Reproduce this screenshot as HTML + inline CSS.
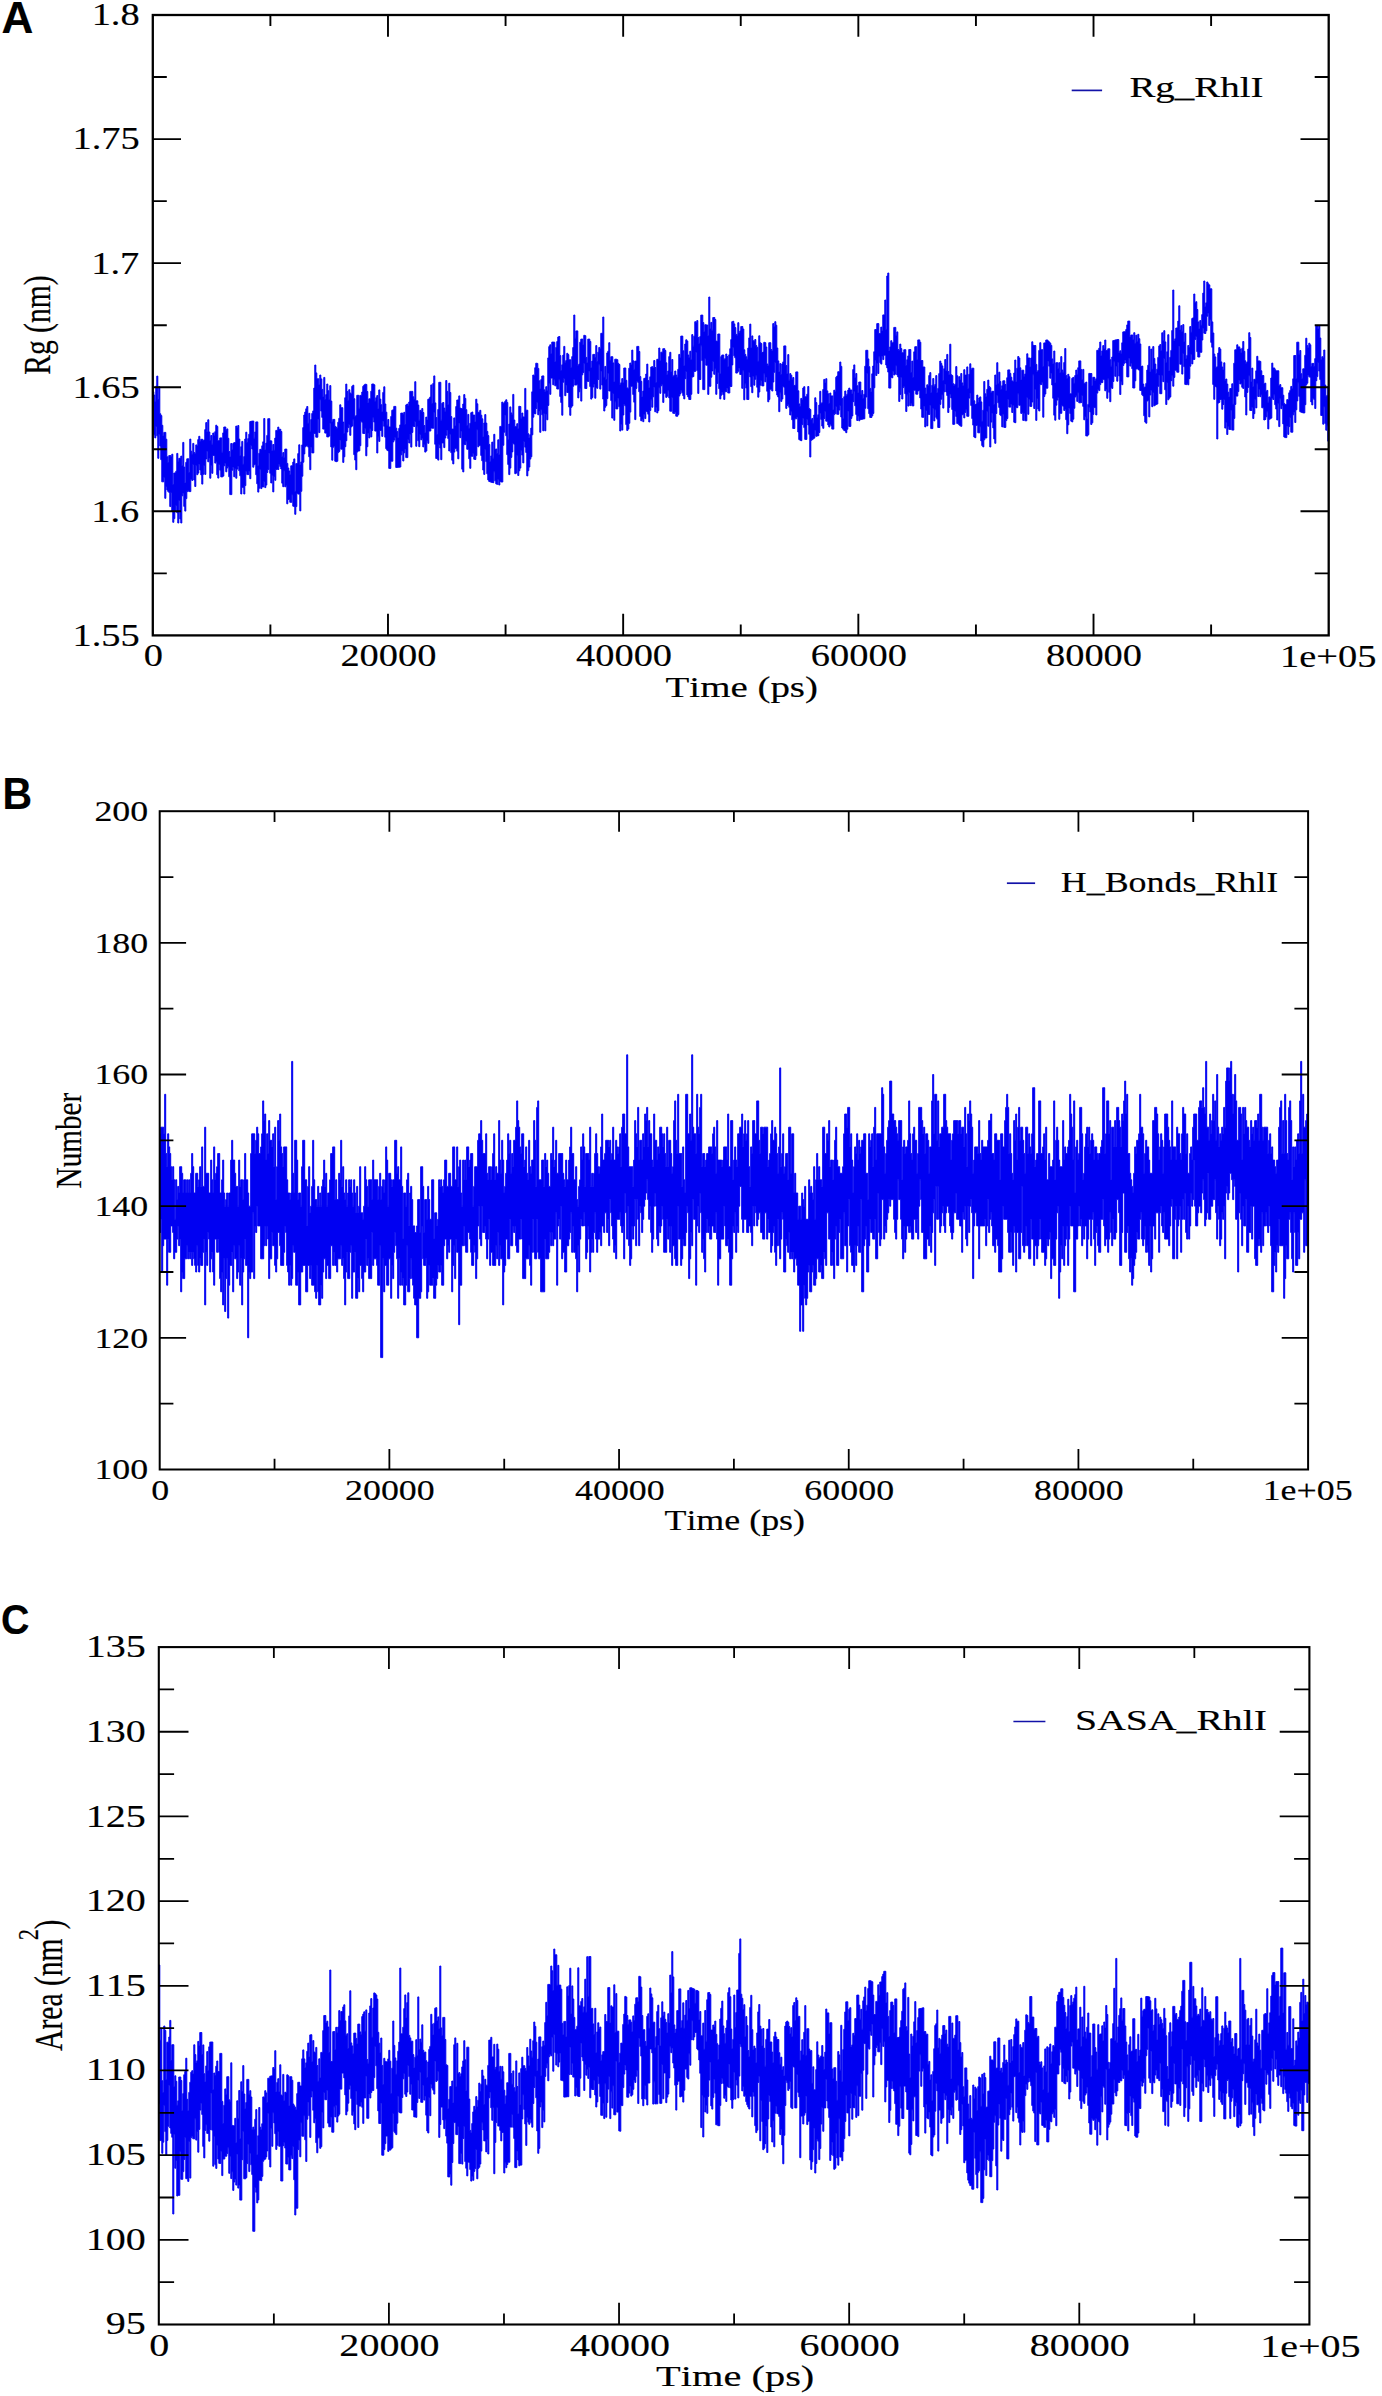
<!DOCTYPE html><html><head><meta charset="utf-8"><title>RhlI MD analysis</title><style>html,body{margin:0;padding:0;background:#fff;}svg{display:block;}</style></head><body><svg width="1382" height="2396" viewBox="0 0 1382 2396"><rect width="1382" height="2396" fill="#fff"/><polygon fill="#0000f2" stroke="#0000f2" stroke-width="1.0" stroke-linejoin="miter" points="152.8,391.8 153.8,391.8 153.8,395.1 154.8,395.1 154.8,401.2 155.8,401.2 155.8,386.2 156.8,386.2 156.8,376.1 157.8,376.1 157.8,399.5 158.8,399.5 158.8,386.6 159.8,386.6 159.8,413.8 160.8,413.8 160.8,415.6 161.8,415.6 161.8,425.3 162.8,425.3 162.8,435.9 163.8,435.9 163.8,432.4 164.8,432.4 164.8,432.4 165.8,432.4 165.8,439.2 166.8,439.2 166.8,456.8 167.8,456.8 167.8,462.6 168.8,462.6 168.8,455.6 169.8,455.6 169.8,455.6 170.8,455.6 170.8,457.0 171.8,457.0 171.8,454.2 172.8,454.2 172.8,484.6 173.8,484.6 173.8,473.0 174.8,473.0 174.8,473.0 175.8,473.0 175.8,471.2 176.8,471.2 176.8,453.4 177.8,453.4 177.8,461.2 178.8,461.2 178.8,458.3 179.8,458.3 179.8,458.3 180.8,458.3 180.8,456.1 181.8,456.1 181.8,465.7 182.8,465.7 182.8,442.4 183.8,442.4 183.8,467.1 184.8,467.1 184.8,482.9 185.8,482.9 185.8,462.3 186.8,462.3 186.8,458.8 187.8,458.8 187.8,458.8 188.8,458.8 188.8,472.5 189.8,472.5 189.8,439.1 190.8,439.1 190.8,451.2 191.8,451.2 191.8,454.3 192.8,454.3 192.8,443.4 193.8,443.4 193.8,452.6 194.8,452.6 194.8,453.4 195.8,453.4 195.8,444.9 196.8,444.9 196.8,446.1 197.8,446.1 197.8,439.6 198.8,439.6 198.8,436.3 199.8,436.3 199.8,441.6 200.8,441.6 200.8,439.3 201.8,439.3 201.8,439.3 202.8,439.3 202.8,440.8 203.8,440.8 203.8,439.9 204.8,439.9 204.8,429.6 205.8,429.6 205.8,422.6 206.8,422.6 206.8,431.9 207.8,431.9 207.8,419.8 208.8,419.8 208.8,432.0 209.8,432.0 209.8,440.6 210.8,440.6 210.8,435.5 211.8,435.5 211.8,444.2 212.8,444.2 212.8,433.0 213.8,433.0 213.8,435.2 214.8,435.2 214.8,431.7 215.8,431.7 215.8,425.2 216.8,425.2 216.8,426.5 217.8,426.5 217.8,440.7 218.8,440.7 218.8,440.6 219.8,440.6 219.8,437.9 220.8,437.9 220.8,437.9 221.8,437.9 221.8,452.2 222.8,452.2 222.8,432.9 223.8,432.9 223.8,427.0 224.8,427.0 224.8,427.0 225.8,427.0 225.8,430.3 226.8,430.3 226.8,428.9 227.8,428.9 227.8,438.3 228.8,438.3 228.8,451.5 229.8,451.5 229.8,457.1 230.8,457.1 230.8,443.5 231.8,443.5 231.8,450.0 232.8,450.0 232.8,443.5 233.8,443.5 233.8,442.6 234.8,442.6 234.8,442.6 235.8,442.6 235.8,426.1 236.8,426.1 236.8,428.0 237.8,428.0 237.8,425.5 238.8,425.5 238.8,439.1 239.8,439.1 239.8,455.8 240.8,455.8 240.8,446.7 241.8,446.7 241.8,441.4 242.8,441.4 242.8,464.3 243.8,464.3 243.8,456.6 244.8,456.6 244.8,439.0 245.8,439.0 245.8,432.2 246.8,432.2 246.8,442.5 247.8,442.5 247.8,438.6 248.8,438.6 248.8,434.2 249.8,434.2 249.8,421.6 250.8,421.6 250.8,421.3 251.8,421.3 251.8,421.1 252.8,421.1 252.8,421.1 253.8,421.1 253.8,438.2 254.8,438.2 254.8,431.9 255.8,431.9 255.8,421.9 256.8,421.9 256.8,421.9 257.8,421.9 257.8,465.7 258.8,465.7 258.8,453.3 259.8,453.3 259.8,449.3 260.8,449.3 260.8,449.8 261.8,449.8 261.8,445.8 262.8,445.8 262.8,441.8 263.8,441.8 263.8,418.5 264.8,418.5 264.8,449.9 265.8,449.9 265.8,443.1 266.8,443.1 266.8,435.4 267.8,435.4 267.8,418.7 268.8,418.7 268.8,418.7 269.8,418.7 269.8,440.7 270.8,440.7 270.8,440.9 271.8,440.9 271.8,451.0 272.8,451.0 272.8,444.5 273.8,444.5 273.8,450.3 274.8,450.3 274.8,438.1 275.8,438.1 275.8,430.4 276.8,430.4 276.8,430.4 277.8,430.4 277.8,427.1 278.8,427.1 278.8,429.3 279.8,429.3 279.8,429.3 280.8,429.3 280.8,431.5 281.8,431.5 281.8,456.4 282.8,456.4 282.8,452.6 283.8,452.6 283.8,457.8 284.8,457.8 284.8,449.1 285.8,449.1 285.8,449.1 286.8,449.1 286.8,463.4 287.8,463.4 287.8,468.0 288.8,468.0 288.8,471.0 289.8,471.0 289.8,474.8 290.8,474.8 290.8,465.8 291.8,465.8 291.8,465.8 292.8,465.8 292.8,462.1 293.8,462.1 293.8,458.9 294.8,458.9 294.8,491.6 295.8,491.6 295.8,463.6 296.8,463.6 296.8,463.6 297.8,463.6 297.8,453.6 298.8,453.6 298.8,444.8 299.8,444.8 299.8,465.1 300.8,465.1 300.8,461.9 301.8,461.9 301.8,444.9 302.8,444.9 302.8,427.6 303.8,427.6 303.8,415.0 304.8,415.0 304.8,412.0 305.8,412.0 305.8,408.8 306.8,408.8 306.8,406.5 307.8,406.5 307.8,423.3 308.8,423.3 308.8,413.3 309.8,413.3 309.8,431.2 310.8,431.2 310.8,419.5 311.8,419.5 311.8,413.4 312.8,413.4 312.8,410.9 313.8,410.9 313.8,388.1 314.8,388.1 314.8,365.0 315.8,365.0 315.8,372.9 316.8,372.9 316.8,378.8 317.8,378.8 317.8,378.8 318.8,378.8 318.8,385.0 319.8,385.0 319.8,375.0 320.8,375.0 320.8,378.9 321.8,378.9 321.8,389.4 322.8,389.4 322.8,397.1 323.8,397.1 323.8,377.4 324.8,377.4 324.8,399.5 325.8,399.5 325.8,394.6 326.8,394.6 326.8,384.0 327.8,384.0 327.8,390.7 328.8,390.7 328.8,399.8 329.8,399.8 329.8,385.6 330.8,385.6 330.8,401.1 331.8,401.1 331.8,421.7 332.8,421.7 332.8,419.4 333.8,419.4 333.8,419.4 334.8,419.4 334.8,426.4 335.8,426.4 335.8,427.3 336.8,427.3 336.8,428.5 337.8,428.5 337.8,422.2 338.8,422.2 338.8,418.3 339.8,418.3 339.8,404.8 340.8,404.8 340.8,407.7 341.8,407.7 341.8,407.7 342.8,407.7 342.8,422.1 343.8,422.1 343.8,433.6 344.8,433.6 344.8,397.7 345.8,397.7 345.8,384.1 346.8,384.1 346.8,391.5 347.8,391.5 347.8,400.4 348.8,400.4 348.8,389.7 349.8,389.7 349.8,393.0 350.8,393.0 350.8,393.9 351.8,393.9 351.8,386.3 352.8,386.3 352.8,385.2 353.8,385.2 353.8,398.7 354.8,398.7 354.8,416.5 355.8,416.5 355.8,415.5 356.8,415.5 356.8,395.3 357.8,395.3 357.8,395.3 358.8,395.3 358.8,408.2 359.8,408.2 359.8,395.4 360.8,395.4 360.8,395.4 361.8,395.4 361.8,392.0 362.8,392.0 362.8,386.3 363.8,386.3 363.8,385.1 364.8,385.1 364.8,384.2 365.8,384.2 365.8,384.4 366.8,384.4 366.8,391.5 367.8,391.5 367.8,402.9 368.8,402.9 368.8,398.8 369.8,398.8 369.8,398.8 370.8,398.8 370.8,391.2 371.8,391.2 371.8,384.0 372.8,384.0 372.8,384.0 373.8,384.0 373.8,384.8 374.8,384.8 374.8,401.3 375.8,401.3 375.8,397.7 376.8,397.7 376.8,395.6 377.8,395.6 377.8,409.1 378.8,409.1 378.8,389.9 379.8,389.9 379.8,399.1 380.8,399.1 380.8,404.7 381.8,404.7 381.8,412.0 382.8,412.0 382.8,392.4 383.8,392.4 383.8,386.8 384.8,386.8 384.8,404.0 385.8,404.0 385.8,412.2 386.8,412.2 386.8,425.2 387.8,425.2 387.8,419.5 388.8,419.5 388.8,427.0 389.8,427.0 389.8,427.0 390.8,427.0 390.8,416.4 391.8,416.4 391.8,410.3 392.8,410.3 392.8,409.8 393.8,409.8 393.8,406.4 394.8,406.4 394.8,406.4 395.8,406.4 395.8,428.2 396.8,428.2 396.8,431.6 397.8,431.6 397.8,438.1 398.8,438.1 398.8,428.3 399.8,428.3 399.8,424.9 400.8,424.9 400.8,413.1 401.8,413.1 401.8,413.1 402.8,413.1 402.8,414.3 403.8,414.3 403.8,412.3 404.8,412.3 404.8,424.5 405.8,424.5 405.8,404.9 406.8,404.9 406.8,404.1 407.8,404.1 407.8,406.0 408.8,406.0 408.8,402.0 409.8,402.0 409.8,391.4 410.8,391.4 410.8,391.4 411.8,391.4 411.8,391.4 412.8,391.4 412.8,396.8 413.8,396.8 413.8,399.3 414.8,399.3 414.8,381.7 415.8,381.7 415.8,400.8 416.8,400.8 416.8,400.8 417.8,400.8 417.8,405.1 418.8,405.1 418.8,420.2 419.8,420.2 419.8,410.3 420.8,410.3 420.8,411.3 421.8,411.3 421.8,408.5 422.8,408.5 422.8,412.5 423.8,412.5 423.8,425.5 424.8,425.5 424.8,433.0 425.8,433.0 425.8,417.1 426.8,417.1 426.8,419.9 427.8,419.9 427.8,399.3 428.8,399.3 428.8,398.8 429.8,398.8 429.8,397.1 430.8,397.1 430.8,384.9 431.8,384.9 431.8,403.5 432.8,403.5 432.8,383.5 433.8,383.5 433.8,375.9 434.8,375.9 434.8,402.9 435.8,402.9 435.8,417.6 436.8,417.6 436.8,434.5 437.8,434.5 437.8,409.5 438.8,409.5 438.8,382.3 439.8,382.3 439.8,382.3 440.8,382.3 440.8,420.2 441.8,420.2 441.8,403.2 442.8,403.2 442.8,402.5 443.8,402.5 443.8,408.1 444.8,408.1 444.8,411.2 445.8,411.2 445.8,380.5 446.8,380.5 446.8,391.4 447.8,391.4 447.8,404.7 448.8,404.7 448.8,383.2 449.8,383.2 449.8,392.5 450.8,392.5 450.8,416.6 451.8,416.6 451.8,429.1 452.8,429.1 452.8,429.1 453.8,429.1 453.8,417.9 454.8,417.9 454.8,426.1 455.8,426.1 455.8,406.5 456.8,406.5 456.8,400.0 457.8,400.0 457.8,400.0 458.8,400.0 458.8,395.9 459.8,395.9 459.8,408.1 460.8,408.1 460.8,408.6 461.8,408.6 461.8,408.8 462.8,408.8 462.8,404.0 463.8,404.0 463.8,394.6 464.8,394.6 464.8,398.4 465.8,398.4 465.8,409.7 466.8,409.7 466.8,425.6 467.8,425.6 467.8,414.4 468.8,414.4 468.8,428.3 469.8,428.3 469.8,423.3 470.8,423.3 470.8,412.7 471.8,412.7 471.8,412.0 472.8,412.0 472.8,415.1 473.8,415.1 473.8,415.1 474.8,415.1 474.8,422.1 475.8,422.1 475.8,399.2 476.8,399.2 476.8,403.8 477.8,403.8 477.8,412.3 478.8,412.3 478.8,412.3 479.8,412.3 479.8,410.3 480.8,410.3 480.8,415.2 481.8,415.2 481.8,418.8 482.8,418.8 482.8,437.1 483.8,437.1 483.8,423.0 484.8,423.0 484.8,414.6 485.8,414.6 485.8,423.1 486.8,423.1 486.8,431.4 487.8,431.4 487.8,435.6 488.8,435.6 488.8,444.4 489.8,444.4 489.8,461.4 490.8,461.4 490.8,455.9 491.8,455.9 491.8,442.1 492.8,442.1 492.8,458.2 493.8,458.2 493.8,434.3 494.8,434.3 494.8,449.3 495.8,449.3 495.8,449.0 496.8,449.0 496.8,453.5 497.8,453.5 497.8,439.8 498.8,439.8 498.8,454.8 499.8,454.8 499.8,426.4 500.8,426.4 500.8,426.4 501.8,426.4 501.8,402.1 502.8,402.1 502.8,403.8 503.8,403.8 503.8,402.7 504.8,402.7 504.8,401.3 505.8,401.3 505.8,399.8 506.8,399.8 506.8,402.4 507.8,402.4 507.8,439.7 508.8,439.7 508.8,424.1 509.8,424.1 509.8,406.9 510.8,406.9 510.8,412.9 511.8,412.9 511.8,414.4 512.8,414.4 512.8,394.4 513.8,394.4 513.8,420.0 514.8,420.0 514.8,426.4 515.8,426.4 515.8,426.4 516.8,426.4 516.8,423.7 517.8,423.7 517.8,428.8 518.8,428.8 518.8,406.3 519.8,406.3 519.8,406.5 520.8,406.5 520.8,418.2 521.8,418.2 521.8,413.0 522.8,413.0 522.8,416.9 523.8,416.9 523.8,416.9 524.8,416.9 524.8,388.4 525.8,388.4 525.8,410.2 526.8,410.2 526.8,410.2 527.8,410.2 527.8,433.7 528.8,433.7 528.8,437.9 529.8,437.9 529.8,434.7 530.8,434.7 530.8,428.1 531.8,428.1 531.8,391.8 532.8,391.8 532.8,375.0 533.8,375.0 533.8,375.7 534.8,375.7 534.8,367.7 535.8,367.7 535.8,363.2 536.8,363.2 536.8,363.4 537.8,363.4 537.8,368.4 538.8,368.4 538.8,380.8 539.8,380.8 539.8,389.1 540.8,389.1 540.8,379.6 541.8,379.6 541.8,376.0 542.8,376.0 542.8,375.9 543.8,375.9 543.8,389.8 544.8,389.8 544.8,391.8 545.8,391.8 545.8,386.7 546.8,386.7 546.8,390.7 547.8,390.7 547.8,357.9 548.8,357.9 548.8,346.6 549.8,346.6 549.8,344.8 550.8,344.8 550.8,353.8 551.8,353.8 551.8,342.1 552.8,342.1 552.8,342.1 553.8,342.1 553.8,342.2 554.8,342.2 554.8,361.7 555.8,361.7 555.8,347.4 556.8,347.4 556.8,341.5 557.8,341.5 557.8,337.0 558.8,337.0 558.8,336.5 559.8,336.5 559.8,355.6 560.8,355.6 560.8,370.6 561.8,370.6 561.8,364.8 562.8,364.8 562.8,355.1 563.8,355.1 563.8,346.4 564.8,346.4 564.8,362.2 565.8,362.2 565.8,360.5 566.8,360.5 566.8,353.3 567.8,353.3 567.8,354.6 568.8,354.6 568.8,359.8 569.8,359.8 569.8,359.8 570.8,359.8 570.8,367.4 571.8,367.4 571.8,356.6 572.8,356.6 572.8,347.5 573.8,347.5 573.8,315.0 574.8,315.0 574.8,338.2 575.8,338.2 575.8,330.9 576.8,330.9 576.8,330.9 577.8,330.9 577.8,365.5 578.8,365.5 578.8,364.1 579.8,364.1 579.8,342.2 580.8,342.2 580.8,339.1 581.8,339.1 581.8,339.1 582.8,339.1 582.8,345.1 583.8,345.1 583.8,335.3 584.8,335.3 584.8,335.7 585.8,335.7 585.8,357.4 586.8,357.4 586.8,363.0 587.8,363.0 587.8,339.1 588.8,339.1 588.8,339.1 589.8,339.1 589.8,341.4 590.8,341.4 590.8,368.0 591.8,368.0 591.8,361.1 592.8,361.1 592.8,354.4 593.8,354.4 593.8,354.4 594.8,354.4 594.8,357.6 595.8,357.6 595.8,345.6 596.8,345.6 596.8,361.5 597.8,361.5 597.8,352.2 598.8,352.2 598.8,347.4 599.8,347.4 599.8,349.0 600.8,349.0 600.8,333.3 601.8,333.3 601.8,333.3 602.8,333.3 602.8,317.0 603.8,317.0 603.8,377.3 604.8,377.3 604.8,366.4 605.8,366.4 605.8,379.5 606.8,379.5 606.8,352.9 607.8,352.9 607.8,351.2 608.8,351.2 608.8,342.7 609.8,342.7 609.8,360.3 610.8,360.3 610.8,356.7 611.8,356.7 611.8,356.7 612.8,356.7 612.8,362.9 613.8,362.9 613.8,382.1 614.8,382.1 614.8,359.2 615.8,359.2 615.8,359.2 616.8,359.2 616.8,359.7 617.8,359.7 617.8,363.3 618.8,363.3 618.8,364.5 619.8,364.5 619.8,384.4 620.8,384.4 620.8,382.8 621.8,382.8 621.8,378.6 622.8,378.6 622.8,383.0 623.8,383.0 623.8,368.0 624.8,368.0 624.8,368.0 625.8,368.0 625.8,380.3 626.8,380.3 626.8,387.9 627.8,387.9 627.8,388.4 628.8,388.4 628.8,368.2 629.8,368.2 629.8,363.0 630.8,363.0 630.8,365.0 631.8,365.0 631.8,350.1 632.8,350.1 632.8,360.8 633.8,360.8 633.8,369.4 634.8,369.4 634.8,361.1 635.8,361.1 635.8,361.1 636.8,361.1 636.8,346.4 637.8,346.4 637.8,346.4 638.8,346.4 638.8,351.5 639.8,351.5 639.8,376.6 640.8,376.6 640.8,381.3 641.8,381.3 641.8,396.9 642.8,396.9 642.8,391.1 643.8,391.1 643.8,378.4 644.8,378.4 644.8,378.0 645.8,378.0 645.8,374.0 646.8,374.0 646.8,364.1 647.8,364.1 647.8,380.6 648.8,380.6 648.8,388.0 649.8,388.0 649.8,376.8 650.8,376.8 650.8,367.1 651.8,367.1 651.8,366.7 652.8,366.7 652.8,367.9 653.8,367.9 653.8,360.5 654.8,360.5 654.8,367.5 655.8,367.5 655.8,382.6 656.8,382.6 656.8,359.3 657.8,359.3 657.8,359.3 658.8,359.3 658.8,348.0 659.8,348.0 659.8,361.0 660.8,361.0 660.8,352.2 661.8,352.2 661.8,352.2 662.8,352.2 662.8,348.7 663.8,348.7 663.8,348.7 664.8,348.7 664.8,350.5 665.8,350.5 665.8,362.8 666.8,362.8 666.8,374.7 667.8,374.7 667.8,371.0 668.8,371.0 668.8,356.6 669.8,356.6 669.8,352.3 670.8,352.3 670.8,372.1 671.8,372.1 671.8,359.5 672.8,359.5 672.8,376.5 673.8,376.5 673.8,375.3 674.8,375.3 674.8,371.0 675.8,371.0 675.8,375.1 676.8,375.1 676.8,377.3 677.8,377.3 677.8,369.3 678.8,369.3 678.8,354.4 679.8,354.4 679.8,358.1 680.8,358.1 680.8,336.1 681.8,336.1 681.8,336.1 682.8,336.1 682.8,350.8 683.8,350.8 683.8,366.0 684.8,366.0 684.8,344.0 685.8,344.0 685.8,339.8 686.8,339.8 686.8,341.0 687.8,341.0 687.8,355.0 688.8,355.0 688.8,357.4 689.8,357.4 689.8,351.2 690.8,351.2 690.8,359.8 691.8,359.8 691.8,334.6 692.8,334.6 692.8,346.2 693.8,346.2 693.8,336.2 694.8,336.2 694.8,321.7 695.8,321.7 695.8,322.7 696.8,322.7 696.8,320.6 697.8,320.6 697.8,337.5 698.8,337.5 698.8,343.4 699.8,343.4 699.8,336.6 700.8,336.6 700.8,315.1 701.8,315.1 701.8,315.1 702.8,315.1 702.8,322.6 703.8,322.6 703.8,331.7 704.8,331.7 704.8,324.7 705.8,324.7 705.8,324.9 706.8,324.9 706.8,325.1 707.8,325.1 707.8,335.7 708.8,335.7 708.8,297.0 709.8,297.0 709.8,329.0 710.8,329.0 710.8,322.4 711.8,322.4 711.8,330.2 712.8,330.2 712.8,317.5 713.8,317.5 713.8,317.5 714.8,317.5 714.8,319.5 715.8,319.5 715.8,341.1 716.8,341.1 716.8,341.5 717.8,341.5 717.8,334.0 718.8,334.0 718.8,334.0 719.8,334.0 719.8,374.0 720.8,374.0 720.8,356.6 721.8,356.6 721.8,355.0 722.8,355.0 722.8,355.0 723.8,355.0 723.8,359.2 724.8,359.2 724.8,358.7 725.8,358.7 725.8,354.0 726.8,354.0 726.8,356.5 727.8,356.5 727.8,366.8 728.8,366.8 728.8,354.8 729.8,354.8 729.8,348.7 730.8,348.7 730.8,339.6 731.8,339.6 731.8,321.7 732.8,321.7 732.8,321.3 733.8,321.3 733.8,323.9 734.8,323.9 734.8,327.6 735.8,327.6 735.8,334.4 736.8,334.4 736.8,335.2 737.8,335.2 737.8,322.7 738.8,322.7 738.8,332.9 739.8,332.9 739.8,331.0 740.8,331.0 740.8,326.5 741.8,326.5 741.8,326.5 742.8,326.5 742.8,329.0 743.8,329.0 743.8,349.8 744.8,349.8 744.8,354.4 745.8,354.4 745.8,356.8 746.8,356.8 746.8,359.3 747.8,359.3 747.8,348.1 748.8,348.1 748.8,337.9 749.8,337.9 749.8,324.1 750.8,324.1 750.8,348.1 751.8,348.1 751.8,335.9 752.8,335.9 752.8,340.7 753.8,340.7 753.8,341.3 754.8,341.3 754.8,339.5 755.8,339.5 755.8,345.6 756.8,345.6 756.8,347.4 757.8,347.4 757.8,361.3 758.8,361.3 758.8,335.8 759.8,335.8 759.8,342.7 760.8,342.7 760.8,343.5 761.8,343.5 761.8,352.5 762.8,352.5 762.8,352.1 763.8,352.1 763.8,342.3 764.8,342.3 764.8,342.7 765.8,342.7 765.8,347.0 766.8,347.0 766.8,364.0 767.8,364.0 767.8,365.7 768.8,365.7 768.8,342.7 769.8,342.7 769.8,342.7 770.8,342.7 770.8,349.5 771.8,349.5 771.8,350.9 772.8,350.9 772.8,323.6 773.8,323.6 773.8,326.8 774.8,326.8 774.8,321.7 775.8,321.7 775.8,325.2 776.8,325.2 776.8,348.0 777.8,348.0 777.8,360.9 778.8,360.9 778.8,371.9 779.8,371.9 779.8,363.6 780.8,363.6 780.8,374.5 781.8,374.5 781.8,363.9 782.8,363.9 782.8,361.9 783.8,361.9 783.8,345.9 784.8,345.9 784.8,345.9 785.8,345.9 785.8,365.5 786.8,365.5 786.8,374.0 787.8,374.0 787.8,354.6 788.8,354.6 788.8,380.2 789.8,380.2 789.8,373.6 790.8,373.6 790.8,375.2 791.8,375.2 791.8,379.2 792.8,379.2 792.8,377.5 793.8,377.5 793.8,385.6 794.8,385.6 794.8,385.2 795.8,385.2 795.8,371.9 796.8,371.9 796.8,371.9 797.8,371.9 797.8,390.8 798.8,390.8 798.8,403.9 799.8,403.9 799.8,406.6 800.8,406.6 800.8,398.4 801.8,398.4 801.8,400.1 802.8,400.1 802.8,388.0 803.8,388.0 803.8,386.7 804.8,386.7 804.8,396.8 805.8,396.8 805.8,396.7 806.8,396.7 806.8,394.2 807.8,394.2 807.8,386.5 808.8,386.5 808.8,408.6 809.8,408.6 809.8,409.5 810.8,409.5 810.8,419.7 811.8,419.7 811.8,418.4 812.8,418.4 812.8,423.3 813.8,423.3 813.8,415.0 814.8,415.0 814.8,397.8 815.8,397.8 815.8,402.6 816.8,402.6 816.8,417.2 817.8,417.2 817.8,414.7 818.8,414.7 818.8,405.1 819.8,405.1 819.8,391.3 820.8,391.3 820.8,403.2 821.8,403.2 821.8,402.8 822.8,402.8 822.8,389.5 823.8,389.5 823.8,379.4 824.8,379.4 824.8,382.9 825.8,382.9 825.8,378.7 826.8,378.7 826.8,390.9 827.8,390.9 827.8,393.8 828.8,393.8 828.8,403.5 829.8,403.5 829.8,393.0 830.8,393.0 830.8,395.9 831.8,395.9 831.8,395.9 832.8,395.9 832.8,410.1 833.8,410.1 833.8,390.2 834.8,390.2 834.8,391.8 835.8,391.8 835.8,377.2 836.8,377.2 836.8,376.0 837.8,376.0 837.8,371.7 838.8,371.7 838.8,371.7 839.8,371.7 839.8,362.0 840.8,362.0 840.8,366.4 841.8,366.4 841.8,398.6 842.8,398.6 842.8,418.8 843.8,418.8 843.8,396.7 844.8,396.7 844.8,391.0 845.8,391.0 845.8,395.9 846.8,395.9 846.8,394.2 847.8,394.2 847.8,390.1 848.8,390.1 848.8,388.1 849.8,388.1 849.8,390.0 850.8,390.0 850.8,390.0 851.8,390.0 851.8,394.1 852.8,394.1 852.8,369.5 853.8,369.5 853.8,364.9 854.8,364.9 854.8,377.8 855.8,377.8 855.8,373.5 856.8,373.5 856.8,385.7 857.8,385.7 857.8,393.1 858.8,393.1 858.8,382.0 859.8,382.0 859.8,382.0 860.8,382.0 860.8,394.2 861.8,394.2 861.8,390.5 862.8,390.5 862.8,398.6 863.8,398.6 863.8,394.3 864.8,394.3 864.8,366.2 865.8,366.2 865.8,350.3 866.8,350.3 866.8,350.3 867.8,350.3 867.8,358.9 868.8,358.9 868.8,366.7 869.8,366.7 869.8,388.4 870.8,388.4 870.8,391.9 871.8,391.9 871.8,373.8 872.8,373.8 872.8,366.0 873.8,366.0 873.8,351.7 874.8,351.7 874.8,329.5 875.8,329.5 875.8,329.5 876.8,329.5 876.8,323.6 877.8,323.6 877.8,323.6 878.8,323.6 878.8,333.6 879.8,333.6 879.8,333.6 880.8,333.6 880.8,327.1 881.8,327.1 881.8,330.9 882.8,330.9 882.8,314.9 883.8,314.9 883.8,314.9 884.8,314.9 884.8,300.0 885.8,300.0 885.8,329.4 886.8,329.4 886.8,276.0 887.8,276.0 887.8,273.0 888.8,273.0 888.8,350.9 889.8,350.9 889.8,346.9 890.8,346.9 890.8,340.7 891.8,340.7 891.8,343.1 892.8,343.1 892.8,342.5 893.8,342.5 893.8,327.4 894.8,327.4 894.8,327.4 895.8,327.4 895.8,335.2 896.8,335.2 896.8,331.9 897.8,331.9 897.8,349.5 898.8,349.5 898.8,350.5 899.8,350.5 899.8,344.1 900.8,344.1 900.8,348.6 901.8,348.6 901.8,352.7 902.8,352.7 902.8,352.7 903.8,352.7 903.8,349.7 904.8,349.7 904.8,349.7 905.8,349.7 905.8,365.5 906.8,365.5 906.8,359.7 907.8,359.7 907.8,355.9 908.8,355.9 908.8,349.5 909.8,349.5 909.8,349.5 910.8,349.5 910.8,372.6 911.8,372.6 911.8,361.1 912.8,361.1 912.8,377.5 913.8,377.5 913.8,351.8 914.8,351.8 914.8,346.7 915.8,346.7 915.8,346.7 916.8,346.7 916.8,359.8 917.8,359.8 917.8,339.9 918.8,339.9 918.8,339.9 919.8,339.9 919.8,342.2 920.8,342.2 920.8,360.5 921.8,360.5 921.8,360.5 922.8,360.5 922.8,367.0 923.8,367.0 923.8,367.0 924.8,367.0 924.8,388.1 925.8,388.1 925.8,394.1 926.8,394.1 926.8,384.8 927.8,384.8 927.8,385.9 928.8,385.9 928.8,375.5 929.8,375.5 929.8,372.6 930.8,372.6 930.8,392.7 931.8,392.7 931.8,385.3 932.8,385.3 932.8,378.5 933.8,378.5 933.8,386.5 934.8,386.5 934.8,384.5 935.8,384.5 935.8,375.6 936.8,375.6 936.8,392.7 937.8,392.7 937.8,388.4 938.8,388.4 938.8,373.6 939.8,373.6 939.8,361.1 940.8,361.1 940.8,363.4 941.8,363.4 941.8,365.9 942.8,365.9 942.8,380.6 943.8,380.6 943.8,368.7 944.8,368.7 944.8,359.5 945.8,359.5 945.8,371.1 946.8,371.1 946.8,354.4 947.8,354.4 947.8,371.5 948.8,371.5 948.8,375.0 949.8,375.0 949.8,344.2 950.8,344.2 950.8,374.7 951.8,374.7 951.8,375.6 952.8,375.6 952.8,383.7 953.8,383.7 953.8,385.4 954.8,385.4 954.8,384.2 955.8,384.2 955.8,366.6 956.8,366.6 956.8,375.8 957.8,375.8 957.8,387.8 958.8,387.8 958.8,376.7 959.8,376.7 959.8,380.1 960.8,380.1 960.8,373.5 961.8,373.5 961.8,382.9 962.8,382.9 962.8,385.8 963.8,385.8 963.8,369.7 964.8,369.7 964.8,375.1 965.8,375.1 965.8,375.1 966.8,375.1 966.8,366.9 967.8,366.9 967.8,388.4 968.8,388.4 968.8,374.3 969.8,374.3 969.8,363.8 970.8,363.8 970.8,370.0 971.8,370.0 971.8,368.2 972.8,368.2 972.8,368.2 973.8,368.2 973.8,400.8 974.8,400.8 974.8,404.6 975.8,404.6 975.8,404.1 976.8,404.1 976.8,395.1 977.8,395.1 977.8,402.5 978.8,402.5 978.8,398.0 979.8,398.0 979.8,396.9 980.8,396.9 980.8,401.9 981.8,401.9 981.8,421.3 982.8,421.3 982.8,410.2 983.8,410.2 983.8,381.5 984.8,381.5 984.8,393.8 985.8,393.8 985.8,396.7 986.8,396.7 986.8,389.3 987.8,389.3 987.8,380.1 988.8,380.1 988.8,386.5 989.8,386.5 989.8,387.7 990.8,387.7 990.8,392.8 991.8,392.8 991.8,391.3 992.8,391.3 992.8,391.3 993.8,391.3 993.8,404.5 994.8,404.5 994.8,375.0 995.8,375.0 995.8,385.1 996.8,385.1 996.8,362.7 997.8,362.7 997.8,383.7 998.8,383.7 998.8,372.2 999.8,372.2 999.8,381.4 1000.8,381.4 1000.8,389.5 1001.8,389.5 1001.8,385.7 1002.8,385.7 1002.8,380.8 1003.8,380.8 1003.8,380.8 1004.8,380.8 1004.8,384.5 1005.8,384.5 1005.8,391.0 1006.8,391.0 1006.8,377.7 1007.8,377.7 1007.8,369.9 1008.8,369.9 1008.8,369.9 1009.8,369.9 1009.8,373.4 1010.8,373.4 1010.8,377.2 1011.8,377.2 1011.8,380.9 1012.8,380.9 1012.8,381.8 1013.8,381.8 1013.8,373.0 1014.8,373.0 1014.8,360.0 1015.8,360.0 1015.8,382.1 1016.8,382.1 1016.8,368.2 1017.8,368.2 1017.8,356.5 1018.8,356.5 1018.8,358.0 1019.8,358.0 1019.8,367.8 1020.8,367.8 1020.8,379.9 1021.8,379.9 1021.8,370.2 1022.8,370.2 1022.8,370.2 1023.8,370.2 1023.8,376.2 1024.8,376.2 1024.8,373.9 1025.8,373.9 1025.8,365.5 1026.8,365.5 1026.8,353.8 1027.8,353.8 1027.8,358.0 1028.8,358.0 1028.8,358.0 1029.8,358.0 1029.8,367.1 1030.8,367.1 1030.8,358.0 1031.8,358.0 1031.8,341.8 1032.8,341.8 1032.8,345.3 1033.8,345.3 1033.8,345.5 1034.8,345.5 1034.8,345.5 1035.8,345.5 1035.8,364.4 1036.8,364.4 1036.8,371.9 1037.8,371.9 1037.8,370.5 1038.8,370.5 1038.8,350.4 1039.8,350.4 1039.8,342.7 1040.8,342.7 1040.8,349.7 1041.8,349.7 1041.8,349.7 1042.8,349.7 1042.8,366.6 1043.8,366.6 1043.8,342.9 1044.8,342.9 1044.8,342.9 1045.8,342.9 1045.8,340.0 1046.8,340.0 1046.8,340.0 1047.8,340.0 1047.8,341.1 1048.8,341.1 1048.8,342.0 1049.8,342.0 1049.8,343.2 1050.8,343.2 1050.8,345.4 1051.8,345.4 1051.8,358.9 1052.8,358.9 1052.8,363.7 1053.8,363.7 1053.8,351.0 1054.8,351.0 1054.8,382.9 1055.8,382.9 1055.8,362.7 1056.8,362.7 1056.8,362.7 1057.8,362.7 1057.8,368.4 1058.8,368.4 1058.8,362.7 1059.8,362.7 1059.8,372.7 1060.8,372.7 1060.8,356.6 1061.8,356.6 1061.8,370.0 1062.8,370.0 1062.8,372.2 1063.8,372.2 1063.8,362.5 1064.8,362.5 1064.8,348.5 1065.8,348.5 1065.8,375.6 1066.8,375.6 1066.8,378.6 1067.8,378.6 1067.8,374.3 1068.8,374.3 1068.8,376.8 1069.8,376.8 1069.8,393.8 1070.8,393.8 1070.8,393.8 1071.8,393.8 1071.8,378.3 1072.8,378.3 1072.8,377.4 1073.8,377.4 1073.8,383.3 1074.8,383.3 1074.8,375.5 1075.8,375.5 1075.8,370.1 1076.8,370.1 1076.8,374.4 1077.8,374.4 1077.8,367.7 1078.8,367.7 1078.8,360.9 1079.8,360.9 1079.8,360.9 1080.8,360.9 1080.8,369.6 1081.8,369.6 1081.8,379.7 1082.8,379.7 1082.8,369.4 1083.8,369.4 1083.8,383.2 1084.8,383.2 1084.8,383.2 1085.8,383.2 1085.8,382.1 1086.8,382.1 1086.8,418.9 1087.8,418.9 1087.8,404.4 1088.8,404.4 1088.8,373.4 1089.8,373.4 1089.8,373.5 1090.8,373.5 1090.8,373.5 1091.8,373.5 1091.8,386.0 1092.8,386.0 1092.8,377.3 1093.8,377.3 1093.8,377.3 1094.8,377.3 1094.8,380.7 1095.8,380.7 1095.8,378.8 1096.8,378.8 1096.8,350.3 1097.8,350.3 1097.8,350.3 1098.8,350.3 1098.8,348.2 1099.8,348.2 1099.8,342.0 1100.8,342.0 1100.8,356.0 1101.8,356.0 1101.8,350.9 1102.8,350.9 1102.8,345.6 1103.8,345.6 1103.8,349.1 1104.8,349.1 1104.8,340.0 1105.8,340.0 1105.8,350.5 1106.8,350.5 1106.8,350.5 1107.8,350.5 1107.8,348.8 1108.8,348.8 1108.8,348.8 1109.8,348.8 1109.8,359.7 1110.8,359.7 1110.8,366.2 1111.8,366.2 1111.8,357.0 1112.8,357.0 1112.8,340.6 1113.8,340.6 1113.8,340.6 1114.8,340.6 1114.8,339.9 1115.8,339.9 1115.8,339.9 1116.8,339.9 1116.8,339.5 1117.8,339.5 1117.8,339.6 1118.8,339.6 1118.8,352.4 1119.8,352.4 1119.8,350.8 1120.8,350.8 1120.8,353.2 1121.8,353.2 1121.8,342.8 1122.8,342.8 1122.8,331.9 1123.8,331.9 1123.8,331.7 1124.8,331.7 1124.8,331.7 1125.8,331.7 1125.8,329.5 1126.8,329.5 1126.8,324.9 1127.8,324.9 1127.8,321.1 1128.8,321.1 1128.8,321.1 1129.8,321.1 1129.8,337.0 1130.8,337.0 1130.8,335.0 1131.8,335.0 1131.8,335.0 1132.8,335.0 1132.8,339.8 1133.8,339.8 1133.8,332.7 1134.8,332.7 1134.8,343.3 1135.8,343.3 1135.8,335.2 1136.8,335.2 1136.8,341.4 1137.8,341.4 1137.8,334.3 1138.8,334.3 1138.8,338.7 1139.8,338.7 1139.8,344.0 1140.8,344.0 1140.8,366.5 1141.8,366.5 1141.8,366.1 1142.8,366.1 1142.8,384.1 1143.8,384.1 1143.8,387.2 1144.8,387.2 1144.8,387.1 1145.8,387.1 1145.8,383.4 1146.8,383.4 1146.8,370.1 1147.8,370.1 1147.8,365.2 1148.8,365.2 1148.8,346.4 1149.8,346.4 1149.8,372.1 1150.8,372.1 1150.8,349.1 1151.8,349.1 1151.8,369.3 1152.8,369.3 1152.8,346.6 1153.8,346.6 1153.8,358.4 1154.8,358.4 1154.8,364.1 1155.8,364.1 1155.8,373.5 1156.8,373.5 1156.8,369.2 1157.8,369.2 1157.8,357.4 1158.8,357.4 1158.8,345.9 1159.8,345.9 1159.8,344.6 1160.8,344.6 1160.8,350.8 1161.8,350.8 1161.8,332.8 1162.8,332.8 1162.8,341.1 1163.8,341.1 1163.8,330.7 1164.8,330.7 1164.8,341.9 1165.8,341.9 1165.8,362.4 1166.8,362.4 1166.8,351.7 1167.8,351.7 1167.8,334.7 1168.8,334.7 1168.8,370.9 1169.8,370.9 1169.8,357.3 1170.8,357.3 1170.8,350.4 1171.8,350.4 1171.8,330.5 1172.8,330.5 1172.8,290.0 1173.8,290.0 1173.8,341.1 1174.8,341.1 1174.8,338.8 1175.8,338.8 1175.8,328.0 1176.8,328.0 1176.8,328.0 1177.8,328.0 1177.8,321.1 1178.8,321.1 1178.8,305.8 1179.8,305.8 1179.8,329.9 1180.8,329.9 1180.8,325.6 1181.8,325.6 1181.8,331.4 1182.8,331.4 1182.8,324.6 1183.8,324.6 1183.8,342.0 1184.8,342.0 1184.8,333.3 1185.8,333.3 1185.8,359.0 1186.8,359.0 1186.8,355.4 1187.8,355.4 1187.8,345.5 1188.8,345.5 1188.8,347.5 1189.8,347.5 1189.8,326.6 1190.8,326.6 1190.8,332.3 1191.8,332.3 1191.8,318.5 1192.8,318.5 1192.8,317.8 1193.8,317.8 1193.8,294.0 1194.8,294.0 1194.8,303.0 1195.8,303.0 1195.8,301.7 1196.8,301.7 1196.8,309.5 1197.8,309.5 1197.8,321.9 1198.8,321.9 1198.8,329.1 1199.8,329.1 1199.8,320.6 1200.8,320.6 1200.8,325.3 1201.8,325.3 1201.8,314.6 1202.8,314.6 1202.8,293.1 1203.8,293.1 1203.8,281.0 1204.8,281.0 1204.8,307.0 1205.8,307.0 1205.8,302.8 1206.8,302.8 1206.8,282.0 1207.8,282.0 1207.8,283.8 1208.8,283.8 1208.8,284.9 1209.8,284.9 1209.8,288.8 1210.8,288.8 1210.8,288.8 1211.8,288.8 1211.8,321.9 1212.8,321.9 1212.8,333.0 1213.8,333.0 1213.8,354.0 1214.8,354.0 1214.8,356.9 1215.8,356.9 1215.8,367.4 1216.8,367.4 1216.8,366.8 1217.8,366.8 1217.8,353.1 1218.8,353.1 1218.8,347.6 1219.8,347.6 1219.8,349.1 1220.8,349.1 1220.8,361.9 1221.8,361.9 1221.8,367.0 1222.8,367.0 1222.8,370.1 1223.8,370.1 1223.8,362.8 1224.8,362.8 1224.8,380.2 1225.8,380.2 1225.8,379.0 1226.8,379.0 1226.8,384.1 1227.8,384.1 1227.8,392.2 1228.8,392.2 1228.8,396.9 1229.8,396.9 1229.8,388.5 1230.8,388.5 1230.8,388.5 1231.8,388.5 1231.8,383.8 1232.8,383.8 1232.8,404.3 1233.8,404.3 1233.8,363.2 1234.8,363.2 1234.8,349.8 1235.8,349.8 1235.8,349.8 1236.8,349.8 1236.8,344.8 1237.8,344.8 1237.8,346.9 1238.8,346.9 1238.8,346.9 1239.8,346.9 1239.8,349.0 1240.8,349.0 1240.8,353.0 1241.8,353.0 1241.8,348.3 1242.8,348.3 1242.8,341.5 1243.8,341.5 1243.8,351.3 1244.8,351.3 1244.8,360.8 1245.8,360.8 1245.8,363.6 1246.8,363.6 1246.8,362.0 1247.8,362.0 1247.8,349.1 1248.8,349.1 1248.8,332.7 1249.8,332.7 1249.8,337.5 1250.8,337.5 1250.8,382.1 1251.8,382.1 1251.8,368.1 1252.8,368.1 1252.8,386.7 1253.8,386.7 1253.8,379.3 1254.8,379.3 1254.8,379.3 1255.8,379.3 1255.8,370.8 1256.8,370.8 1256.8,356.3 1257.8,356.3 1257.8,360.9 1258.8,360.9 1258.8,360.9 1259.8,360.9 1259.8,361.4 1260.8,361.4 1260.8,370.8 1261.8,370.8 1261.8,375.6 1262.8,375.6 1262.8,375.5 1263.8,375.5 1263.8,384.0 1264.8,384.0 1264.8,383.2 1265.8,383.2 1265.8,391.6 1266.8,391.6 1266.8,390.4 1267.8,390.4 1267.8,402.2 1268.8,402.2 1268.8,396.9 1269.8,396.9 1269.8,397.4 1270.8,397.4 1270.8,378.0 1271.8,378.0 1271.8,363.1 1272.8,363.1 1272.8,368.0 1273.8,368.0 1273.8,368.0 1274.8,368.0 1274.8,369.8 1275.8,369.8 1275.8,370.9 1276.8,370.9 1276.8,370.8 1277.8,370.8 1277.8,370.8 1278.8,370.8 1278.8,385.8 1279.8,385.8 1279.8,384.6 1280.8,384.6 1280.8,387.7 1281.8,387.7 1281.8,387.7 1282.8,387.7 1282.8,395.2 1283.8,395.2 1283.8,403.4 1284.8,403.4 1284.8,404.6 1285.8,404.6 1285.8,404.5 1286.8,404.5 1286.8,399.6 1287.8,399.6 1287.8,399.9 1288.8,399.9 1288.8,392.8 1289.8,392.8 1289.8,390.4 1290.8,390.4 1290.8,386.4 1291.8,386.4 1291.8,388.8 1292.8,388.8 1292.8,378.8 1293.8,378.8 1293.8,355.5 1294.8,355.5 1294.8,355.5 1295.8,355.5 1295.8,378.7 1296.8,378.7 1296.8,342.2 1297.8,342.2 1297.8,342.2 1298.8,342.2 1298.8,354.2 1299.8,354.2 1299.8,350.5 1300.8,350.5 1300.8,373.7 1301.8,373.7 1301.8,378.4 1302.8,378.4 1302.8,368.8 1303.8,368.8 1303.8,368.8 1304.8,368.8 1304.8,355.3 1305.8,355.3 1305.8,338.2 1306.8,338.2 1306.8,345.6 1307.8,345.6 1307.8,348.0 1308.8,348.0 1308.8,343.2 1309.8,343.2 1309.8,344.8 1310.8,344.8 1310.8,366.6 1311.8,366.6 1311.8,363.4 1312.8,363.4 1312.8,363.4 1313.8,363.4 1313.8,366.5 1314.8,366.5 1314.8,358.6 1315.8,358.6 1315.8,326.1 1316.8,326.1 1316.8,326.1 1317.8,326.1 1317.8,329.0 1318.8,329.0 1318.8,325.6 1319.8,325.6 1319.8,338.0 1320.8,338.0 1320.8,359.8 1321.8,359.8 1321.8,356.7 1322.8,356.7 1322.8,358.1 1323.8,358.1 1323.8,350.0 1324.8,350.0 1324.8,385.1 1325.8,385.1 1325.8,396.3 1326.8,396.3 1326.8,395.4 1327.8,395.4 1327.8,386.6 1328.7,386.6 1328.7,441.2 1327.8,441.2 1327.8,425.8 1326.8,425.8 1326.8,430.2 1325.8,430.2 1325.8,423.4 1324.8,423.4 1324.8,406.7 1323.8,406.7 1323.8,424.2 1322.8,424.2 1322.8,415.5 1321.8,415.5 1321.8,415.5 1320.8,415.5 1320.8,379.6 1319.8,379.6 1319.8,371.1 1318.8,371.1 1318.8,362.5 1317.8,362.5 1317.8,376.6 1316.8,376.6 1316.8,380.7 1315.8,380.7 1315.8,408.5 1314.8,408.5 1314.8,399.4 1313.8,399.4 1313.8,398.0 1312.8,398.0 1312.8,404.9 1311.8,404.9 1311.8,401.9 1310.8,401.9 1310.8,377.2 1309.8,377.2 1309.8,376.8 1308.8,376.8 1308.8,374.9 1307.8,374.9 1307.8,383.2 1306.8,383.2 1306.8,384.9 1305.8,384.9 1305.8,404.7 1304.8,404.7 1304.8,412.9 1303.8,412.9 1303.8,412.9 1302.8,412.9 1302.8,412.6 1301.8,412.6 1301.8,412.2 1300.8,412.2 1300.8,411.7 1299.8,411.7 1299.8,396.4 1298.8,396.4 1298.8,382.8 1297.8,382.8 1297.8,400.9 1296.8,400.9 1296.8,409.8 1295.8,409.8 1295.8,422.5 1294.8,422.5 1294.8,412.1 1293.8,412.1 1293.8,414.8 1292.8,414.8 1292.8,432.2 1291.8,432.2 1291.8,432.2 1290.8,432.2 1290.8,417.5 1289.8,417.5 1289.8,426.6 1288.8,426.6 1288.8,434.4 1287.8,434.4 1287.8,426.1 1286.8,426.1 1286.8,437.6 1285.8,437.6 1285.8,437.6 1284.8,437.6 1284.8,436.9 1283.8,436.9 1283.8,423.9 1282.8,423.9 1282.8,405.4 1281.8,405.4 1281.8,408.7 1280.8,408.7 1280.8,398.8 1279.8,398.8 1279.8,426.6 1278.8,426.6 1278.8,403.6 1277.8,403.6 1277.8,420.0 1276.8,420.0 1276.8,409.1 1275.8,409.1 1275.8,404.8 1274.8,404.8 1274.8,394.8 1273.8,394.8 1273.8,399.5 1272.8,399.5 1272.8,397.9 1271.8,397.9 1271.8,418.1 1270.8,418.1 1270.8,418.8 1269.8,418.8 1269.8,419.3 1268.8,419.3 1268.8,428.9 1267.8,428.9 1267.8,411.8 1266.8,411.8 1266.8,416.8 1265.8,416.8 1265.8,419.5 1264.8,419.5 1264.8,420.0 1263.8,420.0 1263.8,407.8 1262.8,407.8 1262.8,407.8 1261.8,407.8 1261.8,394.7 1260.8,394.7 1260.8,396.7 1259.8,396.7 1259.8,389.2 1258.8,389.2 1258.8,396.5 1257.8,396.5 1257.8,383.8 1256.8,383.8 1256.8,407.9 1255.8,407.9 1255.8,399.6 1254.8,399.6 1254.8,413.7 1253.8,413.7 1253.8,418.5 1252.8,418.5 1252.8,407.2 1251.8,407.2 1251.8,410.5 1250.8,410.5 1250.8,410.5 1249.8,410.5 1249.8,375.7 1248.8,375.7 1248.8,387.4 1247.8,387.4 1247.8,392.4 1246.8,392.4 1246.8,415.0 1245.8,415.0 1245.8,397.0 1244.8,397.0 1244.8,379.3 1243.8,379.3 1243.8,388.4 1242.8,388.4 1242.8,387.3 1241.8,387.3 1241.8,383.3 1240.8,383.3 1240.8,384.0 1239.8,384.0 1239.8,380.3 1238.8,380.3 1238.8,391.6 1237.8,391.6 1237.8,396.1 1236.8,396.1 1236.8,396.1 1235.8,396.1 1235.8,404.4 1234.8,404.4 1234.8,418.4 1233.8,418.4 1233.8,430.1 1232.8,430.1 1232.8,430.1 1231.8,430.1 1231.8,410.0 1230.8,410.0 1230.8,429.4 1229.8,429.4 1229.8,429.4 1228.8,429.4 1228.8,426.6 1227.8,426.6 1227.8,434.5 1226.8,434.5 1226.8,422.2 1225.8,422.2 1225.8,428.1 1224.8,428.1 1224.8,399.5 1223.8,399.5 1223.8,404.5 1222.8,404.5 1222.8,409.2 1221.8,409.2 1221.8,399.5 1220.8,399.5 1220.8,399.5 1219.8,399.5 1219.8,402.4 1218.8,402.4 1218.8,403.1 1217.8,403.1 1217.8,439.0 1216.8,439.0 1216.8,387.0 1215.8,387.0 1215.8,385.9 1214.8,385.9 1214.8,399.3 1213.8,399.3 1213.8,384.5 1212.8,384.5 1212.8,347.3 1211.8,347.3 1211.8,342.4 1210.8,342.4 1210.8,319.7 1209.8,319.7 1209.8,325.5 1208.8,325.5 1208.8,312.9 1207.8,312.9 1207.8,316.2 1206.8,316.2 1206.8,330.8 1205.8,330.8 1205.8,333.5 1204.8,333.5 1204.8,333.2 1203.8,333.2 1203.8,328.0 1202.8,328.0 1202.8,340.0 1201.8,340.0 1201.8,352.3 1200.8,352.3 1200.8,352.3 1199.8,352.3 1199.8,357.0 1198.8,357.0 1198.8,357.0 1197.8,357.0 1197.8,351.7 1196.8,351.7 1196.8,336.4 1195.8,336.4 1195.8,339.4 1194.8,339.4 1194.8,359.4 1193.8,359.4 1193.8,359.4 1192.8,359.4 1192.8,363.9 1191.8,363.9 1191.8,354.2 1190.8,354.2 1190.8,366.2 1189.8,366.2 1189.8,378.7 1188.8,378.7 1188.8,384.8 1187.8,384.8 1187.8,383.7 1186.8,383.7 1186.8,384.6 1185.8,384.6 1185.8,384.4 1184.8,384.4 1184.8,366.7 1183.8,366.7 1183.8,353.5 1182.8,353.5 1182.8,374.1 1181.8,374.1 1181.8,364.2 1180.8,364.2 1180.8,364.2 1179.8,364.2 1179.8,345.9 1178.8,345.9 1178.8,372.2 1177.8,372.2 1177.8,372.2 1176.8,372.2 1176.8,370.3 1175.8,370.3 1175.8,370.3 1174.8,370.3 1174.8,377.4 1173.8,377.4 1173.8,386.2 1172.8,386.2 1172.8,375.8 1171.8,375.8 1171.8,380.7 1170.8,380.7 1170.8,396.9 1169.8,396.9 1169.8,398.2 1168.8,398.2 1168.8,399.8 1167.8,399.8 1167.8,382.5 1166.8,382.5 1166.8,404.5 1165.8,404.5 1165.8,389.8 1164.8,389.8 1164.8,358.5 1163.8,358.5 1163.8,381.7 1162.8,381.7 1162.8,375.2 1161.8,375.2 1161.8,393.7 1160.8,393.7 1160.8,393.7 1159.8,393.7 1159.8,375.1 1158.8,375.1 1158.8,386.3 1157.8,386.3 1157.8,404.0 1156.8,404.0 1156.8,404.4 1155.8,404.4 1155.8,405.1 1154.8,405.1 1154.8,405.8 1153.8,405.8 1153.8,392.4 1152.8,392.4 1152.8,406.7 1151.8,406.7 1151.8,390.3 1150.8,390.3 1150.8,395.0 1149.8,395.0 1149.8,416.9 1148.8,416.9 1148.8,400.0 1147.8,400.0 1147.8,401.0 1146.8,401.0 1146.8,423.2 1145.8,423.2 1145.8,422.1 1144.8,422.1 1144.8,415.8 1143.8,415.8 1143.8,395.9 1142.8,395.9 1142.8,394.8 1141.8,394.8 1141.8,390.5 1140.8,390.5 1140.8,390.5 1139.8,390.5 1139.8,370.2 1138.8,370.2 1138.8,369.4 1137.8,369.4 1137.8,368.4 1136.8,368.4 1136.8,369.0 1135.8,369.0 1135.8,380.8 1134.8,380.8 1134.8,388.0 1133.8,388.0 1133.8,388.0 1132.8,388.0 1132.8,368.7 1131.8,368.7 1131.8,363.2 1130.8,363.2 1130.8,366.1 1129.8,366.1 1129.8,358.0 1128.8,358.0 1128.8,376.9 1127.8,376.9 1127.8,376.9 1126.8,376.9 1126.8,363.0 1125.8,363.0 1125.8,359.9 1124.8,359.9 1124.8,363.3 1123.8,363.3 1123.8,365.5 1122.8,365.5 1122.8,384.7 1121.8,384.7 1121.8,381.6 1120.8,381.6 1120.8,394.5 1119.8,394.5 1119.8,376.1 1118.8,376.1 1118.8,362.2 1117.8,362.2 1117.8,381.2 1116.8,381.2 1116.8,365.9 1115.8,365.9 1115.8,376.3 1114.8,376.3 1114.8,361.8 1113.8,361.8 1113.8,381.5 1112.8,381.5 1112.8,388.4 1111.8,388.4 1111.8,387.4 1110.8,387.4 1110.8,401.7 1109.8,401.7 1109.8,392.3 1108.8,392.3 1108.8,378.8 1107.8,378.8 1107.8,398.3 1106.8,398.3 1106.8,389.3 1105.8,389.3 1105.8,390.8 1104.8,390.8 1104.8,379.7 1103.8,379.7 1103.8,379.2 1102.8,379.2 1102.8,382.6 1101.8,382.6 1101.8,382.5 1100.8,382.5 1100.8,384.6 1099.8,384.6 1099.8,390.6 1098.8,390.6 1098.8,389.5 1097.8,389.5 1097.8,393.1 1096.8,393.1 1096.8,415.0 1095.8,415.0 1095.8,407.5 1094.8,407.5 1094.8,407.6 1093.8,407.6 1093.8,414.4 1092.8,414.4 1092.8,422.8 1091.8,422.8 1091.8,424.5 1090.8,424.5 1090.8,411.9 1089.8,411.9 1089.8,407.6 1088.8,407.6 1088.8,434.7 1087.8,434.7 1087.8,436.0 1086.8,436.0 1086.8,435.9 1085.8,435.9 1085.8,416.5 1084.8,416.5 1084.8,419.8 1083.8,419.8 1083.8,406.4 1082.8,406.4 1082.8,395.4 1081.8,395.4 1081.8,402.6 1080.8,402.6 1080.8,402.8 1079.8,402.8 1079.8,402.8 1078.8,402.8 1078.8,392.7 1077.8,392.7 1077.8,401.4 1076.8,401.4 1076.8,395.7 1075.8,395.7 1075.8,397.0 1074.8,397.0 1074.8,408.3 1073.8,408.3 1073.8,419.2 1072.8,419.2 1072.8,421.9 1071.8,421.9 1071.8,421.2 1070.8,421.2 1070.8,413.5 1069.8,413.5 1069.8,408.3 1068.8,408.3 1068.8,424.8 1067.8,424.8 1067.8,433.7 1066.8,433.7 1066.8,419.7 1065.8,419.7 1065.8,409.0 1064.8,409.0 1064.8,410.5 1063.8,410.5 1063.8,406.2 1062.8,406.2 1062.8,405.6 1061.8,405.6 1061.8,413.3 1060.8,413.3 1060.8,413.3 1059.8,413.3 1059.8,419.3 1058.8,419.3 1058.8,397.4 1057.8,397.4 1057.8,400.1 1056.8,400.1 1056.8,405.2 1055.8,405.2 1055.8,420.2 1054.8,420.2 1054.8,415.2 1053.8,415.2 1053.8,398.3 1052.8,398.3 1052.8,385.0 1051.8,385.0 1051.8,373.1 1050.8,373.1 1050.8,378.2 1049.8,378.2 1049.8,366.2 1048.8,366.2 1048.8,360.9 1047.8,360.9 1047.8,388.2 1046.8,388.2 1046.8,388.2 1045.8,388.2 1045.8,394.0 1044.8,394.0 1044.8,396.5 1043.8,396.5 1043.8,417.2 1042.8,417.2 1042.8,382.3 1041.8,382.3 1041.8,384.6 1040.8,384.6 1040.8,384.6 1039.8,384.6 1039.8,411.0 1038.8,411.0 1038.8,409.1 1037.8,409.1 1037.8,398.4 1036.8,398.4 1036.8,420.4 1035.8,420.4 1035.8,389.3 1034.8,389.3 1034.8,408.5 1033.8,408.5 1033.8,374.8 1032.8,374.8 1032.8,402.0 1031.8,402.0 1031.8,406.4 1030.8,406.4 1030.8,406.4 1029.8,406.4 1029.8,399.2 1028.8,399.2 1028.8,414.3 1027.8,414.3 1027.8,397.4 1026.8,397.4 1026.8,420.8 1025.8,420.8 1025.8,420.8 1024.8,420.8 1024.8,413.3 1023.8,413.3 1023.8,420.4 1022.8,420.4 1022.8,412.4 1021.8,412.4 1021.8,413.4 1020.8,413.4 1020.8,405.3 1019.8,405.3 1019.8,405.3 1018.8,405.3 1018.8,393.8 1017.8,393.8 1017.8,407.7 1016.8,407.7 1016.8,407.6 1015.8,407.6 1015.8,422.7 1014.8,422.7 1014.8,422.2 1013.8,422.2 1013.8,405.3 1012.8,405.3 1012.8,412.5 1011.8,412.5 1011.8,404.3 1010.8,404.3 1010.8,407.1 1009.8,407.1 1009.8,407.1 1008.8,407.1 1008.8,399.3 1007.8,399.3 1007.8,418.5 1006.8,418.5 1006.8,420.6 1005.8,420.6 1005.8,427.4 1004.8,427.4 1004.8,427.4 1003.8,427.4 1003.8,414.0 1002.8,414.0 1002.8,426.9 1001.8,426.9 1001.8,415.8 1000.8,415.8 1000.8,414.9 999.8,414.9 999.8,407.5 998.8,407.5 998.8,402.8 997.8,402.8 997.8,395.6 996.8,395.6 996.8,413.5 995.8,413.5 995.8,443.3 994.8,443.3 994.8,438.9 993.8,438.9 993.8,427.9 992.8,427.9 992.8,413.0 991.8,413.0 991.8,422.1 990.8,422.1 990.8,447.0 989.8,447.0 989.8,406.0 988.8,406.0 988.8,426.2 987.8,426.2 987.8,411.6 986.8,411.6 986.8,438.0 985.8,438.0 985.8,438.0 984.8,438.0 984.8,439.8 983.8,439.8 983.8,446.9 982.8,446.9 982.8,445.6 981.8,445.6 981.8,440.9 980.8,440.9 980.8,426.7 979.8,426.7 979.8,432.8 978.8,432.8 978.8,432.8 977.8,432.8 977.8,425.2 976.8,425.2 976.8,425.4 975.8,425.4 975.8,437.7 974.8,437.7 974.8,436.9 973.8,436.9 973.8,425.1 972.8,425.1 972.8,418.6 971.8,418.6 971.8,405.5 970.8,405.5 970.8,392.9 969.8,392.9 969.8,398.1 968.8,398.1 968.8,416.3 967.8,416.3 967.8,416.3 966.8,416.3 966.8,409.8 965.8,409.8 965.8,412.4 964.8,412.4 964.8,417.9 963.8,417.9 963.8,414.0 962.8,414.0 962.8,414.8 961.8,414.8 961.8,426.3 960.8,426.3 960.8,425.8 959.8,425.8 959.8,424.9 958.8,424.9 958.8,423.7 957.8,423.7 957.8,423.6 956.8,423.6 956.8,416.5 955.8,416.5 955.8,411.3 954.8,411.3 954.8,424.2 953.8,424.2 953.8,424.4 952.8,424.4 952.8,409.5 951.8,409.5 951.8,397.9 950.8,397.9 950.8,394.0 949.8,394.0 949.8,407.4 948.8,407.4 948.8,412.5 947.8,412.5 947.8,395.5 946.8,395.5 946.8,391.9 945.8,391.9 945.8,384.1 944.8,384.1 944.8,391.8 943.8,391.8 943.8,408.1 942.8,408.1 942.8,394.7 941.8,394.7 941.8,399.2 940.8,399.2 940.8,404.4 939.8,404.4 939.8,427.5 938.8,427.5 938.8,427.5 937.8,427.5 937.8,419.2 936.8,419.2 936.8,417.4 935.8,417.4 935.8,409.7 934.8,409.7 934.8,420.9 933.8,420.9 933.8,408.6 932.8,408.6 932.8,428.6 931.8,428.6 931.8,428.6 930.8,428.6 930.8,405.0 929.8,405.0 929.8,414.4 928.8,414.4 928.8,414.4 927.8,414.4 927.8,425.9 926.8,425.9 926.8,410.5 925.8,410.5 925.8,426.9 924.8,426.9 924.8,405.9 923.8,405.9 923.8,417.3 922.8,417.3 922.8,417.3 921.8,417.3 921.8,409.1 920.8,409.1 920.8,397.9 919.8,397.9 919.8,390.3 918.8,390.3 918.8,390.9 917.8,390.9 917.8,394.2 916.8,394.2 916.8,394.2 915.8,394.2 915.8,390.3 914.8,390.3 914.8,390.3 913.8,390.3 913.8,405.9 912.8,405.9 912.8,405.8 911.8,405.8 911.8,403.2 910.8,403.2 910.8,405.6 909.8,405.6 909.8,392.5 908.8,392.5 908.8,406.1 907.8,406.1 907.8,394.8 906.8,394.8 906.8,411.5 905.8,411.5 905.8,393.7 904.8,393.7 904.8,386.6 903.8,386.6 903.8,387.6 902.8,387.6 902.8,399.0 901.8,399.0 901.8,377.2 900.8,377.2 900.8,394.4 899.8,394.4 899.8,401.5 898.8,401.5 898.8,377.0 897.8,377.0 897.8,375.0 896.8,375.0 896.8,365.7 895.8,365.7 895.8,374.1 894.8,374.1 894.8,375.0 893.8,375.0 893.8,371.2 892.8,371.2 892.8,377.8 891.8,377.8 891.8,377.2 890.8,377.2 890.8,388.1 889.8,388.1 889.8,388.1 888.8,388.1 888.8,372.1 887.8,372.1 887.8,367.9 886.8,367.9 886.8,365.0 885.8,365.0 885.8,355.2 884.8,355.2 884.8,355.2 883.8,355.2 883.8,359.6 882.8,359.6 882.8,356.1 881.8,356.1 881.8,364.1 880.8,364.1 880.8,362.7 879.8,362.7 879.8,356.8 878.8,356.8 878.8,373.5 877.8,373.5 877.8,363.0 876.8,363.0 876.8,375.5 875.8,375.5 875.8,359.9 874.8,359.9 874.8,387.8 873.8,387.8 873.8,413.4 872.8,413.4 872.8,415.8 871.8,415.8 871.8,417.5 870.8,417.5 870.8,417.5 869.8,417.5 869.8,413.7 868.8,413.7 868.8,408.8 867.8,408.8 867.8,373.3 866.8,373.3 866.8,397.0 865.8,397.0 865.8,408.3 864.8,408.3 864.8,418.8 863.8,418.8 863.8,418.9 862.8,418.9 862.8,419.2 861.8,419.2 861.8,419.4 860.8,419.4 860.8,419.4 859.8,419.4 859.8,420.8 858.8,420.8 858.8,416.0 857.8,416.0 857.8,420.5 856.8,420.5 856.8,414.5 855.8,414.5 855.8,405.8 854.8,405.8 854.8,391.3 853.8,391.3 853.8,401.7 852.8,401.7 852.8,415.9 851.8,415.9 851.8,418.4 850.8,418.4 850.8,426.4 849.8,426.4 849.8,426.4 848.8,426.4 848.8,410.9 847.8,410.9 847.8,429.2 846.8,429.2 846.8,432.7 845.8,432.7 845.8,430.9 844.8,430.9 844.8,430.6 843.8,430.6 843.8,429.3 842.8,429.3 842.8,428.0 841.8,428.0 841.8,417.0 840.8,417.0 840.8,405.5 839.8,405.5 839.8,410.1 838.8,410.1 838.8,414.3 837.8,414.3 837.8,414.3 836.8,414.3 836.8,406.4 835.8,406.4 835.8,413.6 834.8,413.6 834.8,414.6 833.8,414.6 833.8,429.1 832.8,429.1 832.8,429.1 831.8,429.1 831.8,425.5 830.8,425.5 830.8,423.9 829.8,423.9 829.8,427.0 828.8,427.0 828.8,425.0 827.8,425.0 827.8,421.2 826.8,421.2 826.8,421.2 825.8,421.2 825.8,411.6 824.8,411.6 824.8,418.5 823.8,418.5 823.8,428.3 822.8,428.3 822.8,426.1 821.8,426.1 821.8,419.4 820.8,419.4 820.8,413.1 819.8,413.1 819.8,432.5 818.8,432.5 818.8,435.7 817.8,435.7 817.8,435.9 816.8,435.9 816.8,436.3 815.8,436.3 815.8,430.0 814.8,430.0 814.8,438.1 813.8,438.1 813.8,438.8 812.8,438.8 812.8,439.6 811.8,439.6 811.8,440.3 810.8,440.3 810.8,457.0 809.8,457.0 809.8,434.3 808.8,434.3 808.8,425.0 807.8,425.0 807.8,419.6 806.8,419.6 806.8,439.4 805.8,439.4 805.8,439.4 804.8,439.4 804.8,427.6 803.8,427.6 803.8,418.2 802.8,418.2 802.8,424.6 801.8,424.6 801.8,440.7 800.8,440.7 800.8,440.2 799.8,440.2 799.8,439.6 798.8,439.6 798.8,432.0 797.8,432.0 797.8,416.9 796.8,416.9 796.8,418.8 795.8,418.8 795.8,418.8 794.8,418.8 794.8,428.5 793.8,428.5 793.8,428.5 792.8,428.5 792.8,419.8 791.8,419.8 791.8,411.6 790.8,411.6 790.8,415.0 789.8,415.0 789.8,407.3 788.8,407.3 788.8,404.6 787.8,404.6 787.8,405.5 786.8,405.5 786.8,408.4 785.8,408.4 785.8,394.8 784.8,394.8 784.8,387.2 783.8,387.2 783.8,386.2 782.8,386.2 782.8,399.0 781.8,399.0 781.8,401.4 780.8,401.4 780.8,392.8 779.8,392.8 779.8,411.7 778.8,411.7 778.8,397.0 777.8,397.0 777.8,395.1 776.8,395.1 776.8,391.0 775.8,391.0 775.8,362.5 774.8,362.5 774.8,372.3 773.8,372.3 773.8,382.0 772.8,382.0 772.8,391.0 771.8,391.0 771.8,389.3 770.8,389.3 770.8,389.3 769.8,389.3 769.8,399.4 768.8,399.4 768.8,401.8 767.8,401.8 767.8,391.3 766.8,391.3 766.8,376.9 765.8,376.9 765.8,381.8 764.8,381.8 764.8,373.8 763.8,373.8 763.8,385.9 762.8,385.9 762.8,385.9 761.8,385.9 761.8,380.5 760.8,380.5 760.8,385.2 759.8,385.2 759.8,392.0 758.8,392.0 758.8,397.2 757.8,397.2 757.8,387.3 756.8,387.3 756.8,375.8 755.8,375.8 755.8,379.3 754.8,379.3 754.8,385.2 753.8,385.2 753.8,376.2 752.8,376.2 752.8,392.7 751.8,392.7 751.8,386.7 750.8,386.7 750.8,376.9 749.8,376.9 749.8,372.4 748.8,372.4 748.8,399.5 747.8,399.5 747.8,399.5 746.8,399.5 746.8,388.1 745.8,388.1 745.8,383.8 744.8,383.8 744.8,399.8 743.8,399.8 743.8,370.8 742.8,370.8 742.8,388.3 741.8,388.3 741.8,374.5 740.8,374.5 740.8,374.5 739.8,374.5 739.8,368.1 738.8,368.1 738.8,371.3 737.8,371.3 737.8,372.8 736.8,372.8 736.8,373.1 735.8,373.1 735.8,357.8 734.8,357.8 734.8,355.8 733.8,355.8 733.8,347.6 732.8,347.6 732.8,364.9 731.8,364.9 731.8,386.5 730.8,386.5 730.8,386.5 729.8,386.5 729.8,393.0 728.8,393.0 728.8,393.0 727.8,393.0 727.8,388.1 726.8,388.1 726.8,391.7 725.8,391.7 725.8,391.7 724.8,391.7 724.8,399.4 723.8,399.4 723.8,394.5 722.8,394.5 722.8,392.1 721.8,392.1 721.8,395.2 720.8,395.2 720.8,398.9 719.8,398.9 719.8,388.7 718.8,388.7 718.8,372.4 717.8,372.4 717.8,383.4 716.8,383.4 716.8,394.3 715.8,394.3 715.8,368.7 714.8,368.7 714.8,374.3 713.8,374.3 713.8,361.5 712.8,361.5 712.8,370.9 711.8,370.9 711.8,377.2 710.8,377.2 710.8,386.3 709.8,386.3 709.8,386.3 708.8,386.3 708.8,394.4 707.8,394.4 707.8,365.2 706.8,365.2 706.8,365.2 705.8,365.2 705.8,358.4 704.8,358.4 704.8,389.6 703.8,389.6 703.8,389.6 702.8,389.6 702.8,360.6 701.8,360.6 701.8,345.8 700.8,345.8 700.8,379.5 699.8,379.5 699.8,379.5 698.8,379.5 698.8,393.4 697.8,393.4 697.8,370.6 696.8,370.6 696.8,352.3 695.8,352.3 695.8,371.3 694.8,371.3 694.8,371.5 693.8,371.5 693.8,376.6 692.8,376.6 692.8,377.1 691.8,377.1 691.8,394.3 690.8,394.3 690.8,399.5 689.8,399.5 689.8,399.5 688.8,399.5 688.8,397.0 687.8,397.0 687.8,394.9 686.8,394.9 686.8,371.5 685.8,371.5 685.8,378.7 684.8,378.7 684.8,398.9 683.8,398.9 683.8,395.7 682.8,395.7 682.8,392.7 681.8,392.7 681.8,390.2 680.8,390.2 680.8,393.9 679.8,393.9 679.8,396.0 678.8,396.0 678.8,414.6 677.8,414.6 677.8,416.2 676.8,416.2 676.8,416.2 675.8,416.2 675.8,412.1 674.8,412.1 674.8,413.4 673.8,413.4 673.8,413.3 672.8,413.3 672.8,397.5 671.8,397.5 671.8,411.2 670.8,411.2 670.8,411.2 669.8,411.2 669.8,397.9 668.8,397.9 668.8,390.8 667.8,390.8 667.8,396.2 666.8,396.2 666.8,397.4 665.8,397.4 665.8,393.2 664.8,393.2 664.8,393.2 663.8,393.2 663.8,402.4 662.8,402.4 662.8,384.6 661.8,384.6 661.8,385.8 660.8,385.8 660.8,393.3 659.8,393.3 659.8,387.7 658.8,387.7 658.8,410.7 657.8,410.7 657.8,412.9 656.8,412.9 656.8,407.2 655.8,407.2 655.8,411.8 654.8,411.8 654.8,387.1 653.8,387.1 653.8,396.8 652.8,396.8 652.8,407.2 651.8,407.2 651.8,399.8 650.8,399.8 650.8,410.5 649.8,410.5 649.8,422.0 648.8,422.0 648.8,414.2 647.8,414.2 647.8,411.9 646.8,411.9 646.8,411.0 645.8,411.0 645.8,418.6 644.8,418.6 644.8,414.0 643.8,414.0 643.8,421.7 642.8,421.7 642.8,419.0 641.8,419.0 641.8,420.8 640.8,420.8 640.8,416.5 639.8,416.5 639.8,391.8 638.8,391.8 638.8,382.4 637.8,382.4 637.8,381.3 636.8,381.3 636.8,388.4 635.8,388.4 635.8,419.6 634.8,419.6 634.8,402.2 633.8,402.2 633.8,394.5 632.8,394.5 632.8,386.3 631.8,386.3 631.8,386.3 630.8,386.3 630.8,412.1 629.8,412.1 629.8,423.3 628.8,423.3 628.8,429.1 627.8,429.1 627.8,430.5 626.8,430.5 626.8,424.6 625.8,424.6 625.8,405.8 624.8,405.8 624.8,404.0 623.8,404.0 623.8,415.0 622.8,415.0 622.8,430.1 621.8,430.1 621.8,424.2 620.8,424.2 620.8,431.0 619.8,431.0 619.8,406.7 618.8,406.7 618.8,398.0 617.8,398.0 617.8,408.9 616.8,408.9 616.8,408.9 615.8,408.9 615.8,401.8 614.8,401.8 614.8,420.3 613.8,420.3 613.8,393.5 612.8,393.5 612.8,418.1 611.8,418.1 611.8,400.6 610.8,400.6 610.8,391.0 609.8,391.0 609.8,391.0 608.8,391.0 608.8,373.3 607.8,373.3 607.8,398.6 606.8,398.6 606.8,405.5 605.8,405.5 605.8,407.2 604.8,407.2 604.8,411.0 603.8,411.0 603.8,399.1 602.8,399.1 602.8,385.1 601.8,385.1 601.8,370.9 600.8,370.9 600.8,389.1 599.8,389.1 599.8,364.8 598.8,364.8 598.8,379.5 597.8,379.5 597.8,388.3 596.8,388.3 596.8,387.4 595.8,387.4 595.8,398.2 594.8,398.2 594.8,383.9 593.8,383.9 593.8,387.0 592.8,387.0 592.8,397.5 591.8,397.5 591.8,399.1 590.8,399.1 590.8,386.6 589.8,386.6 589.8,370.9 588.8,370.9 588.8,381.4 587.8,381.4 587.8,381.3 586.8,381.3 586.8,388.5 585.8,388.5 585.8,388.5 584.8,388.5 584.8,363.6 583.8,363.6 583.8,372.4 582.8,372.4 582.8,374.8 581.8,374.8 581.8,401.1 580.8,401.1 580.8,388.3 579.8,388.3 579.8,391.8 578.8,391.8 578.8,397.9 577.8,397.9 577.8,384.3 576.8,384.3 576.8,385.0 575.8,385.0 575.8,385.0 574.8,385.0 574.8,379.3 573.8,379.3 573.8,386.2 572.8,386.2 572.8,405.9 571.8,405.9 571.8,407.3 570.8,407.3 570.8,415.3 569.8,415.3 569.8,407.1 568.8,407.1 568.8,392.5 567.8,392.5 567.8,392.5 566.8,392.5 566.8,385.1 565.8,385.1 565.8,395.7 564.8,395.7 564.8,378.5 563.8,378.5 563.8,382.2 562.8,382.2 562.8,415.2 561.8,415.2 561.8,402.5 560.8,402.5 560.8,396.5 559.8,396.5 559.8,379.8 558.8,379.8 558.8,389.0 557.8,389.0 557.8,389.0 556.8,389.0 556.8,385.8 555.8,385.8 555.8,385.8 554.8,385.8 554.8,379.8 553.8,379.8 553.8,384.8 552.8,384.8 552.8,378.1 551.8,378.1 551.8,378.1 550.8,378.1 550.8,394.3 549.8,394.3 549.8,383.2 548.8,383.2 548.8,405.4 547.8,405.4 547.8,419.8 546.8,419.8 546.8,414.1 545.8,414.1 545.8,430.8 544.8,430.8 544.8,413.4 543.8,413.4 543.8,430.8 542.8,430.8 542.8,414.8 541.8,414.8 541.8,409.7 540.8,409.7 540.8,432.3 539.8,432.3 539.8,411.1 538.8,411.1 538.8,414.8 537.8,414.8 537.8,402.6 536.8,402.6 536.8,408.5 535.8,408.5 535.8,413.8 534.8,413.8 534.8,413.5 533.8,413.5 533.8,417.2 532.8,417.2 532.8,434.8 531.8,434.8 531.8,456.8 530.8,456.8 530.8,459.1 529.8,459.1 529.8,467.0 528.8,467.0 528.8,470.7 527.8,470.7 527.8,475.9 526.8,475.9 526.8,452.5 525.8,452.5 525.8,447.2 524.8,447.2 524.8,441.5 523.8,441.5 523.8,462.9 522.8,462.9 522.8,455.1 521.8,455.1 521.8,450.6 520.8,450.6 520.8,468.1 519.8,468.1 519.8,470.8 518.8,470.8 518.8,475.5 517.8,475.5 517.8,455.6 516.8,455.6 516.8,473.1 515.8,473.1 515.8,473.7 514.8,473.7 514.8,444.2 513.8,444.2 513.8,443.3 512.8,443.3 512.8,451.9 511.8,451.9 511.8,457.4 510.8,457.4 510.8,468.1 509.8,468.1 509.8,474.6 508.8,474.6 508.8,464.5 507.8,464.5 507.8,454.7 506.8,454.7 506.8,435.8 505.8,435.8 505.8,415.1 504.8,415.1 504.8,432.2 503.8,432.2 503.8,445.3 502.8,445.3 502.8,482.0 501.8,482.0 501.8,482.0 500.8,482.0 500.8,481.3 499.8,481.3 499.8,485.0 498.8,485.0 498.8,479.6 497.8,479.6 497.8,484.3 496.8,484.3 496.8,483.9 495.8,483.9 495.8,480.8 494.8,480.8 494.8,471.8 493.8,471.8 493.8,482.7 492.8,482.7 492.8,482.5 491.8,482.5 491.8,482.2 490.8,482.2 490.8,481.8 489.8,481.8 489.8,481.5 488.8,481.5 488.8,479.9 487.8,479.9 487.8,473.8 486.8,473.8 486.8,461.6 485.8,461.6 485.8,449.6 484.8,449.6 484.8,474.4 483.8,474.4 483.8,470.1 482.8,470.1 482.8,460.8 481.8,460.8 481.8,455.5 480.8,455.5 480.8,445.4 479.8,445.4 479.8,445.4 478.8,445.4 478.8,446.8 477.8,446.8 477.8,429.7 476.8,429.7 476.8,455.6 475.8,455.6 475.8,459.5 474.8,459.5 474.8,459.3 473.8,459.3 473.8,453.6 472.8,453.6 472.8,456.3 471.8,456.3 471.8,456.3 470.8,456.3 470.8,468.3 469.8,468.3 469.8,458.8 468.8,458.8 468.8,449.0 467.8,449.0 467.8,449.3 466.8,449.3 466.8,441.3 465.8,441.3 465.8,444.6 464.8,444.6 464.8,444.6 463.8,444.6 463.8,471.9 462.8,471.9 462.8,469.2 461.8,469.2 461.8,430.9 460.8,430.9 460.8,437.7 459.8,437.7 459.8,422.9 458.8,422.9 458.8,458.8 457.8,458.8 457.8,451.2 456.8,451.2 456.8,448.6 455.8,448.6 455.8,448.6 454.8,448.6 454.8,452.1 453.8,452.1 453.8,463.9 452.8,463.9 452.8,460.3 451.8,460.3 451.8,452.6 450.8,452.6 450.8,434.3 449.8,434.3 449.8,451.0 448.8,451.0 448.8,438.6 447.8,438.6 447.8,430.1 446.8,430.1 446.8,435.2 445.8,435.2 445.8,438.0 444.8,438.0 444.8,447.6 443.8,447.6 443.8,442.9 442.8,442.9 442.8,442.9 441.8,442.9 441.8,459.7 440.8,459.7 440.8,448.0 439.8,448.0 439.8,444.5 438.8,444.5 438.8,460.1 437.8,460.1 437.8,458.5 436.8,458.5 436.8,458.5 435.8,458.5 435.8,444.3 434.8,444.3 434.8,412.2 433.8,412.2 433.8,428.2 432.8,428.2 432.8,428.2 431.8,428.2 431.8,427.9 430.8,427.9 430.8,431.0 429.8,431.0 429.8,431.0 428.8,431.0 428.8,443.3 427.8,443.3 427.8,440.7 426.8,440.7 426.8,451.0 425.8,451.0 425.8,452.1 424.8,452.1 424.8,444.6 423.8,444.6 423.8,446.9 422.8,446.9 422.8,438.3 421.8,438.3 421.8,439.8 420.8,439.8 420.8,434.5 419.8,434.5 419.8,446.7 418.8,446.7 418.8,440.8 417.8,440.8 417.8,426.8 416.8,426.8 416.8,446.3 415.8,446.3 415.8,421.5 414.8,421.5 414.8,426.5 413.8,426.5 413.8,426.3 412.8,426.3 412.8,432.4 411.8,432.4 411.8,447.1 410.8,447.1 410.8,434.3 409.8,434.3 409.8,443.0 408.8,443.0 408.8,439.4 407.8,439.4 407.8,457.6 406.8,457.6 406.8,457.6 405.8,457.6 405.8,448.9 404.8,448.9 404.8,452.8 403.8,452.8 403.8,461.0 402.8,461.0 402.8,450.9 401.8,450.9 401.8,454.8 400.8,454.8 400.8,467.0 399.8,467.0 399.8,467.2 398.8,467.2 398.8,467.3 397.8,467.3 397.8,467.4 396.8,467.4 396.8,467.5 395.8,467.5 395.8,437.6 394.8,437.6 394.8,440.1 393.8,440.1 393.8,441.9 392.8,441.9 392.8,461.2 391.8,461.2 391.8,461.2 390.8,461.2 390.8,468.4 389.8,468.4 389.8,468.4 388.8,468.4 388.8,450.9 387.8,450.9 387.8,450.2 386.8,450.2 386.8,448.7 385.8,448.7 385.8,437.2 384.8,437.2 384.8,426.3 383.8,426.3 383.8,420.9 382.8,420.9 382.8,436.4 381.8,436.4 381.8,430.5 380.8,430.5 380.8,430.5 379.8,430.5 379.8,441.4 378.8,441.4 378.8,436.8 377.8,436.8 377.8,453.0 376.8,453.0 376.8,431.1 375.8,431.1 375.8,431.1 374.8,431.1 374.8,422.1 373.8,422.1 373.8,417.8 372.8,417.8 372.8,430.4 371.8,430.4 371.8,436.9 370.8,436.9 370.8,428.7 369.8,428.7 369.8,437.9 368.8,437.9 368.8,433.1 367.8,433.1 367.8,446.7 366.8,446.7 366.8,455.8 365.8,455.8 365.8,428.6 364.8,428.6 364.8,433.5 363.8,433.5 363.8,433.5 362.8,433.5 362.8,422.3 361.8,422.3 361.8,421.0 360.8,421.0 360.8,445.7 359.8,445.7 359.8,450.9 358.8,450.9 358.8,450.9 357.8,450.9 357.8,452.0 356.8,452.0 356.8,469.7 355.8,469.7 355.8,460.1 354.8,460.1 354.8,454.7 353.8,454.7 353.8,419.8 352.8,419.8 352.8,425.9 351.8,425.9 351.8,426.9 350.8,426.9 350.8,435.3 349.8,435.3 349.8,424.5 348.8,424.5 348.8,427.6 347.8,427.6 347.8,432.0 346.8,432.0 346.8,440.7 345.8,440.7 345.8,446.7 344.8,446.7 344.8,456.8 343.8,456.8 343.8,462.4 342.8,462.4 342.8,449.2 341.8,449.2 341.8,449.2 340.8,449.2 340.8,440.1 339.8,440.1 339.8,451.4 338.8,451.4 338.8,452.6 337.8,452.6 337.8,461.2 336.8,461.2 336.8,461.7 335.8,461.7 335.8,461.2 334.8,461.2 334.8,446.1 333.8,446.1 333.8,447.2 332.8,447.2 332.8,460.2 331.8,460.2 331.8,446.9 330.8,446.9 330.8,423.0 329.8,423.0 329.8,436.0 328.8,436.0 328.8,436.9 327.8,436.9 327.8,436.9 326.8,436.9 326.8,433.1 325.8,433.1 325.8,433.1 324.8,433.1 324.8,429.1 323.8,429.1 323.8,429.1 322.8,429.1 322.8,417.4 321.8,417.4 321.8,411.1 320.8,411.1 320.8,399.7 319.8,399.7 319.8,432.6 318.8,432.6 318.8,418.9 317.8,418.9 317.8,437.2 316.8,437.2 316.8,437.2 315.8,437.2 315.8,433.4 314.8,433.4 314.8,433.4 313.8,433.4 313.8,452.9 312.8,452.9 312.8,452.9 311.8,452.9 311.8,447.1 310.8,447.1 310.8,469.7 309.8,469.7 309.8,456.8 308.8,456.8 308.8,447.1 307.8,447.1 307.8,445.4 306.8,445.4 306.8,446.0 305.8,446.0 305.8,446.8 304.8,446.8 304.8,453.9 303.8,453.9 303.8,462.2 302.8,462.2 302.8,476.2 301.8,476.2 301.8,491.3 300.8,491.3 300.8,510.9 299.8,510.9 299.8,494.1 298.8,494.1 298.8,494.1 297.8,494.1 297.8,493.0 296.8,493.0 296.8,506.6 295.8,506.6 295.8,514.3 294.8,514.3 294.8,506.5 293.8,506.5 293.8,506.2 292.8,506.2 292.8,494.7 291.8,494.7 291.8,502.3 290.8,502.3 290.8,502.3 289.8,502.3 289.8,499.3 288.8,499.3 288.8,499.5 287.8,499.5 287.8,503.8 286.8,503.8 286.8,485.8 285.8,485.8 285.8,486.8 284.8,486.8 284.8,470.7 283.8,470.7 283.8,486.7 282.8,486.7 282.8,483.2 281.8,483.2 281.8,469.0 280.8,469.0 280.8,466.5 279.8,466.5 279.8,464.3 278.8,464.3 278.8,469.5 277.8,469.5 277.8,469.2 276.8,469.2 276.8,469.5 275.8,469.5 275.8,480.3 274.8,480.3 274.8,476.5 273.8,476.5 273.8,491.9 272.8,491.9 272.8,475.6 271.8,475.6 271.8,483.0 270.8,483.0 270.8,473.3 269.8,473.3 269.8,453.1 268.8,453.1 268.8,469.4 267.8,469.4 267.8,472.5 266.8,472.5 266.8,485.1 265.8,485.1 265.8,487.6 264.8,487.6 264.8,481.5 263.8,481.5 263.8,486.9 262.8,486.9 262.8,486.9 261.8,486.9 261.8,488.6 260.8,488.6 260.8,469.6 259.8,469.6 259.8,488.2 258.8,488.2 258.8,492.1 257.8,492.1 257.8,483.8 256.8,483.8 256.8,474.8 255.8,474.8 255.8,464.3 254.8,464.3 254.8,464.8 253.8,464.8 253.8,467.2 252.8,467.2 252.8,449.0 251.8,449.0 251.8,445.5 250.8,445.5 250.8,478.7 249.8,478.7 249.8,471.1 248.8,471.1 248.8,474.6 247.8,474.6 247.8,474.6 246.8,474.6 246.8,471.2 245.8,471.2 245.8,485.6 244.8,485.6 244.8,494.0 243.8,494.0 243.8,487.6 242.8,487.6 242.8,487.2 241.8,487.2 241.8,494.0 240.8,494.0 240.8,475.8 239.8,475.8 239.8,470.8 238.8,470.8 238.8,466.1 237.8,466.1 237.8,469.1 236.8,469.1 236.8,478.2 235.8,478.2 235.8,468.5 234.8,468.5 234.8,476.8 233.8,476.8 233.8,467.1 232.8,467.1 232.8,470.2 231.8,470.2 231.8,494.6 230.8,494.6 230.8,494.6 229.8,494.6 229.8,476.8 228.8,476.8 228.8,466.5 227.8,466.5 227.8,468.0 226.8,468.0 226.8,471.8 225.8,471.8 225.8,463.3 224.8,463.3 224.8,465.8 223.8,465.8 223.8,476.1 222.8,476.1 222.8,476.9 221.8,476.9 221.8,476.9 220.8,476.9 220.8,470.2 219.8,470.2 219.8,464.4 218.8,464.4 218.8,478.1 217.8,478.1 217.8,474.8 216.8,474.8 216.8,461.4 215.8,461.4 215.8,463.1 214.8,463.1 214.8,455.5 213.8,455.5 213.8,455.4 212.8,455.4 212.8,473.3 211.8,473.3 211.8,465.2 210.8,465.2 210.8,478.2 209.8,478.2 209.8,457.9 208.8,457.9 208.8,461.8 207.8,461.8 207.8,451.0 206.8,451.0 206.8,458.9 205.8,458.9 205.8,474.4 204.8,474.4 204.8,465.4 203.8,465.4 203.8,474.3 202.8,474.3 202.8,484.1 201.8,484.1 201.8,474.9 200.8,474.9 200.8,470.0 199.8,470.0 199.8,464.1 198.8,464.1 198.8,473.1 197.8,473.1 197.8,474.7 196.8,474.7 196.8,465.6 195.8,465.6 195.8,486.5 194.8,486.5 194.8,480.0 193.8,480.0 193.8,464.5 192.8,464.5 192.8,480.4 191.8,480.4 191.8,479.0 190.8,479.0 190.8,491.6 189.8,491.6 189.8,491.6 188.8,491.6 188.8,490.7 187.8,490.7 187.8,491.6 186.8,491.6 186.8,498.6 185.8,498.6 185.8,511.1 184.8,511.1 184.8,506.4 183.8,506.4 183.8,493.1 182.8,493.1 182.8,495.8 181.8,495.8 181.8,523.0 180.8,523.0 180.8,518.9 179.8,518.9 179.8,500.4 178.8,500.4 178.8,523.0 177.8,523.0 177.8,512.8 176.8,512.8 176.8,505.5 175.8,505.5 175.8,510.5 174.8,510.5 174.8,518.6 173.8,518.6 173.8,522.3 172.8,522.3 172.8,511.5 171.8,511.5 171.8,492.5 170.8,492.5 170.8,506.6 169.8,506.6 169.8,492.4 168.8,492.4 168.8,491.6 167.8,491.6 167.8,489.9 166.8,489.9 166.8,486.5 165.8,486.5 165.8,498.3 164.8,498.3 164.8,477.6 163.8,477.6 163.8,481.8 162.8,481.8 162.8,481.8 161.8,481.8 161.8,459.7 160.8,459.7 160.8,446.0 159.8,446.0 159.8,434.3 158.8,434.3 158.8,458.3 157.8,458.3 157.8,435.8 156.8,435.8 156.8,426.4 155.8,426.4 155.8,437.9 154.8,437.9 154.8,434.8 153.8,434.8 153.8,429.6 152.8,429.6"/><polygon fill="#0000f2" stroke="#0000f2" stroke-width="1.0" stroke-linejoin="miter" points="159.7,1133.8 160.7,1133.8 160.7,1127.2 161.7,1127.2 161.7,1127.2 162.7,1127.2 162.7,1127.2 163.7,1127.2 163.7,1133.8 164.7,1133.8 164.7,1094.3 165.7,1094.3 165.7,1153.5 166.7,1153.5 166.7,1166.7 167.7,1166.7 167.7,1133.8 168.7,1133.8 168.7,1146.9 169.7,1146.9 169.7,1153.5 170.7,1153.5 170.7,1166.7 171.7,1166.7 171.7,1179.8 172.7,1179.8 172.7,1166.7 173.7,1166.7 173.7,1179.8 174.7,1179.8 174.7,1219.3 175.7,1219.3 175.7,1179.8 176.7,1179.8 176.7,1199.6 177.7,1199.6 177.7,1186.4 178.7,1186.4 178.7,1193.0 179.7,1193.0 179.7,1166.7 180.7,1166.7 180.7,1166.7 181.7,1166.7 181.7,1173.3 182.7,1173.3 182.7,1193.0 183.7,1193.0 183.7,1179.8 184.7,1179.8 184.7,1179.8 185.7,1179.8 185.7,1193.0 186.7,1193.0 186.7,1179.8 187.7,1179.8 187.7,1193.0 188.7,1193.0 188.7,1179.8 189.7,1179.8 189.7,1193.0 190.7,1193.0 190.7,1173.3 191.7,1173.3 191.7,1153.5 192.7,1153.5 192.7,1166.7 193.7,1166.7 193.7,1193.0 194.7,1193.0 194.7,1193.0 195.7,1193.0 195.7,1173.3 196.7,1173.3 196.7,1173.3 197.7,1173.3 197.7,1186.4 198.7,1186.4 198.7,1179.8 199.7,1179.8 199.7,1166.7 200.7,1166.7 200.7,1186.4 201.7,1186.4 201.7,1146.9 202.7,1146.9 202.7,1186.4 203.7,1186.4 203.7,1186.4 204.7,1186.4 204.7,1127.2 205.7,1127.2 205.7,1173.3 206.7,1173.3 206.7,1173.3 207.7,1173.3 207.7,1173.3 208.7,1173.3 208.7,1193.0 209.7,1193.0 209.7,1193.0 210.7,1193.0 210.7,1160.1 211.7,1160.1 211.7,1179.8 212.7,1179.8 212.7,1193.0 213.7,1193.0 213.7,1146.9 214.7,1146.9 214.7,1179.8 215.7,1179.8 215.7,1173.3 216.7,1173.3 216.7,1166.7 217.7,1166.7 217.7,1153.5 218.7,1153.5 218.7,1153.5 219.7,1153.5 219.7,1193.0 220.7,1193.0 220.7,1193.0 221.7,1193.0 221.7,1179.8 222.7,1179.8 222.7,1160.1 223.7,1160.1 223.7,1193.0 224.7,1193.0 224.7,1206.2 225.7,1206.2 225.7,1199.6 226.7,1199.6 226.7,1193.0 227.7,1193.0 227.7,1206.2 228.7,1206.2 228.7,1193.0 229.7,1193.0 229.7,1193.0 230.7,1193.0 230.7,1160.1 231.7,1160.1 231.7,1140.3 232.7,1140.3 232.7,1160.1 233.7,1160.1 233.7,1160.1 234.7,1160.1 234.7,1173.3 235.7,1173.3 235.7,1186.4 236.7,1186.4 236.7,1186.4 237.7,1186.4 237.7,1206.2 238.7,1206.2 238.7,1160.1 239.7,1160.1 239.7,1186.4 240.7,1186.4 240.7,1179.8 241.7,1179.8 241.7,1179.8 242.7,1179.8 242.7,1199.6 243.7,1199.6 243.7,1179.8 244.7,1179.8 244.7,1153.5 245.7,1153.5 245.7,1179.8 246.7,1179.8 246.7,1179.8 247.7,1179.8 247.7,1193.0 248.7,1193.0 248.7,1206.2 249.7,1206.2 249.7,1206.2 250.7,1206.2 250.7,1153.5 251.7,1153.5 251.7,1133.8 252.7,1133.8 252.7,1133.8 253.7,1133.8 253.7,1133.8 254.7,1133.8 254.7,1153.5 255.7,1153.5 255.7,1140.3 256.7,1140.3 256.7,1127.2 257.7,1127.2 257.7,1133.8 258.7,1133.8 258.7,1153.5 259.7,1153.5 259.7,1153.5 260.7,1153.5 260.7,1146.9 261.7,1146.9 261.7,1133.8 262.7,1133.8 262.7,1100.9 263.7,1100.9 263.7,1120.6 264.7,1120.6 264.7,1114.0 265.7,1114.0 265.7,1160.1 266.7,1160.1 266.7,1133.8 267.7,1133.8 267.7,1153.5 268.7,1153.5 268.7,1120.6 269.7,1120.6 269.7,1140.3 270.7,1140.3 270.7,1140.3 271.7,1140.3 271.7,1146.9 272.7,1146.9 272.7,1133.8 273.7,1133.8 273.7,1166.7 274.7,1166.7 274.7,1127.2 275.7,1127.2 275.7,1199.6 276.7,1199.6 276.7,1166.7 277.7,1166.7 277.7,1120.6 278.7,1120.6 278.7,1140.3 279.7,1140.3 279.7,1114.0 280.7,1114.0 280.7,1146.9 281.7,1146.9 281.7,1153.5 282.7,1153.5 282.7,1166.7 283.7,1166.7 283.7,1146.9 284.7,1146.9 284.7,1146.9 285.7,1146.9 285.7,1146.9 286.7,1146.9 286.7,1179.8 287.7,1179.8 287.7,1193.0 288.7,1193.0 288.7,1193.0 289.7,1193.0 289.7,1199.6 290.7,1199.6 290.7,1193.0 291.7,1193.0 291.7,1061.4 292.7,1061.4 292.7,1173.3 293.7,1173.3 293.7,1193.0 294.7,1193.0 294.7,1140.3 295.7,1140.3 295.7,1140.3 296.7,1140.3 296.7,1160.1 297.7,1160.1 297.7,1199.6 298.7,1199.6 298.7,1193.0 299.7,1193.0 299.7,1193.0 300.7,1193.0 300.7,1206.2 301.7,1206.2 301.7,1166.7 302.7,1166.7 302.7,1140.3 303.7,1140.3 303.7,1140.3 304.7,1140.3 304.7,1179.8 305.7,1179.8 305.7,1179.8 306.7,1179.8 306.7,1225.9 307.7,1225.9 307.7,1186.4 308.7,1186.4 308.7,1166.7 309.7,1166.7 309.7,1212.8 310.7,1212.8 310.7,1206.2 311.7,1206.2 311.7,1186.4 312.7,1186.4 312.7,1140.3 313.7,1140.3 313.7,1179.8 314.7,1179.8 314.7,1199.6 315.7,1199.6 315.7,1199.6 316.7,1199.6 316.7,1206.2 317.7,1206.2 317.7,1186.4 318.7,1186.4 318.7,1206.2 319.7,1206.2 319.7,1193.0 320.7,1193.0 320.7,1206.2 321.7,1206.2 321.7,1186.4 322.7,1186.4 322.7,1179.8 323.7,1179.8 323.7,1160.1 324.7,1160.1 324.7,1186.4 325.7,1186.4 325.7,1173.3 326.7,1173.3 326.7,1206.2 327.7,1206.2 327.7,1193.0 328.7,1193.0 328.7,1193.0 329.7,1193.0 329.7,1179.8 330.7,1179.8 330.7,1153.5 331.7,1153.5 331.7,1153.5 332.7,1153.5 332.7,1146.9 333.7,1146.9 333.7,1146.9 334.7,1146.9 334.7,1199.6 335.7,1199.6 335.7,1179.8 336.7,1179.8 336.7,1199.6 337.7,1199.6 337.7,1199.6 338.7,1199.6 338.7,1173.3 339.7,1173.3 339.7,1179.8 340.7,1179.8 340.7,1140.3 341.7,1140.3 341.7,1186.4 342.7,1186.4 342.7,1166.7 343.7,1166.7 343.7,1193.0 344.7,1193.0 344.7,1199.6 345.7,1199.6 345.7,1179.8 346.7,1179.8 346.7,1206.2 347.7,1206.2 347.7,1193.0 348.7,1193.0 348.7,1179.8 349.7,1179.8 349.7,1186.4 350.7,1186.4 350.7,1179.8 351.7,1179.8 351.7,1193.0 352.7,1193.0 352.7,1206.2 353.7,1206.2 353.7,1179.8 354.7,1179.8 354.7,1193.0 355.7,1193.0 355.7,1212.8 356.7,1212.8 356.7,1186.4 357.7,1186.4 357.7,1212.8 358.7,1212.8 358.7,1206.2 359.7,1206.2 359.7,1166.7 360.7,1166.7 360.7,1212.8 361.7,1212.8 361.7,1212.8 362.7,1212.8 362.7,1219.3 363.7,1219.3 363.7,1206.2 364.7,1206.2 364.7,1166.7 365.7,1166.7 365.7,1179.8 366.7,1179.8 366.7,1186.4 367.7,1186.4 367.7,1206.2 368.7,1206.2 368.7,1179.8 369.7,1179.8 369.7,1179.8 370.7,1179.8 370.7,1179.8 371.7,1179.8 371.7,1199.6 372.7,1199.6 372.7,1160.1 373.7,1160.1 373.7,1179.8 374.7,1179.8 374.7,1179.8 375.7,1179.8 375.7,1179.8 376.7,1179.8 376.7,1179.8 377.7,1179.8 377.7,1199.6 378.7,1199.6 378.7,1186.4 379.7,1186.4 379.7,1173.3 380.7,1173.3 380.7,1199.6 381.7,1199.6 381.7,1186.4 382.7,1186.4 382.7,1179.8 383.7,1179.8 383.7,1193.0 384.7,1193.0 384.7,1179.8 385.7,1179.8 385.7,1146.9 386.7,1146.9 386.7,1160.1 387.7,1160.1 387.7,1206.2 388.7,1206.2 388.7,1173.3 389.7,1173.3 389.7,1173.3 390.7,1173.3 390.7,1179.8 391.7,1179.8 391.7,1186.4 392.7,1186.4 392.7,1179.8 393.7,1179.8 393.7,1179.8 394.7,1179.8 394.7,1140.3 395.7,1140.3 395.7,1140.3 396.7,1140.3 396.7,1173.3 397.7,1173.3 397.7,1166.7 398.7,1166.7 398.7,1179.8 399.7,1179.8 399.7,1179.8 400.7,1179.8 400.7,1146.9 401.7,1146.9 401.7,1186.4 402.7,1186.4 402.7,1239.1 403.7,1239.1 403.7,1193.0 404.7,1193.0 404.7,1193.0 405.7,1193.0 405.7,1206.2 406.7,1206.2 406.7,1179.8 407.7,1179.8 407.7,1173.3 408.7,1173.3 408.7,1225.9 409.7,1225.9 409.7,1193.0 410.7,1193.0 410.7,1186.4 411.7,1186.4 411.7,1199.6 412.7,1199.6 412.7,1225.9 413.7,1225.9 413.7,1225.9 414.7,1225.9 414.7,1232.5 415.7,1232.5 415.7,1232.5 416.7,1232.5 416.7,1225.9 417.7,1225.9 417.7,1199.6 418.7,1199.6 418.7,1199.6 419.7,1199.6 419.7,1232.5 420.7,1232.5 420.7,1166.7 421.7,1166.7 421.7,1166.7 422.7,1166.7 422.7,1186.4 423.7,1186.4 423.7,1232.5 424.7,1232.5 424.7,1199.6 425.7,1199.6 425.7,1199.6 426.7,1199.6 426.7,1219.3 427.7,1219.3 427.7,1186.4 428.7,1186.4 428.7,1199.6 429.7,1199.6 429.7,1219.3 430.7,1219.3 430.7,1219.3 431.7,1219.3 431.7,1179.8 432.7,1179.8 432.7,1179.8 433.7,1179.8 433.7,1239.1 434.7,1239.1 434.7,1212.8 435.7,1212.8 435.7,1212.8 436.7,1212.8 436.7,1225.9 437.7,1225.9 437.7,1219.3 438.7,1219.3 438.7,1179.8 439.7,1179.8 439.7,1186.4 440.7,1186.4 440.7,1179.8 441.7,1179.8 441.7,1186.4 442.7,1186.4 442.7,1193.0 443.7,1193.0 443.7,1179.8 444.7,1179.8 444.7,1160.1 445.7,1160.1 445.7,1160.1 446.7,1160.1 446.7,1186.4 447.7,1186.4 447.7,1186.4 448.7,1186.4 448.7,1173.3 449.7,1173.3 449.7,1173.3 450.7,1173.3 450.7,1186.4 451.7,1186.4 451.7,1186.4 452.7,1186.4 452.7,1146.9 453.7,1146.9 453.7,1146.9 454.7,1146.9 454.7,1179.8 455.7,1179.8 455.7,1179.8 456.7,1179.8 456.7,1146.9 457.7,1146.9 457.7,1186.4 458.7,1186.4 458.7,1166.7 459.7,1166.7 459.7,1160.1 460.7,1160.1 460.7,1193.0 461.7,1193.0 461.7,1206.2 462.7,1206.2 462.7,1160.1 463.7,1160.1 463.7,1179.8 464.7,1179.8 464.7,1160.1 465.7,1160.1 465.7,1179.8 466.7,1179.8 466.7,1146.9 467.7,1146.9 467.7,1146.9 468.7,1146.9 468.7,1166.7 469.7,1166.7 469.7,1160.1 470.7,1160.1 470.7,1153.5 471.7,1153.5 471.7,1153.5 472.7,1153.5 472.7,1206.2 473.7,1206.2 473.7,1186.4 474.7,1186.4 474.7,1166.7 475.7,1166.7 475.7,1166.7 476.7,1166.7 476.7,1166.7 477.7,1166.7 477.7,1140.3 478.7,1140.3 478.7,1133.8 479.7,1133.8 479.7,1133.8 480.7,1133.8 480.7,1120.6 481.7,1120.6 481.7,1140.3 482.7,1140.3 482.7,1153.5 483.7,1153.5 483.7,1153.5 484.7,1153.5 484.7,1153.5 485.7,1153.5 485.7,1133.8 486.7,1133.8 486.7,1173.3 487.7,1173.3 487.7,1179.8 488.7,1179.8 488.7,1166.7 489.7,1166.7 489.7,1166.7 490.7,1166.7 490.7,1179.8 491.7,1179.8 491.7,1166.7 492.7,1166.7 492.7,1153.5 493.7,1153.5 493.7,1133.8 494.7,1133.8 494.7,1179.8 495.7,1179.8 495.7,1166.7 496.7,1166.7 496.7,1173.3 497.7,1173.3 497.7,1173.3 498.7,1173.3 498.7,1120.6 499.7,1120.6 499.7,1160.1 500.7,1160.1 500.7,1173.3 501.7,1173.3 501.7,1140.3 502.7,1140.3 502.7,1160.1 503.7,1160.1 503.7,1193.0 504.7,1193.0 504.7,1186.4 505.7,1186.4 505.7,1173.3 506.7,1173.3 506.7,1160.1 507.7,1160.1 507.7,1133.8 508.7,1133.8 508.7,1153.5 509.7,1153.5 509.7,1140.3 510.7,1140.3 510.7,1173.3 511.7,1173.3 511.7,1153.5 512.7,1153.5 512.7,1166.7 513.7,1166.7 513.7,1140.3 514.7,1140.3 514.7,1140.3 515.7,1140.3 515.7,1127.2 516.7,1127.2 516.7,1100.9 517.7,1100.9 517.7,1120.6 518.7,1120.6 518.7,1127.2 519.7,1127.2 519.7,1146.9 520.7,1146.9 520.7,1153.5 521.7,1153.5 521.7,1133.8 522.7,1133.8 522.7,1133.8 523.7,1133.8 523.7,1166.7 524.7,1166.7 524.7,1160.1 525.7,1160.1 525.7,1146.9 526.7,1146.9 526.7,1173.3 527.7,1173.3 527.7,1179.8 528.7,1179.8 528.7,1140.3 529.7,1140.3 529.7,1166.7 530.7,1166.7 530.7,1173.3 531.7,1173.3 531.7,1160.1 532.7,1160.1 532.7,1160.1 533.7,1160.1 533.7,1120.6 534.7,1120.6 534.7,1140.3 535.7,1140.3 535.7,1186.4 536.7,1186.4 536.7,1107.4 537.7,1107.4 537.7,1100.9 538.7,1100.9 538.7,1179.8 539.7,1179.8 539.7,1179.8 540.7,1179.8 540.7,1179.8 541.7,1179.8 541.7,1160.1 542.7,1160.1 542.7,1160.1 543.7,1160.1 543.7,1186.4 544.7,1186.4 544.7,1153.5 545.7,1153.5 545.7,1166.7 546.7,1166.7 546.7,1160.1 547.7,1160.1 547.7,1173.3 548.7,1173.3 548.7,1186.4 549.7,1186.4 549.7,1186.4 550.7,1186.4 550.7,1153.5 551.7,1153.5 551.7,1160.1 552.7,1160.1 552.7,1127.2 553.7,1127.2 553.7,1166.7 554.7,1166.7 554.7,1160.1 555.7,1160.1 555.7,1140.3 556.7,1140.3 556.7,1173.3 557.7,1173.3 557.7,1173.3 558.7,1173.3 558.7,1153.5 559.7,1153.5 559.7,1153.5 560.7,1153.5 560.7,1153.5 561.7,1153.5 561.7,1153.5 562.7,1153.5 562.7,1173.3 563.7,1173.3 563.7,1179.8 564.7,1179.8 564.7,1186.4 565.7,1186.4 565.7,1160.1 566.7,1160.1 566.7,1179.8 567.7,1179.8 567.7,1179.8 568.7,1179.8 568.7,1160.1 569.7,1160.1 569.7,1146.9 570.7,1146.9 570.7,1127.2 571.7,1127.2 571.7,1153.5 572.7,1153.5 572.7,1153.5 573.7,1153.5 573.7,1179.8 574.7,1179.8 574.7,1179.8 575.7,1179.8 575.7,1166.7 576.7,1166.7 576.7,1199.6 577.7,1199.6 577.7,1206.2 578.7,1206.2 578.7,1186.4 579.7,1186.4 579.7,1179.8 580.7,1179.8 580.7,1146.9 581.7,1146.9 581.7,1160.1 582.7,1160.1 582.7,1133.8 583.7,1133.8 583.7,1146.9 584.7,1146.9 584.7,1186.4 585.7,1186.4 585.7,1153.5 586.7,1153.5 586.7,1153.5 587.7,1153.5 587.7,1153.5 588.7,1153.5 588.7,1160.1 589.7,1160.1 589.7,1127.2 590.7,1127.2 590.7,1186.4 591.7,1186.4 591.7,1173.3 592.7,1173.3 592.7,1186.4 593.7,1186.4 593.7,1173.3 594.7,1173.3 594.7,1153.5 595.7,1153.5 595.7,1133.8 596.7,1133.8 596.7,1153.5 597.7,1153.5 597.7,1166.7 598.7,1166.7 598.7,1173.3 599.7,1173.3 599.7,1166.7 600.7,1166.7 600.7,1146.9 601.7,1146.9 601.7,1114.0 602.7,1114.0 602.7,1160.1 603.7,1160.1 603.7,1160.1 604.7,1160.1 604.7,1153.5 605.7,1153.5 605.7,1140.3 606.7,1140.3 606.7,1140.3 607.7,1140.3 607.7,1140.3 608.7,1140.3 608.7,1146.9 609.7,1146.9 609.7,1140.3 610.7,1140.3 610.7,1160.1 611.7,1160.1 611.7,1153.5 612.7,1153.5 612.7,1127.2 613.7,1127.2 613.7,1160.1 614.7,1160.1 614.7,1160.1 615.7,1160.1 615.7,1140.3 616.7,1140.3 616.7,1146.9 617.7,1146.9 617.7,1153.5 618.7,1153.5 618.7,1146.9 619.7,1146.9 619.7,1133.8 620.7,1133.8 620.7,1166.7 621.7,1166.7 621.7,1127.2 622.7,1127.2 622.7,1114.0 623.7,1114.0 623.7,1114.0 624.7,1114.0 624.7,1133.8 625.7,1133.8 625.7,1133.8 626.7,1133.8 626.7,1054.8 627.7,1054.8 627.7,1146.9 628.7,1146.9 628.7,1166.7 629.7,1166.7 629.7,1166.7 630.7,1166.7 630.7,1166.7 631.7,1166.7 631.7,1166.7 632.7,1166.7 632.7,1186.4 633.7,1186.4 633.7,1160.1 634.7,1160.1 634.7,1120.6 635.7,1120.6 635.7,1133.8 636.7,1133.8 636.7,1146.9 637.7,1146.9 637.7,1107.4 638.7,1107.4 638.7,1160.1 639.7,1160.1 639.7,1140.3 640.7,1140.3 640.7,1140.3 641.7,1140.3 641.7,1160.1 642.7,1160.1 642.7,1133.8 643.7,1133.8 643.7,1146.9 644.7,1146.9 644.7,1114.0 645.7,1114.0 645.7,1120.6 646.7,1120.6 646.7,1107.4 647.7,1107.4 647.7,1146.9 648.7,1146.9 648.7,1120.6 649.7,1120.6 649.7,1133.8 650.7,1133.8 650.7,1133.8 651.7,1133.8 651.7,1160.1 652.7,1160.1 652.7,1166.7 653.7,1166.7 653.7,1114.0 654.7,1114.0 654.7,1140.3 655.7,1140.3 655.7,1140.3 656.7,1140.3 656.7,1160.1 657.7,1160.1 657.7,1146.9 658.7,1146.9 658.7,1153.5 659.7,1153.5 659.7,1127.2 660.7,1127.2 660.7,1127.2 661.7,1127.2 661.7,1133.8 662.7,1133.8 662.7,1146.9 663.7,1146.9 663.7,1133.8 664.7,1133.8 664.7,1153.5 665.7,1153.5 665.7,1166.7 666.7,1166.7 666.7,1127.2 667.7,1127.2 667.7,1166.7 668.7,1166.7 668.7,1140.3 669.7,1140.3 669.7,1140.3 670.7,1140.3 670.7,1153.5 671.7,1153.5 671.7,1173.3 672.7,1173.3 672.7,1166.7 673.7,1166.7 673.7,1120.6 674.7,1120.6 674.7,1100.9 675.7,1100.9 675.7,1140.3 676.7,1140.3 676.7,1153.5 677.7,1153.5 677.7,1094.3 678.7,1094.3 678.7,1153.5 679.7,1153.5 679.7,1153.5 680.7,1153.5 680.7,1153.5 681.7,1153.5 681.7,1186.4 682.7,1186.4 682.7,1146.9 683.7,1146.9 683.7,1179.8 684.7,1179.8 684.7,1193.0 685.7,1193.0 685.7,1094.3 686.7,1094.3 686.7,1094.3 687.7,1094.3 687.7,1133.8 688.7,1133.8 688.7,1133.8 689.7,1133.8 689.7,1114.0 690.7,1114.0 690.7,1140.3 691.7,1140.3 691.7,1054.8 692.7,1054.8 692.7,1127.2 693.7,1127.2 693.7,1133.8 694.7,1133.8 694.7,1133.8 695.7,1133.8 695.7,1153.5 696.7,1153.5 696.7,1094.3 697.7,1094.3 697.7,1127.2 698.7,1127.2 698.7,1133.8 699.7,1133.8 699.7,1107.4 700.7,1107.4 700.7,1094.3 701.7,1094.3 701.7,1166.7 702.7,1166.7 702.7,1153.5 703.7,1153.5 703.7,1153.5 704.7,1153.5 704.7,1166.7 705.7,1166.7 705.7,1160.1 706.7,1160.1 706.7,1153.5 707.7,1153.5 707.7,1153.5 708.7,1153.5 708.7,1146.9 709.7,1146.9 709.7,1146.9 710.7,1146.9 710.7,1146.9 711.7,1146.9 711.7,1153.5 712.7,1153.5 712.7,1133.8 713.7,1133.8 713.7,1127.2 714.7,1127.2 714.7,1146.9 715.7,1146.9 715.7,1173.3 716.7,1173.3 716.7,1120.6 717.7,1120.6 717.7,1160.1 718.7,1160.1 718.7,1160.1 719.7,1160.1 719.7,1160.1 720.7,1160.1 720.7,1160.1 721.7,1160.1 721.7,1166.7 722.7,1166.7 722.7,1160.1 723.7,1160.1 723.7,1146.9 724.7,1146.9 724.7,1146.9 725.7,1146.9 725.7,1146.9 726.7,1146.9 726.7,1160.1 727.7,1160.1 727.7,1114.0 728.7,1114.0 728.7,1166.7 729.7,1166.7 729.7,1166.7 730.7,1166.7 730.7,1120.6 731.7,1120.6 731.7,1120.6 732.7,1120.6 732.7,1179.8 733.7,1179.8 733.7,1160.1 734.7,1160.1 734.7,1146.9 735.7,1146.9 735.7,1160.1 736.7,1160.1 736.7,1166.7 737.7,1166.7 737.7,1133.8 738.7,1133.8 738.7,1133.8 739.7,1133.8 739.7,1127.2 740.7,1127.2 740.7,1127.2 741.7,1127.2 741.7,1114.0 742.7,1114.0 742.7,1146.9 743.7,1146.9 743.7,1133.8 744.7,1133.8 744.7,1120.6 745.7,1120.6 745.7,1140.3 746.7,1140.3 746.7,1133.8 747.7,1133.8 747.7,1120.6 748.7,1120.6 748.7,1166.7 749.7,1166.7 749.7,1186.4 750.7,1186.4 750.7,1146.9 751.7,1146.9 751.7,1153.5 752.7,1153.5 752.7,1120.6 753.7,1120.6 753.7,1120.6 754.7,1120.6 754.7,1133.8 755.7,1133.8 755.7,1133.8 756.7,1133.8 756.7,1100.9 757.7,1100.9 757.7,1100.9 758.7,1100.9 758.7,1140.3 759.7,1140.3 759.7,1153.5 760.7,1153.5 760.7,1127.2 761.7,1127.2 761.7,1127.2 762.7,1127.2 762.7,1133.8 763.7,1133.8 763.7,1127.2 764.7,1127.2 764.7,1127.2 765.7,1127.2 765.7,1127.2 766.7,1127.2 766.7,1127.2 767.7,1127.2 767.7,1166.7 768.7,1166.7 768.7,1160.1 769.7,1160.1 769.7,1153.5 770.7,1153.5 770.7,1133.8 771.7,1133.8 771.7,1120.6 772.7,1120.6 772.7,1140.3 773.7,1140.3 773.7,1140.3 774.7,1140.3 774.7,1127.2 775.7,1127.2 775.7,1133.8 776.7,1133.8 776.7,1153.5 777.7,1153.5 777.7,1173.3 778.7,1173.3 778.7,1146.9 779.7,1146.9 779.7,1067.9 780.7,1067.9 780.7,1166.7 781.7,1166.7 781.7,1153.5 782.7,1153.5 782.7,1133.8 783.7,1133.8 783.7,1173.3 784.7,1173.3 784.7,1166.7 785.7,1166.7 785.7,1153.5 786.7,1153.5 786.7,1153.5 787.7,1153.5 787.7,1179.8 788.7,1179.8 788.7,1127.2 789.7,1127.2 789.7,1127.2 790.7,1127.2 790.7,1173.3 791.7,1173.3 791.7,1133.8 792.7,1133.8 792.7,1133.8 793.7,1133.8 793.7,1193.0 794.7,1193.0 794.7,1173.3 795.7,1173.3 795.7,1193.0 796.7,1193.0 796.7,1193.0 797.7,1193.0 797.7,1219.3 798.7,1219.3 798.7,1206.2 799.7,1206.2 799.7,1206.2 800.7,1206.2 800.7,1219.3 801.7,1219.3 801.7,1193.0 802.7,1193.0 802.7,1199.6 803.7,1199.6 803.7,1206.2 804.7,1206.2 804.7,1186.4 805.7,1186.4 805.7,1219.3 806.7,1219.3 806.7,1219.3 807.7,1219.3 807.7,1219.3 808.7,1219.3 808.7,1179.8 809.7,1179.8 809.7,1193.0 810.7,1193.0 810.7,1186.4 811.7,1186.4 811.7,1193.0 812.7,1193.0 812.7,1199.6 813.7,1199.6 813.7,1166.7 814.7,1166.7 814.7,1219.3 815.7,1219.3 815.7,1179.8 816.7,1179.8 816.7,1153.5 817.7,1153.5 817.7,1179.8 818.7,1179.8 818.7,1166.7 819.7,1166.7 819.7,1179.8 820.7,1179.8 820.7,1179.8 821.7,1179.8 821.7,1186.4 822.7,1186.4 822.7,1127.2 823.7,1127.2 823.7,1127.2 824.7,1127.2 824.7,1153.5 825.7,1153.5 825.7,1153.5 826.7,1153.5 826.7,1133.8 827.7,1133.8 827.7,1140.3 828.7,1140.3 828.7,1120.6 829.7,1120.6 829.7,1166.7 830.7,1166.7 830.7,1160.1 831.7,1160.1 831.7,1160.1 832.7,1160.1 832.7,1179.8 833.7,1179.8 833.7,1160.1 834.7,1160.1 834.7,1140.3 835.7,1140.3 835.7,1127.2 836.7,1127.2 836.7,1160.1 837.7,1160.1 837.7,1166.7 838.7,1166.7 838.7,1166.7 839.7,1166.7 839.7,1173.3 840.7,1173.3 840.7,1173.3 841.7,1173.3 841.7,1173.3 842.7,1173.3 842.7,1166.7 843.7,1166.7 843.7,1133.8 844.7,1133.8 844.7,1114.0 845.7,1114.0 845.7,1114.0 846.7,1114.0 846.7,1127.2 847.7,1127.2 847.7,1107.4 848.7,1107.4 848.7,1107.4 849.7,1107.4 849.7,1146.9 850.7,1146.9 850.7,1133.8 851.7,1133.8 851.7,1160.1 852.7,1160.1 852.7,1193.0 853.7,1193.0 853.7,1166.7 854.7,1166.7 854.7,1146.9 855.7,1146.9 855.7,1153.5 856.7,1153.5 856.7,1133.8 857.7,1133.8 857.7,1160.1 858.7,1160.1 858.7,1140.3 859.7,1140.3 859.7,1153.5 860.7,1153.5 860.7,1146.9 861.7,1146.9 861.7,1140.3 862.7,1140.3 862.7,1140.3 863.7,1140.3 863.7,1133.8 864.7,1133.8 864.7,1133.8 865.7,1133.8 865.7,1173.3 866.7,1173.3 866.7,1173.3 867.7,1173.3 867.7,1199.6 868.7,1199.6 868.7,1133.8 869.7,1133.8 869.7,1146.9 870.7,1146.9 870.7,1140.3 871.7,1140.3 871.7,1133.8 872.7,1133.8 872.7,1166.7 873.7,1166.7 873.7,1127.2 874.7,1127.2 874.7,1107.4 875.7,1107.4 875.7,1160.1 876.7,1160.1 876.7,1133.8 877.7,1133.8 877.7,1133.8 878.7,1133.8 878.7,1133.8 879.7,1133.8 879.7,1133.8 880.7,1133.8 880.7,1133.8 881.7,1133.8 881.7,1087.7 882.7,1087.7 882.7,1094.3 883.7,1094.3 883.7,1146.9 884.7,1146.9 884.7,1173.3 885.7,1173.3 885.7,1153.5 886.7,1153.5 886.7,1140.3 887.7,1140.3 887.7,1127.2 888.7,1127.2 888.7,1120.6 889.7,1120.6 889.7,1081.1 890.7,1081.1 890.7,1081.1 891.7,1081.1 891.7,1114.0 892.7,1114.0 892.7,1114.0 893.7,1114.0 893.7,1120.6 894.7,1120.6 894.7,1120.6 895.7,1120.6 895.7,1127.2 896.7,1127.2 896.7,1133.8 897.7,1133.8 897.7,1140.3 898.7,1140.3 898.7,1120.6 899.7,1120.6 899.7,1120.6 900.7,1120.6 900.7,1120.6 901.7,1120.6 901.7,1179.8 902.7,1179.8 902.7,1146.9 903.7,1146.9 903.7,1140.3 904.7,1140.3 904.7,1153.5 905.7,1153.5 905.7,1146.9 906.7,1146.9 906.7,1146.9 907.7,1146.9 907.7,1140.3 908.7,1140.3 908.7,1100.9 909.7,1100.9 909.7,1133.8 910.7,1133.8 910.7,1153.5 911.7,1153.5 911.7,1160.1 912.7,1160.1 912.7,1133.8 913.7,1133.8 913.7,1127.2 914.7,1127.2 914.7,1140.3 915.7,1140.3 915.7,1140.3 916.7,1140.3 916.7,1173.3 917.7,1173.3 917.7,1153.5 918.7,1153.5 918.7,1107.4 919.7,1107.4 919.7,1107.4 920.7,1107.4 920.7,1107.4 921.7,1107.4 921.7,1120.6 922.7,1120.6 922.7,1133.8 923.7,1133.8 923.7,1127.2 924.7,1127.2 924.7,1153.5 925.7,1153.5 925.7,1133.8 926.7,1133.8 926.7,1133.8 927.7,1133.8 927.7,1140.3 928.7,1140.3 928.7,1173.3 929.7,1173.3 929.7,1146.9 930.7,1146.9 930.7,1146.9 931.7,1146.9 931.7,1100.9 932.7,1100.9 932.7,1074.5 933.7,1074.5 933.7,1133.8 934.7,1133.8 934.7,1094.3 935.7,1094.3 935.7,1094.3 936.7,1094.3 936.7,1140.3 937.7,1140.3 937.7,1100.9 938.7,1100.9 938.7,1146.9 939.7,1146.9 939.7,1133.8 940.7,1133.8 940.7,1133.8 941.7,1133.8 941.7,1127.2 942.7,1127.2 942.7,1127.2 943.7,1127.2 943.7,1094.3 944.7,1094.3 944.7,1094.3 945.7,1094.3 945.7,1120.6 946.7,1120.6 946.7,1127.2 947.7,1127.2 947.7,1133.8 948.7,1133.8 948.7,1133.8 949.7,1133.8 949.7,1133.8 950.7,1133.8 950.7,1160.1 951.7,1160.1 951.7,1140.3 952.7,1140.3 952.7,1133.8 953.7,1133.8 953.7,1120.6 954.7,1120.6 954.7,1120.6 955.7,1120.6 955.7,1120.6 956.7,1120.6 956.7,1120.6 957.7,1120.6 957.7,1133.8 958.7,1133.8 958.7,1120.6 959.7,1120.6 959.7,1120.6 960.7,1120.6 960.7,1133.8 961.7,1133.8 961.7,1127.2 962.7,1127.2 962.7,1127.2 963.7,1127.2 963.7,1146.9 964.7,1146.9 964.7,1107.4 965.7,1107.4 965.7,1133.8 966.7,1133.8 966.7,1166.7 967.7,1166.7 967.7,1114.0 968.7,1114.0 968.7,1120.6 969.7,1120.6 969.7,1100.9 970.7,1100.9 970.7,1114.0 971.7,1114.0 971.7,1127.2 972.7,1127.2 972.7,1173.3 973.7,1173.3 973.7,1160.1 974.7,1160.1 974.7,1146.9 975.7,1146.9 975.7,1146.9 976.7,1146.9 976.7,1146.9 977.7,1146.9 977.7,1153.5 978.7,1153.5 978.7,1120.6 979.7,1120.6 979.7,1153.5 980.7,1153.5 980.7,1160.1 981.7,1160.1 981.7,1140.3 982.7,1140.3 982.7,1146.9 983.7,1146.9 983.7,1146.9 984.7,1146.9 984.7,1146.9 985.7,1146.9 985.7,1146.9 986.7,1146.9 986.7,1146.9 987.7,1146.9 987.7,1140.3 988.7,1140.3 988.7,1120.6 989.7,1120.6 989.7,1120.6 990.7,1120.6 990.7,1114.0 991.7,1114.0 991.7,1153.5 992.7,1153.5 992.7,1153.5 993.7,1153.5 993.7,1160.1 994.7,1160.1 994.7,1133.8 995.7,1133.8 995.7,1133.8 996.7,1133.8 996.7,1140.3 997.7,1140.3 997.7,1140.3 998.7,1140.3 998.7,1140.3 999.7,1140.3 999.7,1179.8 1000.7,1179.8 1000.7,1133.8 1001.7,1133.8 1001.7,1133.8 1002.7,1133.8 1002.7,1146.9 1003.7,1146.9 1003.7,1146.9 1004.7,1146.9 1004.7,1120.6 1005.7,1120.6 1005.7,1107.4 1006.7,1107.4 1006.7,1094.3 1007.7,1094.3 1007.7,1107.4 1008.7,1107.4 1008.7,1153.5 1009.7,1153.5 1009.7,1133.8 1010.7,1133.8 1010.7,1153.5 1011.7,1153.5 1011.7,1173.3 1012.7,1173.3 1012.7,1179.8 1013.7,1179.8 1013.7,1120.6 1014.7,1120.6 1014.7,1140.3 1015.7,1140.3 1015.7,1114.0 1016.7,1114.0 1016.7,1160.1 1017.7,1160.1 1017.7,1127.2 1018.7,1127.2 1018.7,1107.4 1019.7,1107.4 1019.7,1140.3 1020.7,1140.3 1020.7,1127.2 1021.7,1127.2 1021.7,1127.2 1022.7,1127.2 1022.7,1140.3 1023.7,1140.3 1023.7,1153.5 1024.7,1153.5 1024.7,1173.3 1025.7,1173.3 1025.7,1127.2 1026.7,1127.2 1026.7,1127.2 1027.7,1127.2 1027.7,1153.5 1028.7,1153.5 1028.7,1133.8 1029.7,1133.8 1029.7,1146.9 1030.7,1146.9 1030.7,1153.5 1031.7,1153.5 1031.7,1133.8 1032.7,1133.8 1032.7,1087.7 1033.7,1087.7 1033.7,1087.7 1034.7,1087.7 1034.7,1166.7 1035.7,1166.7 1035.7,1160.1 1036.7,1160.1 1036.7,1153.5 1037.7,1153.5 1037.7,1153.5 1038.7,1153.5 1038.7,1100.9 1039.7,1100.9 1039.7,1100.9 1040.7,1100.9 1040.7,1153.5 1041.7,1153.5 1041.7,1153.5 1042.7,1153.5 1042.7,1146.9 1043.7,1146.9 1043.7,1133.8 1044.7,1133.8 1044.7,1160.1 1045.7,1160.1 1045.7,1127.2 1046.7,1127.2 1046.7,1179.8 1047.7,1179.8 1047.7,1179.8 1048.7,1179.8 1048.7,1153.5 1049.7,1153.5 1049.7,1166.7 1050.7,1166.7 1050.7,1166.7 1051.7,1166.7 1051.7,1166.7 1052.7,1166.7 1052.7,1160.1 1053.7,1160.1 1053.7,1100.9 1054.7,1100.9 1054.7,1179.8 1055.7,1179.8 1055.7,1140.3 1056.7,1140.3 1056.7,1127.2 1057.7,1127.2 1057.7,1140.3 1058.7,1140.3 1058.7,1160.1 1059.7,1160.1 1059.7,1166.7 1060.7,1166.7 1060.7,1166.7 1061.7,1166.7 1061.7,1166.7 1062.7,1166.7 1062.7,1120.6 1063.7,1120.6 1063.7,1160.1 1064.7,1160.1 1064.7,1146.9 1065.7,1146.9 1065.7,1153.5 1066.7,1153.5 1066.7,1153.5 1067.7,1153.5 1067.7,1146.9 1068.7,1146.9 1068.7,1140.3 1069.7,1140.3 1069.7,1094.3 1070.7,1094.3 1070.7,1114.0 1071.7,1114.0 1071.7,1127.2 1072.7,1127.2 1072.7,1160.1 1073.7,1160.1 1073.7,1100.9 1074.7,1100.9 1074.7,1193.0 1075.7,1193.0 1075.7,1146.9 1076.7,1146.9 1076.7,1140.3 1077.7,1140.3 1077.7,1160.1 1078.7,1160.1 1078.7,1153.5 1079.7,1153.5 1079.7,1107.4 1080.7,1107.4 1080.7,1107.4 1081.7,1107.4 1081.7,1133.8 1082.7,1133.8 1082.7,1179.8 1083.7,1179.8 1083.7,1173.3 1084.7,1173.3 1084.7,1146.9 1085.7,1146.9 1085.7,1133.8 1086.7,1133.8 1086.7,1127.2 1087.7,1127.2 1087.7,1146.9 1088.7,1146.9 1088.7,1127.2 1089.7,1127.2 1089.7,1153.5 1090.7,1153.5 1090.7,1140.3 1091.7,1140.3 1091.7,1133.8 1092.7,1133.8 1092.7,1140.3 1093.7,1140.3 1093.7,1160.1 1094.7,1160.1 1094.7,1146.9 1095.7,1146.9 1095.7,1146.9 1096.7,1146.9 1096.7,1153.5 1097.7,1153.5 1097.7,1160.1 1098.7,1160.1 1098.7,1153.5 1099.7,1153.5 1099.7,1153.5 1100.7,1153.5 1100.7,1146.9 1101.7,1146.9 1101.7,1140.3 1102.7,1140.3 1102.7,1087.7 1103.7,1087.7 1103.7,1087.7 1104.7,1087.7 1104.7,1153.5 1105.7,1153.5 1105.7,1133.8 1106.7,1133.8 1106.7,1100.9 1107.7,1100.9 1107.7,1100.9 1108.7,1100.9 1108.7,1133.8 1109.7,1133.8 1109.7,1120.6 1110.7,1120.6 1110.7,1179.8 1111.7,1179.8 1111.7,1127.2 1112.7,1127.2 1112.7,1127.2 1113.7,1127.2 1113.7,1146.9 1114.7,1146.9 1114.7,1120.6 1115.7,1120.6 1115.7,1146.9 1116.7,1146.9 1116.7,1107.4 1117.7,1107.4 1117.7,1107.4 1118.7,1107.4 1118.7,1120.6 1119.7,1120.6 1119.7,1127.2 1120.7,1127.2 1120.7,1146.9 1121.7,1146.9 1121.7,1114.0 1122.7,1114.0 1122.7,1120.6 1123.7,1120.6 1123.7,1100.9 1124.7,1100.9 1124.7,1081.1 1125.7,1081.1 1125.7,1114.0 1126.7,1114.0 1126.7,1094.3 1127.7,1094.3 1127.7,1153.5 1128.7,1153.5 1128.7,1153.5 1129.7,1153.5 1129.7,1173.3 1130.7,1173.3 1130.7,1179.8 1131.7,1179.8 1131.7,1186.4 1132.7,1186.4 1132.7,1193.0 1133.7,1193.0 1133.7,1173.3 1134.7,1173.3 1134.7,1146.9 1135.7,1146.9 1135.7,1153.5 1136.7,1153.5 1136.7,1140.3 1137.7,1140.3 1137.7,1140.3 1138.7,1140.3 1138.7,1133.8 1139.7,1133.8 1139.7,1094.3 1140.7,1094.3 1140.7,1127.2 1141.7,1127.2 1141.7,1127.2 1142.7,1127.2 1142.7,1133.8 1143.7,1133.8 1143.7,1173.3 1144.7,1173.3 1144.7,1153.5 1145.7,1153.5 1145.7,1140.3 1146.7,1140.3 1146.7,1146.9 1147.7,1146.9 1147.7,1146.9 1148.7,1146.9 1148.7,1160.1 1149.7,1160.1 1149.7,1173.3 1150.7,1173.3 1150.7,1173.3 1151.7,1173.3 1151.7,1173.3 1152.7,1173.3 1152.7,1120.6 1153.7,1120.6 1153.7,1120.6 1154.7,1120.6 1154.7,1107.4 1155.7,1107.4 1155.7,1107.4 1156.7,1107.4 1156.7,1114.0 1157.7,1114.0 1157.7,1133.8 1158.7,1133.8 1158.7,1160.1 1159.7,1160.1 1159.7,1146.9 1160.7,1146.9 1160.7,1133.8 1161.7,1133.8 1161.7,1140.3 1162.7,1140.3 1162.7,1173.3 1163.7,1173.3 1163.7,1146.9 1164.7,1146.9 1164.7,1114.0 1165.7,1114.0 1165.7,1114.0 1166.7,1114.0 1166.7,1114.0 1167.7,1114.0 1167.7,1127.2 1168.7,1127.2 1168.7,1140.3 1169.7,1140.3 1169.7,1146.9 1170.7,1146.9 1170.7,1160.1 1171.7,1160.1 1171.7,1100.9 1172.7,1100.9 1172.7,1146.9 1173.7,1146.9 1173.7,1146.9 1174.7,1146.9 1174.7,1146.9 1175.7,1146.9 1175.7,1160.1 1176.7,1160.1 1176.7,1127.2 1177.7,1127.2 1177.7,1133.8 1178.7,1133.8 1178.7,1133.8 1179.7,1133.8 1179.7,1153.5 1180.7,1153.5 1180.7,1160.1 1181.7,1160.1 1181.7,1133.8 1182.7,1133.8 1182.7,1107.4 1183.7,1107.4 1183.7,1114.0 1184.7,1114.0 1184.7,1114.0 1185.7,1114.0 1185.7,1153.5 1186.7,1153.5 1186.7,1133.8 1187.7,1133.8 1187.7,1173.3 1188.7,1173.3 1188.7,1173.3 1189.7,1173.3 1189.7,1153.5 1190.7,1153.5 1190.7,1146.9 1191.7,1146.9 1191.7,1160.1 1192.7,1160.1 1192.7,1127.2 1193.7,1127.2 1193.7,1114.0 1194.7,1114.0 1194.7,1114.0 1195.7,1114.0 1195.7,1114.0 1196.7,1114.0 1196.7,1140.3 1197.7,1140.3 1197.7,1140.3 1198.7,1140.3 1198.7,1107.4 1199.7,1107.4 1199.7,1100.9 1200.7,1100.9 1200.7,1100.9 1201.7,1100.9 1201.7,1107.4 1202.7,1107.4 1202.7,1087.7 1203.7,1087.7 1203.7,1107.4 1204.7,1107.4 1204.7,1114.0 1205.7,1114.0 1205.7,1061.4 1206.7,1061.4 1206.7,1127.2 1207.7,1127.2 1207.7,1127.2 1208.7,1127.2 1208.7,1140.3 1209.7,1140.3 1209.7,1114.0 1210.7,1114.0 1210.7,1133.8 1211.7,1133.8 1211.7,1120.6 1212.7,1120.6 1212.7,1094.3 1213.7,1094.3 1213.7,1120.6 1214.7,1120.6 1214.7,1100.9 1215.7,1100.9 1215.7,1140.3 1216.7,1140.3 1216.7,1074.5 1217.7,1074.5 1217.7,1127.2 1218.7,1127.2 1218.7,1146.9 1219.7,1146.9 1219.7,1133.8 1220.7,1133.8 1220.7,1140.3 1221.7,1140.3 1221.7,1127.2 1222.7,1127.2 1222.7,1133.8 1223.7,1133.8 1223.7,1107.4 1224.7,1107.4 1224.7,1127.2 1225.7,1127.2 1225.7,1081.1 1226.7,1081.1 1226.7,1067.9 1227.7,1067.9 1227.7,1067.9 1228.7,1067.9 1228.7,1081.1 1229.7,1081.1 1229.7,1067.9 1230.7,1067.9 1230.7,1061.4 1231.7,1061.4 1231.7,1094.3 1232.7,1094.3 1232.7,1114.0 1233.7,1114.0 1233.7,1094.3 1234.7,1094.3 1234.7,1074.5 1235.7,1074.5 1235.7,1100.9 1236.7,1100.9 1236.7,1140.3 1237.7,1140.3 1237.7,1140.3 1238.7,1140.3 1238.7,1107.4 1239.7,1107.4 1239.7,1107.4 1240.7,1107.4 1240.7,1114.0 1241.7,1114.0 1241.7,1160.1 1242.7,1160.1 1242.7,1107.4 1243.7,1107.4 1243.7,1133.8 1244.7,1133.8 1244.7,1107.4 1245.7,1107.4 1245.7,1120.6 1246.7,1120.6 1246.7,1127.2 1247.7,1127.2 1247.7,1127.2 1248.7,1127.2 1248.7,1140.3 1249.7,1140.3 1249.7,1146.9 1250.7,1146.9 1250.7,1120.6 1251.7,1120.6 1251.7,1133.8 1252.7,1133.8 1252.7,1127.2 1253.7,1127.2 1253.7,1140.3 1254.7,1140.3 1254.7,1120.6 1255.7,1120.6 1255.7,1120.6 1256.7,1120.6 1256.7,1127.2 1257.7,1127.2 1257.7,1114.0 1258.7,1114.0 1258.7,1140.3 1259.7,1140.3 1259.7,1094.3 1260.7,1094.3 1260.7,1094.3 1261.7,1094.3 1261.7,1127.2 1262.7,1127.2 1262.7,1140.3 1263.7,1140.3 1263.7,1127.2 1264.7,1127.2 1264.7,1127.2 1265.7,1127.2 1265.7,1127.2 1266.7,1127.2 1266.7,1127.2 1267.7,1127.2 1267.7,1153.5 1268.7,1153.5 1268.7,1140.3 1269.7,1140.3 1269.7,1133.8 1270.7,1133.8 1270.7,1153.5 1271.7,1153.5 1271.7,1146.9 1272.7,1146.9 1272.7,1160.1 1273.7,1160.1 1273.7,1160.1 1274.7,1160.1 1274.7,1166.7 1275.7,1166.7 1275.7,1173.3 1276.7,1173.3 1276.7,1160.1 1277.7,1160.1 1277.7,1160.1 1278.7,1160.1 1278.7,1127.2 1279.7,1127.2 1279.7,1107.4 1280.7,1107.4 1280.7,1100.9 1281.7,1100.9 1281.7,1153.5 1282.7,1153.5 1282.7,1120.6 1283.7,1120.6 1283.7,1153.5 1284.7,1153.5 1284.7,1094.3 1285.7,1094.3 1285.7,1120.6 1286.7,1120.6 1286.7,1153.5 1287.7,1153.5 1287.7,1160.1 1288.7,1160.1 1288.7,1107.4 1289.7,1107.4 1289.7,1100.9 1290.7,1100.9 1290.7,1120.6 1291.7,1120.6 1291.7,1179.8 1292.7,1179.8 1292.7,1146.9 1293.7,1146.9 1293.7,1166.7 1294.7,1166.7 1294.7,1146.9 1295.7,1146.9 1295.7,1160.1 1296.7,1160.1 1296.7,1140.3 1297.7,1140.3 1297.7,1133.8 1298.7,1133.8 1298.7,1153.5 1299.7,1153.5 1299.7,1100.9 1300.7,1100.9 1300.7,1061.4 1301.7,1061.4 1301.7,1153.5 1302.7,1153.5 1302.7,1094.3 1303.7,1094.3 1303.7,1127.2 1304.7,1127.2 1304.7,1127.2 1305.7,1127.2 1305.7,1120.6 1306.7,1120.6 1306.7,1114.0 1307.7,1114.0 1307.7,1114.0 1308.1,1114.0 1308.1,1179.8 1307.7,1179.8 1307.7,1245.7 1306.7,1245.7 1306.7,1245.7 1305.7,1245.7 1305.7,1179.8 1304.7,1179.8 1304.7,1252.3 1303.7,1252.3 1303.7,1212.8 1302.7,1212.8 1302.7,1212.8 1301.7,1212.8 1301.7,1219.3 1300.7,1219.3 1300.7,1219.3 1299.7,1219.3 1299.7,1258.8 1298.7,1258.8 1298.7,1232.5 1297.7,1232.5 1297.7,1265.4 1296.7,1265.4 1296.7,1265.4 1295.7,1265.4 1295.7,1232.5 1294.7,1232.5 1294.7,1212.8 1293.7,1212.8 1293.7,1272.0 1292.7,1272.0 1292.7,1258.8 1291.7,1258.8 1291.7,1232.5 1290.7,1232.5 1290.7,1212.8 1289.7,1212.8 1289.7,1219.3 1288.7,1219.3 1288.7,1258.8 1287.7,1258.8 1287.7,1258.8 1286.7,1258.8 1286.7,1245.7 1285.7,1245.7 1285.7,1278.6 1284.7,1278.6 1284.7,1298.3 1283.7,1298.3 1283.7,1245.7 1282.7,1245.7 1282.7,1245.7 1281.7,1245.7 1281.7,1245.7 1280.7,1245.7 1280.7,1245.7 1279.7,1245.7 1279.7,1219.3 1278.7,1219.3 1278.7,1252.3 1277.7,1252.3 1277.7,1245.7 1276.7,1245.7 1276.7,1272.0 1275.7,1272.0 1275.7,1252.3 1274.7,1252.3 1274.7,1265.4 1273.7,1265.4 1273.7,1291.8 1272.7,1291.8 1272.7,1291.8 1271.7,1291.8 1271.7,1245.7 1270.7,1245.7 1270.7,1225.9 1269.7,1225.9 1269.7,1206.2 1268.7,1206.2 1268.7,1232.5 1267.7,1232.5 1267.7,1225.9 1266.7,1225.9 1266.7,1212.8 1265.7,1212.8 1265.7,1225.9 1264.7,1225.9 1264.7,1225.9 1263.7,1225.9 1263.7,1245.7 1262.7,1245.7 1262.7,1212.8 1261.7,1212.8 1261.7,1252.3 1260.7,1252.3 1260.7,1245.7 1259.7,1245.7 1259.7,1239.1 1258.7,1239.1 1258.7,1245.7 1257.7,1245.7 1257.7,1265.4 1256.7,1265.4 1256.7,1265.4 1255.7,1265.4 1255.7,1258.8 1254.7,1258.8 1254.7,1206.2 1253.7,1206.2 1253.7,1206.2 1252.7,1206.2 1252.7,1239.1 1251.7,1239.1 1251.7,1206.2 1250.7,1206.2 1250.7,1232.5 1249.7,1232.5 1249.7,1232.5 1248.7,1232.5 1248.7,1252.3 1247.7,1252.3 1247.7,1252.3 1246.7,1252.3 1246.7,1199.6 1245.7,1199.6 1245.7,1225.9 1244.7,1225.9 1244.7,1225.9 1243.7,1225.9 1243.7,1206.2 1242.7,1206.2 1242.7,1245.7 1241.7,1245.7 1241.7,1219.3 1240.7,1219.3 1240.7,1193.0 1239.7,1193.0 1239.7,1212.8 1238.7,1212.8 1238.7,1272.0 1237.7,1272.0 1237.7,1219.3 1236.7,1219.3 1236.7,1219.3 1235.7,1219.3 1235.7,1186.4 1234.7,1186.4 1234.7,1179.8 1233.7,1179.8 1233.7,1199.6 1232.7,1199.6 1232.7,1179.8 1231.7,1179.8 1231.7,1173.3 1230.7,1173.3 1230.7,1173.3 1229.7,1173.3 1229.7,1193.0 1228.7,1193.0 1228.7,1199.6 1227.7,1199.6 1227.7,1186.4 1226.7,1186.4 1226.7,1193.0 1225.7,1193.0 1225.7,1258.8 1224.7,1258.8 1224.7,1206.2 1223.7,1206.2 1223.7,1219.3 1222.7,1219.3 1222.7,1212.8 1221.7,1212.8 1221.7,1239.1 1220.7,1239.1 1220.7,1245.7 1219.7,1245.7 1219.7,1219.3 1218.7,1219.3 1218.7,1206.2 1217.7,1206.2 1217.7,1239.1 1216.7,1239.1 1216.7,1212.8 1215.7,1212.8 1215.7,1179.8 1214.7,1179.8 1214.7,1199.6 1213.7,1199.6 1213.7,1199.6 1212.7,1199.6 1212.7,1206.2 1211.7,1206.2 1211.7,1206.2 1210.7,1206.2 1210.7,1219.3 1209.7,1219.3 1209.7,1219.3 1208.7,1219.3 1208.7,1173.3 1207.7,1173.3 1207.7,1212.8 1206.7,1212.8 1206.7,1219.3 1205.7,1219.3 1205.7,1225.9 1204.7,1225.9 1204.7,1199.6 1203.7,1199.6 1203.7,1179.8 1202.7,1179.8 1202.7,1193.0 1201.7,1193.0 1201.7,1212.8 1200.7,1212.8 1200.7,1206.2 1199.7,1206.2 1199.7,1206.2 1198.7,1206.2 1198.7,1212.8 1197.7,1212.8 1197.7,1225.9 1196.7,1225.9 1196.7,1225.9 1195.7,1225.9 1195.7,1206.2 1194.7,1206.2 1194.7,1160.1 1193.7,1160.1 1193.7,1199.6 1192.7,1199.6 1192.7,1206.2 1191.7,1206.2 1191.7,1193.0 1190.7,1193.0 1190.7,1225.9 1189.7,1225.9 1189.7,1239.1 1188.7,1239.1 1188.7,1206.2 1187.7,1206.2 1187.7,1239.1 1186.7,1239.1 1186.7,1232.5 1185.7,1232.5 1185.7,1193.0 1184.7,1193.0 1184.7,1219.3 1183.7,1219.3 1183.7,1199.6 1182.7,1199.6 1182.7,1219.3 1181.7,1219.3 1181.7,1252.3 1180.7,1252.3 1180.7,1206.2 1179.7,1206.2 1179.7,1219.3 1178.7,1219.3 1178.7,1225.9 1177.7,1225.9 1177.7,1258.8 1176.7,1258.8 1176.7,1206.2 1175.7,1206.2 1175.7,1219.3 1174.7,1219.3 1174.7,1258.8 1173.7,1258.8 1173.7,1258.8 1172.7,1258.8 1172.7,1199.6 1171.7,1199.6 1171.7,1206.2 1170.7,1206.2 1170.7,1225.9 1169.7,1225.9 1169.7,1245.7 1168.7,1245.7 1168.7,1239.1 1167.7,1239.1 1167.7,1239.1 1166.7,1239.1 1166.7,1239.1 1165.7,1239.1 1165.7,1239.1 1164.7,1239.1 1164.7,1212.8 1163.7,1212.8 1163.7,1232.5 1162.7,1232.5 1162.7,1225.9 1161.7,1225.9 1161.7,1206.2 1160.7,1206.2 1160.7,1212.8 1159.7,1212.8 1159.7,1252.3 1158.7,1252.3 1158.7,1212.8 1157.7,1212.8 1157.7,1212.8 1156.7,1212.8 1156.7,1212.8 1155.7,1212.8 1155.7,1239.1 1154.7,1239.1 1154.7,1225.9 1153.7,1225.9 1153.7,1225.9 1152.7,1225.9 1152.7,1258.8 1151.7,1258.8 1151.7,1272.0 1150.7,1272.0 1150.7,1225.9 1149.7,1225.9 1149.7,1265.4 1148.7,1265.4 1148.7,1252.3 1147.7,1252.3 1147.7,1245.7 1146.7,1245.7 1146.7,1252.3 1145.7,1252.3 1145.7,1225.9 1144.7,1225.9 1144.7,1239.1 1143.7,1239.1 1143.7,1245.7 1142.7,1245.7 1142.7,1239.1 1141.7,1239.1 1141.7,1212.8 1140.7,1212.8 1140.7,1219.3 1139.7,1219.3 1139.7,1239.1 1138.7,1239.1 1138.7,1239.1 1137.7,1239.1 1137.7,1232.5 1136.7,1232.5 1136.7,1252.3 1135.7,1252.3 1135.7,1258.8 1134.7,1258.8 1134.7,1265.4 1133.7,1265.4 1133.7,1278.6 1132.7,1278.6 1132.7,1285.2 1131.7,1285.2 1131.7,1258.8 1130.7,1258.8 1130.7,1272.0 1129.7,1272.0 1129.7,1258.8 1128.7,1258.8 1128.7,1225.9 1127.7,1225.9 1127.7,1232.5 1126.7,1232.5 1126.7,1252.3 1125.7,1252.3 1125.7,1252.3 1124.7,1252.3 1124.7,1193.0 1123.7,1193.0 1123.7,1193.0 1122.7,1193.0 1122.7,1232.5 1121.7,1232.5 1121.7,1265.4 1120.7,1265.4 1120.7,1265.4 1119.7,1265.4 1119.7,1212.8 1118.7,1212.8 1118.7,1199.6 1117.7,1199.6 1117.7,1199.6 1116.7,1199.6 1116.7,1232.5 1115.7,1232.5 1115.7,1239.1 1114.7,1239.1 1114.7,1239.1 1113.7,1239.1 1113.7,1219.3 1112.7,1219.3 1112.7,1245.7 1111.7,1245.7 1111.7,1232.5 1110.7,1232.5 1110.7,1212.8 1109.7,1212.8 1109.7,1239.1 1108.7,1239.1 1108.7,1252.3 1107.7,1252.3 1107.7,1239.1 1106.7,1239.1 1106.7,1239.1 1105.7,1239.1 1105.7,1245.7 1104.7,1245.7 1104.7,1225.9 1103.7,1225.9 1103.7,1199.6 1102.7,1199.6 1102.7,1219.3 1101.7,1219.3 1101.7,1219.3 1100.7,1219.3 1100.7,1252.3 1099.7,1252.3 1099.7,1252.3 1098.7,1252.3 1098.7,1245.7 1097.7,1245.7 1097.7,1225.9 1096.7,1225.9 1096.7,1232.5 1095.7,1232.5 1095.7,1265.4 1094.7,1265.4 1094.7,1239.1 1093.7,1239.1 1093.7,1212.8 1092.7,1212.8 1092.7,1219.3 1091.7,1219.3 1091.7,1245.7 1090.7,1245.7 1090.7,1219.3 1089.7,1219.3 1089.7,1219.3 1088.7,1219.3 1088.7,1239.1 1087.7,1239.1 1087.7,1258.8 1086.7,1258.8 1086.7,1225.9 1085.7,1225.9 1085.7,1225.9 1084.7,1225.9 1084.7,1239.1 1083.7,1239.1 1083.7,1225.9 1082.7,1225.9 1082.7,1245.7 1081.7,1245.7 1081.7,1219.3 1080.7,1219.3 1080.7,1225.9 1079.7,1225.9 1079.7,1206.2 1078.7,1206.2 1078.7,1225.9 1077.7,1225.9 1077.7,1239.1 1076.7,1239.1 1076.7,1239.1 1075.7,1239.1 1075.7,1291.8 1074.7,1291.8 1074.7,1291.8 1073.7,1291.8 1073.7,1225.9 1072.7,1225.9 1072.7,1225.9 1071.7,1225.9 1071.7,1225.9 1070.7,1225.9 1070.7,1206.2 1069.7,1206.2 1069.7,1239.1 1068.7,1239.1 1068.7,1265.4 1067.7,1265.4 1067.7,1225.9 1066.7,1225.9 1066.7,1239.1 1065.7,1239.1 1065.7,1245.7 1064.7,1245.7 1064.7,1265.4 1063.7,1265.4 1063.7,1225.9 1062.7,1225.9 1062.7,1258.8 1061.7,1258.8 1061.7,1245.7 1060.7,1245.7 1060.7,1272.0 1059.7,1272.0 1059.7,1298.3 1058.7,1298.3 1058.7,1206.2 1057.7,1206.2 1057.7,1212.8 1056.7,1212.8 1056.7,1239.1 1055.7,1239.1 1055.7,1265.4 1054.7,1265.4 1054.7,1265.4 1053.7,1265.4 1053.7,1258.8 1052.7,1258.8 1052.7,1258.8 1051.7,1258.8 1051.7,1278.6 1050.7,1278.6 1050.7,1232.5 1049.7,1232.5 1049.7,1239.1 1048.7,1239.1 1048.7,1245.7 1047.7,1245.7 1047.7,1239.1 1046.7,1239.1 1046.7,1258.8 1045.7,1258.8 1045.7,1265.4 1044.7,1265.4 1044.7,1252.3 1043.7,1252.3 1043.7,1252.3 1042.7,1252.3 1042.7,1252.3 1041.7,1252.3 1041.7,1239.1 1040.7,1239.1 1040.7,1219.3 1039.7,1219.3 1039.7,1239.1 1038.7,1239.1 1038.7,1245.7 1037.7,1245.7 1037.7,1258.8 1036.7,1258.8 1036.7,1245.7 1035.7,1245.7 1035.7,1245.7 1034.7,1245.7 1034.7,1265.4 1033.7,1265.4 1033.7,1239.1 1032.7,1239.1 1032.7,1239.1 1031.7,1239.1 1031.7,1219.3 1030.7,1219.3 1030.7,1258.8 1029.7,1258.8 1029.7,1258.8 1028.7,1258.8 1028.7,1245.7 1027.7,1245.7 1027.7,1245.7 1026.7,1245.7 1026.7,1225.9 1025.7,1225.9 1025.7,1245.7 1024.7,1245.7 1024.7,1252.3 1023.7,1252.3 1023.7,1245.7 1022.7,1245.7 1022.7,1186.4 1021.7,1186.4 1021.7,1232.5 1020.7,1232.5 1020.7,1258.8 1019.7,1258.8 1019.7,1258.8 1018.7,1258.8 1018.7,1232.5 1017.7,1232.5 1017.7,1232.5 1016.7,1232.5 1016.7,1272.0 1015.7,1272.0 1015.7,1232.5 1014.7,1232.5 1014.7,1225.9 1013.7,1225.9 1013.7,1265.4 1012.7,1265.4 1012.7,1252.3 1011.7,1252.3 1011.7,1232.5 1010.7,1232.5 1010.7,1252.3 1009.7,1252.3 1009.7,1252.3 1008.7,1252.3 1008.7,1232.5 1007.7,1232.5 1007.7,1219.3 1006.7,1219.3 1006.7,1219.3 1005.7,1219.3 1005.7,1219.3 1004.7,1219.3 1004.7,1219.3 1003.7,1219.3 1003.7,1206.2 1002.7,1206.2 1002.7,1258.8 1001.7,1258.8 1001.7,1272.0 1000.7,1272.0 1000.7,1272.0 999.7,1272.0 999.7,1272.0 998.7,1272.0 998.7,1245.7 997.7,1245.7 997.7,1239.1 996.7,1239.1 996.7,1239.1 995.7,1239.1 995.7,1252.3 994.7,1252.3 994.7,1245.7 993.7,1245.7 993.7,1245.7 992.7,1245.7 992.7,1225.9 991.7,1225.9 991.7,1212.8 990.7,1212.8 990.7,1219.3 989.7,1219.3 989.7,1232.5 988.7,1232.5 988.7,1199.6 987.7,1199.6 987.7,1225.9 986.7,1225.9 986.7,1245.7 985.7,1245.7 985.7,1219.3 984.7,1219.3 984.7,1225.9 983.7,1225.9 983.7,1225.9 982.7,1225.9 982.7,1225.9 981.7,1225.9 981.7,1225.9 980.7,1225.9 980.7,1225.9 979.7,1225.9 979.7,1258.8 978.7,1258.8 978.7,1225.9 977.7,1225.9 977.7,1225.9 976.7,1225.9 976.7,1212.8 975.7,1212.8 975.7,1212.8 974.7,1212.8 974.7,1225.9 973.7,1225.9 973.7,1278.6 972.7,1278.6 972.7,1212.8 971.7,1212.8 971.7,1199.6 970.7,1199.6 970.7,1206.2 969.7,1206.2 969.7,1232.5 968.7,1232.5 968.7,1206.2 967.7,1206.2 967.7,1245.7 966.7,1245.7 966.7,1239.1 965.7,1239.1 965.7,1206.2 964.7,1206.2 964.7,1219.3 963.7,1219.3 963.7,1212.8 962.7,1212.8 962.7,1252.3 961.7,1252.3 961.7,1225.9 960.7,1225.9 960.7,1225.9 959.7,1225.9 959.7,1219.3 958.7,1219.3 958.7,1219.3 957.7,1219.3 957.7,1219.3 956.7,1219.3 956.7,1193.0 955.7,1193.0 955.7,1212.8 954.7,1212.8 954.7,1212.8 953.7,1212.8 953.7,1232.5 952.7,1232.5 952.7,1239.1 951.7,1239.1 951.7,1232.5 950.7,1232.5 950.7,1225.9 949.7,1225.9 949.7,1212.8 948.7,1212.8 948.7,1206.2 947.7,1206.2 947.7,1206.2 946.7,1206.2 946.7,1212.8 945.7,1212.8 945.7,1232.5 944.7,1232.5 944.7,1225.9 943.7,1225.9 943.7,1206.2 942.7,1206.2 942.7,1212.8 941.7,1212.8 941.7,1225.9 940.7,1225.9 940.7,1232.5 939.7,1232.5 939.7,1219.3 938.7,1219.3 938.7,1186.4 937.7,1186.4 937.7,1219.3 936.7,1219.3 936.7,1186.4 935.7,1186.4 935.7,1265.4 934.7,1265.4 934.7,1199.6 933.7,1199.6 933.7,1212.8 932.7,1212.8 932.7,1232.5 931.7,1232.5 931.7,1252.3 930.7,1252.3 930.7,1225.9 929.7,1225.9 929.7,1245.7 928.7,1245.7 928.7,1239.1 927.7,1239.1 927.7,1239.1 926.7,1239.1 926.7,1258.8 925.7,1258.8 925.7,1258.8 924.7,1258.8 924.7,1258.8 923.7,1258.8 923.7,1232.5 922.7,1232.5 922.7,1232.5 921.7,1232.5 921.7,1199.6 920.7,1199.6 920.7,1179.8 919.7,1179.8 919.7,1206.2 918.7,1206.2 918.7,1239.1 917.7,1239.1 917.7,1219.3 916.7,1219.3 916.7,1232.5 915.7,1232.5 915.7,1219.3 914.7,1219.3 914.7,1219.3 913.7,1219.3 913.7,1239.1 912.7,1239.1 912.7,1239.1 911.7,1239.1 911.7,1232.5 910.7,1232.5 910.7,1225.9 909.7,1225.9 909.7,1232.5 908.7,1232.5 908.7,1225.9 907.7,1225.9 907.7,1225.9 906.7,1225.9 906.7,1239.1 905.7,1239.1 905.7,1252.3 904.7,1252.3 904.7,1225.9 903.7,1225.9 903.7,1258.8 902.7,1258.8 902.7,1239.1 901.7,1239.1 901.7,1219.3 900.7,1219.3 900.7,1199.6 899.7,1199.6 899.7,1199.6 898.7,1199.6 898.7,1179.8 897.7,1179.8 897.7,1219.3 896.7,1219.3 896.7,1239.1 895.7,1239.1 895.7,1232.5 894.7,1232.5 894.7,1219.3 893.7,1219.3 893.7,1199.6 892.7,1199.6 892.7,1199.6 891.7,1199.6 891.7,1199.6 890.7,1199.6 890.7,1206.2 889.7,1206.2 889.7,1199.6 888.7,1199.6 888.7,1212.8 887.7,1212.8 887.7,1219.3 886.7,1219.3 886.7,1232.5 885.7,1232.5 885.7,1225.9 884.7,1225.9 884.7,1239.1 883.7,1239.1 883.7,1199.6 882.7,1199.6 882.7,1199.6 881.7,1199.6 881.7,1239.1 880.7,1239.1 880.7,1245.7 879.7,1245.7 879.7,1232.5 878.7,1232.5 878.7,1193.0 877.7,1193.0 877.7,1258.8 876.7,1258.8 876.7,1258.8 875.7,1258.8 875.7,1219.3 874.7,1219.3 874.7,1239.1 873.7,1239.1 873.7,1239.1 872.7,1239.1 872.7,1232.5 871.7,1232.5 871.7,1232.5 870.7,1232.5 870.7,1219.3 869.7,1219.3 869.7,1245.7 868.7,1245.7 868.7,1272.0 867.7,1272.0 867.7,1272.0 866.7,1272.0 866.7,1225.9 865.7,1225.9 865.7,1239.1 864.7,1239.1 864.7,1245.7 863.7,1245.7 863.7,1291.8 862.7,1291.8 862.7,1291.8 861.7,1291.8 861.7,1199.6 860.7,1199.6 860.7,1252.3 859.7,1252.3 859.7,1252.3 858.7,1252.3 858.7,1225.9 857.7,1225.9 857.7,1245.7 856.7,1245.7 856.7,1265.4 855.7,1265.4 855.7,1245.7 854.7,1245.7 854.7,1272.0 853.7,1272.0 853.7,1265.4 852.7,1265.4 852.7,1265.4 851.7,1265.4 851.7,1252.3 850.7,1252.3 850.7,1245.7 849.7,1245.7 849.7,1199.6 848.7,1199.6 848.7,1225.9 847.7,1225.9 847.7,1272.0 846.7,1272.0 846.7,1245.7 845.7,1245.7 845.7,1245.7 844.7,1245.7 844.7,1212.8 843.7,1212.8 843.7,1258.8 842.7,1258.8 842.7,1258.8 841.7,1258.8 841.7,1258.8 840.7,1258.8 840.7,1219.3 839.7,1219.3 839.7,1232.5 838.7,1232.5 838.7,1265.4 837.7,1265.4 837.7,1265.4 836.7,1265.4 836.7,1225.9 835.7,1225.9 835.7,1239.1 834.7,1239.1 834.7,1278.6 833.7,1278.6 833.7,1265.4 832.7,1265.4 832.7,1252.3 831.7,1252.3 831.7,1265.4 830.7,1265.4 830.7,1239.1 829.7,1239.1 829.7,1239.1 828.7,1239.1 828.7,1212.8 827.7,1212.8 827.7,1212.8 826.7,1212.8 826.7,1265.4 825.7,1265.4 825.7,1258.8 824.7,1258.8 824.7,1252.3 823.7,1252.3 823.7,1278.6 822.7,1278.6 822.7,1278.6 821.7,1278.6 821.7,1265.4 820.7,1265.4 820.7,1272.0 819.7,1272.0 819.7,1272.0 818.7,1272.0 818.7,1258.8 817.7,1258.8 817.7,1258.8 816.7,1258.8 816.7,1278.6 815.7,1278.6 815.7,1285.2 814.7,1285.2 814.7,1285.2 813.7,1285.2 813.7,1265.4 812.7,1265.4 812.7,1272.0 811.7,1272.0 811.7,1291.8 810.7,1291.8 810.7,1291.8 809.7,1291.8 809.7,1265.4 808.7,1265.4 808.7,1272.0 807.7,1272.0 807.7,1298.3 806.7,1298.3 806.7,1304.9 805.7,1304.9 805.7,1298.3 804.7,1298.3 804.7,1285.2 803.7,1285.2 803.7,1331.3 802.7,1331.3 802.7,1304.9 801.7,1304.9 801.7,1304.9 800.7,1304.9 800.7,1331.3 799.7,1331.3 799.7,1285.2 798.7,1285.2 798.7,1285.2 797.7,1285.2 797.7,1265.4 796.7,1265.4 796.7,1258.8 795.7,1258.8 795.7,1258.8 794.7,1258.8 794.7,1272.0 793.7,1272.0 793.7,1252.3 792.7,1252.3 792.7,1258.8 791.7,1258.8 791.7,1252.3 790.7,1252.3 790.7,1258.8 789.7,1258.8 789.7,1232.5 788.7,1232.5 788.7,1252.3 787.7,1252.3 787.7,1245.7 786.7,1245.7 786.7,1239.1 785.7,1239.1 785.7,1272.0 784.7,1272.0 784.7,1272.0 783.7,1272.0 783.7,1219.3 782.7,1219.3 782.7,1212.8 781.7,1212.8 781.7,1239.1 780.7,1239.1 780.7,1258.8 779.7,1258.8 779.7,1245.7 778.7,1245.7 778.7,1219.3 777.7,1219.3 777.7,1245.7 776.7,1245.7 776.7,1265.4 775.7,1265.4 775.7,1252.3 774.7,1252.3 774.7,1225.9 773.7,1225.9 773.7,1232.5 772.7,1232.5 772.7,1245.7 771.7,1245.7 771.7,1252.3 770.7,1252.3 770.7,1232.5 769.7,1232.5 769.7,1232.5 768.7,1232.5 768.7,1219.3 767.7,1219.3 767.7,1239.1 766.7,1239.1 766.7,1212.8 765.7,1212.8 765.7,1212.8 764.7,1212.8 764.7,1239.1 763.7,1239.1 763.7,1239.1 762.7,1239.1 762.7,1232.5 761.7,1232.5 761.7,1232.5 760.7,1232.5 760.7,1212.8 759.7,1212.8 759.7,1212.8 758.7,1212.8 758.7,1219.3 757.7,1219.3 757.7,1225.9 756.7,1225.9 756.7,1212.8 755.7,1212.8 755.7,1206.2 754.7,1206.2 754.7,1225.9 753.7,1225.9 753.7,1206.2 752.7,1206.2 752.7,1245.7 751.7,1245.7 751.7,1232.5 750.7,1232.5 750.7,1225.9 749.7,1225.9 749.7,1225.9 748.7,1225.9 748.7,1232.5 747.7,1232.5 747.7,1232.5 746.7,1232.5 746.7,1219.3 745.7,1219.3 745.7,1219.3 744.7,1219.3 744.7,1219.3 743.7,1219.3 743.7,1232.5 742.7,1232.5 742.7,1219.3 741.7,1219.3 741.7,1186.4 740.7,1186.4 740.7,1186.4 739.7,1186.4 739.7,1206.2 738.7,1206.2 738.7,1232.5 737.7,1232.5 737.7,1225.9 736.7,1225.9 736.7,1252.3 735.7,1252.3 735.7,1212.8 734.7,1212.8 734.7,1232.5 733.7,1232.5 733.7,1225.9 732.7,1225.9 732.7,1258.8 731.7,1258.8 731.7,1285.2 730.7,1285.2 730.7,1285.2 729.7,1285.2 729.7,1252.3 728.7,1252.3 728.7,1239.1 727.7,1239.1 727.7,1245.7 726.7,1245.7 726.7,1245.7 725.7,1245.7 725.7,1225.9 724.7,1225.9 724.7,1206.2 723.7,1206.2 723.7,1239.1 722.7,1239.1 722.7,1239.1 721.7,1239.1 721.7,1239.1 720.7,1239.1 720.7,1258.8 719.7,1258.8 719.7,1258.8 718.7,1258.8 718.7,1285.2 717.7,1285.2 717.7,1239.1 716.7,1239.1 716.7,1212.8 715.7,1212.8 715.7,1232.5 714.7,1232.5 714.7,1232.5 713.7,1232.5 713.7,1225.9 712.7,1225.9 712.7,1225.9 711.7,1225.9 711.7,1239.1 710.7,1239.1 710.7,1239.1 709.7,1239.1 709.7,1225.9 708.7,1225.9 708.7,1232.5 707.7,1232.5 707.7,1219.3 706.7,1219.3 706.7,1232.5 705.7,1232.5 705.7,1272.0 704.7,1272.0 704.7,1258.8 703.7,1258.8 703.7,1239.1 702.7,1239.1 702.7,1252.3 701.7,1252.3 701.7,1212.8 700.7,1212.8 700.7,1193.0 699.7,1193.0 699.7,1232.5 698.7,1232.5 698.7,1206.2 697.7,1206.2 697.7,1225.9 696.7,1225.9 696.7,1285.2 695.7,1285.2 695.7,1219.3 694.7,1219.3 694.7,1219.3 693.7,1219.3 693.7,1199.6 692.7,1199.6 692.7,1245.7 691.7,1245.7 691.7,1232.5 690.7,1232.5 690.7,1258.8 689.7,1258.8 689.7,1278.6 688.7,1278.6 688.7,1212.8 687.7,1212.8 687.7,1206.2 686.7,1206.2 686.7,1232.5 685.7,1232.5 685.7,1245.7 684.7,1245.7 684.7,1245.7 683.7,1245.7 683.7,1239.1 682.7,1239.1 682.7,1258.8 681.7,1258.8 681.7,1265.4 680.7,1265.4 680.7,1239.1 679.7,1239.1 679.7,1239.1 678.7,1239.1 678.7,1206.2 677.7,1206.2 677.7,1265.4 676.7,1265.4 676.7,1265.4 675.7,1265.4 675.7,1258.8 674.7,1258.8 674.7,1245.7 673.7,1245.7 673.7,1245.7 672.7,1245.7 672.7,1265.4 671.7,1265.4 671.7,1225.9 670.7,1225.9 670.7,1252.3 669.7,1252.3 669.7,1225.9 668.7,1225.9 668.7,1239.1 667.7,1239.1 667.7,1219.3 666.7,1219.3 666.7,1252.3 665.7,1252.3 665.7,1252.3 664.7,1252.3 664.7,1252.3 663.7,1252.3 663.7,1219.3 662.7,1219.3 662.7,1206.2 661.7,1206.2 661.7,1225.9 660.7,1225.9 660.7,1232.5 659.7,1232.5 659.7,1225.9 658.7,1225.9 658.7,1245.7 657.7,1245.7 657.7,1239.1 656.7,1239.1 656.7,1206.2 655.7,1206.2 655.7,1193.0 654.7,1193.0 654.7,1206.2 653.7,1206.2 653.7,1239.1 652.7,1239.1 652.7,1252.3 651.7,1252.3 651.7,1232.5 650.7,1232.5 650.7,1206.2 649.7,1206.2 649.7,1219.3 648.7,1219.3 648.7,1199.6 647.7,1199.6 647.7,1179.8 646.7,1179.8 646.7,1193.0 645.7,1193.0 645.7,1199.6 644.7,1199.6 644.7,1206.2 643.7,1206.2 643.7,1219.3 642.7,1219.3 642.7,1232.5 641.7,1232.5 641.7,1212.8 640.7,1212.8 640.7,1206.2 639.7,1206.2 639.7,1245.7 638.7,1245.7 638.7,1219.3 637.7,1219.3 637.7,1199.6 636.7,1199.6 636.7,1245.7 635.7,1245.7 635.7,1199.6 634.7,1199.6 634.7,1225.9 633.7,1225.9 633.7,1239.1 632.7,1239.1 632.7,1225.9 631.7,1225.9 631.7,1258.8 630.7,1258.8 630.7,1265.4 629.7,1265.4 629.7,1245.7 628.7,1245.7 628.7,1206.2 627.7,1206.2 627.7,1239.1 626.7,1239.1 626.7,1212.8 625.7,1212.8 625.7,1193.0 624.7,1193.0 624.7,1258.8 623.7,1258.8 623.7,1225.9 622.7,1225.9 622.7,1232.5 621.7,1232.5 621.7,1225.9 620.7,1225.9 620.7,1212.8 619.7,1212.8 619.7,1219.3 618.7,1219.3 618.7,1219.3 617.7,1219.3 617.7,1219.3 616.7,1219.3 616.7,1258.8 615.7,1258.8 615.7,1245.7 614.7,1245.7 614.7,1252.3 613.7,1252.3 613.7,1239.1 612.7,1239.1 612.7,1225.9 611.7,1225.9 611.7,1212.8 610.7,1212.8 610.7,1199.6 609.7,1199.6 609.7,1245.7 608.7,1245.7 608.7,1219.3 607.7,1219.3 607.7,1232.5 606.7,1232.5 606.7,1212.8 605.7,1212.8 605.7,1212.8 604.7,1212.8 604.7,1232.5 603.7,1232.5 603.7,1225.9 602.7,1225.9 602.7,1225.9 601.7,1225.9 601.7,1245.7 600.7,1245.7 600.7,1232.5 599.7,1232.5 599.7,1239.1 598.7,1239.1 598.7,1239.1 597.7,1239.1 597.7,1252.3 596.7,1252.3 596.7,1239.1 595.7,1239.1 595.7,1212.8 594.7,1212.8 594.7,1232.5 593.7,1232.5 593.7,1252.3 592.7,1252.3 592.7,1239.1 591.7,1239.1 591.7,1252.3 590.7,1252.3 590.7,1272.0 589.7,1272.0 589.7,1239.1 588.7,1239.1 588.7,1225.9 587.7,1225.9 587.7,1252.3 586.7,1252.3 586.7,1258.8 585.7,1258.8 585.7,1225.9 584.7,1225.9 584.7,1212.8 583.7,1212.8 583.7,1225.9 582.7,1225.9 582.7,1225.9 581.7,1225.9 581.7,1219.3 580.7,1219.3 580.7,1239.1 579.7,1239.1 579.7,1272.0 578.7,1272.0 578.7,1245.7 577.7,1245.7 577.7,1291.8 576.7,1291.8 576.7,1258.8 575.7,1258.8 575.7,1252.3 574.7,1252.3 574.7,1252.3 573.7,1252.3 573.7,1225.9 572.7,1225.9 572.7,1252.3 571.7,1252.3 571.7,1212.8 570.7,1212.8 570.7,1232.5 569.7,1232.5 569.7,1239.1 568.7,1239.1 568.7,1245.7 567.7,1245.7 567.7,1245.7 566.7,1245.7 566.7,1272.0 565.7,1272.0 565.7,1272.0 564.7,1272.0 564.7,1252.3 563.7,1252.3 563.7,1252.3 562.7,1252.3 562.7,1258.8 561.7,1258.8 561.7,1206.2 560.7,1206.2 560.7,1239.1 559.7,1239.1 559.7,1219.3 558.7,1219.3 558.7,1225.9 557.7,1225.9 557.7,1285.2 556.7,1285.2 556.7,1212.8 555.7,1212.8 555.7,1239.1 554.7,1239.1 554.7,1239.1 553.7,1239.1 553.7,1245.7 552.7,1245.7 552.7,1232.5 551.7,1232.5 551.7,1245.7 550.7,1245.7 550.7,1232.5 549.7,1232.5 549.7,1252.3 548.7,1252.3 548.7,1258.8 547.7,1258.8 547.7,1258.8 546.7,1258.8 546.7,1258.8 545.7,1258.8 545.7,1239.1 544.7,1239.1 544.7,1291.8 543.7,1291.8 543.7,1291.8 542.7,1291.8 542.7,1291.8 541.7,1291.8 541.7,1291.8 540.7,1291.8 540.7,1258.8 539.7,1258.8 539.7,1258.8 538.7,1258.8 538.7,1252.3 537.7,1252.3 537.7,1219.3 536.7,1219.3 536.7,1258.8 535.7,1258.8 535.7,1258.8 534.7,1258.8 534.7,1252.3 533.7,1252.3 533.7,1219.3 532.7,1219.3 532.7,1252.3 531.7,1252.3 531.7,1285.2 530.7,1285.2 530.7,1265.4 529.7,1265.4 529.7,1245.7 528.7,1245.7 528.7,1258.8 527.7,1258.8 527.7,1258.8 526.7,1258.8 526.7,1258.8 525.7,1258.8 525.7,1278.6 524.7,1278.6 524.7,1278.6 523.7,1278.6 523.7,1278.6 522.7,1278.6 522.7,1239.1 521.7,1239.1 521.7,1219.3 520.7,1219.3 520.7,1239.1 519.7,1239.1 519.7,1239.1 518.7,1239.1 518.7,1252.3 517.7,1252.3 517.7,1252.3 516.7,1252.3 516.7,1245.7 515.7,1245.7 515.7,1225.9 514.7,1225.9 514.7,1232.5 513.7,1232.5 513.7,1225.9 512.7,1225.9 512.7,1245.7 511.7,1245.7 511.7,1245.7 510.7,1245.7 510.7,1219.3 509.7,1219.3 509.7,1258.8 508.7,1258.8 508.7,1258.8 507.7,1258.8 507.7,1239.1 506.7,1239.1 506.7,1239.1 505.7,1239.1 505.7,1265.4 504.7,1265.4 504.7,1272.0 503.7,1272.0 503.7,1304.9 502.7,1304.9 502.7,1258.8 501.7,1258.8 501.7,1258.8 500.7,1258.8 500.7,1245.7 499.7,1245.7 499.7,1265.4 498.7,1265.4 498.7,1232.5 497.7,1232.5 497.7,1258.8 496.7,1258.8 496.7,1245.7 495.7,1245.7 495.7,1265.4 494.7,1265.4 494.7,1265.4 493.7,1265.4 493.7,1265.4 492.7,1265.4 492.7,1252.3 491.7,1252.3 491.7,1252.3 490.7,1252.3 490.7,1265.4 489.7,1265.4 489.7,1219.3 488.7,1219.3 488.7,1239.1 487.7,1239.1 487.7,1258.8 486.7,1258.8 486.7,1239.1 485.7,1239.1 485.7,1225.9 484.7,1225.9 484.7,1232.5 483.7,1232.5 483.7,1232.5 482.7,1232.5 482.7,1206.2 481.7,1206.2 481.7,1245.7 480.7,1245.7 480.7,1239.1 479.7,1239.1 479.7,1206.2 478.7,1206.2 478.7,1225.9 477.7,1225.9 477.7,1258.8 476.7,1258.8 476.7,1278.6 475.7,1278.6 475.7,1252.3 474.7,1252.3 474.7,1245.7 473.7,1245.7 473.7,1265.4 472.7,1265.4 472.7,1265.4 471.7,1265.4 471.7,1252.3 470.7,1252.3 470.7,1239.1 469.7,1239.1 469.7,1232.5 468.7,1232.5 468.7,1232.5 467.7,1232.5 467.7,1252.3 466.7,1252.3 466.7,1252.3 465.7,1252.3 465.7,1245.7 464.7,1245.7 464.7,1225.9 463.7,1225.9 463.7,1245.7 462.7,1245.7 462.7,1245.7 461.7,1245.7 461.7,1285.2 460.7,1285.2 460.7,1285.2 459.7,1285.2 459.7,1324.7 458.7,1324.7 458.7,1252.3 457.7,1252.3 457.7,1252.3 456.7,1252.3 456.7,1239.1 455.7,1239.1 455.7,1278.6 454.7,1278.6 454.7,1245.7 453.7,1245.7 453.7,1265.4 452.7,1265.4 452.7,1291.8 451.7,1291.8 451.7,1239.1 450.7,1239.1 450.7,1239.1 449.7,1239.1 449.7,1252.3 448.7,1252.3 448.7,1245.7 447.7,1245.7 447.7,1258.8 446.7,1258.8 446.7,1239.1 445.7,1239.1 445.7,1239.1 444.7,1239.1 444.7,1245.7 443.7,1245.7 443.7,1285.2 442.7,1285.2 442.7,1285.2 441.7,1285.2 441.7,1265.4 440.7,1265.4 440.7,1272.0 439.7,1272.0 439.7,1272.0 438.7,1272.0 438.7,1265.4 437.7,1265.4 437.7,1278.6 436.7,1278.6 436.7,1285.2 435.7,1285.2 435.7,1298.3 434.7,1298.3 434.7,1298.3 433.7,1298.3 433.7,1278.6 432.7,1278.6 432.7,1285.2 431.7,1285.2 431.7,1285.2 430.7,1285.2 430.7,1285.2 429.7,1285.2 429.7,1265.4 428.7,1265.4 428.7,1291.8 427.7,1291.8 427.7,1298.3 426.7,1298.3 426.7,1258.8 425.7,1258.8 425.7,1265.4 424.7,1265.4 424.7,1265.4 423.7,1265.4 423.7,1258.8 422.7,1258.8 422.7,1225.9 421.7,1225.9 421.7,1291.8 420.7,1291.8 420.7,1298.3 419.7,1298.3 419.7,1298.3 418.7,1298.3 418.7,1337.8 417.7,1337.8 417.7,1337.8 416.7,1337.8 416.7,1304.9 415.7,1304.9 415.7,1304.9 414.7,1304.9 414.7,1298.3 413.7,1298.3 413.7,1285.2 412.7,1285.2 412.7,1278.6 411.7,1278.6 411.7,1258.8 410.7,1258.8 410.7,1278.6 409.7,1278.6 409.7,1291.8 408.7,1291.8 408.7,1291.8 407.7,1291.8 407.7,1245.7 406.7,1245.7 406.7,1285.2 405.7,1285.2 405.7,1304.9 404.7,1304.9 404.7,1304.9 403.7,1304.9 403.7,1278.6 402.7,1278.6 402.7,1285.2 401.7,1285.2 401.7,1272.0 400.7,1272.0 400.7,1285.2 399.7,1285.2 399.7,1258.8 398.7,1258.8 398.7,1298.3 397.7,1298.3 397.7,1258.8 396.7,1258.8 396.7,1245.7 395.7,1245.7 395.7,1232.5 394.7,1232.5 394.7,1252.3 393.7,1252.3 393.7,1278.6 392.7,1278.6 392.7,1265.4 391.7,1265.4 391.7,1298.3 390.7,1298.3 390.7,1258.8 389.7,1258.8 389.7,1258.8 388.7,1258.8 388.7,1285.2 387.7,1285.2 387.7,1285.2 386.7,1285.2 386.7,1265.4 385.7,1265.4 385.7,1265.4 384.7,1265.4 384.7,1291.8 383.7,1291.8 383.7,1258.8 382.7,1258.8 382.7,1357.6 381.7,1357.6 381.7,1357.6 380.7,1357.6 380.7,1245.7 379.7,1245.7 379.7,1285.2 378.7,1285.2 378.7,1285.2 377.7,1285.2 377.7,1265.4 376.7,1265.4 376.7,1258.8 375.7,1258.8 375.7,1258.8 374.7,1258.8 374.7,1258.8 373.7,1258.8 373.7,1265.4 372.7,1265.4 372.7,1232.5 371.7,1232.5 371.7,1278.6 370.7,1278.6 370.7,1278.6 369.7,1278.6 369.7,1278.6 368.7,1278.6 368.7,1258.8 367.7,1258.8 367.7,1265.4 366.7,1265.4 366.7,1239.1 365.7,1239.1 365.7,1272.0 364.7,1272.0 364.7,1272.0 363.7,1272.0 363.7,1291.8 362.7,1291.8 362.7,1278.6 361.7,1278.6 361.7,1265.4 360.7,1265.4 360.7,1265.4 359.7,1265.4 359.7,1291.8 358.7,1291.8 358.7,1278.6 357.7,1278.6 357.7,1298.3 356.7,1298.3 356.7,1298.3 355.7,1298.3 355.7,1252.3 354.7,1252.3 354.7,1272.0 353.7,1272.0 353.7,1272.0 352.7,1272.0 352.7,1298.3 351.7,1298.3 351.7,1245.7 350.7,1245.7 350.7,1252.3 349.7,1252.3 349.7,1278.6 348.7,1278.6 348.7,1278.6 347.7,1278.6 347.7,1252.3 346.7,1252.3 346.7,1272.0 345.7,1272.0 345.7,1304.9 344.7,1304.9 344.7,1278.6 343.7,1278.6 343.7,1258.8 342.7,1258.8 342.7,1265.4 341.7,1265.4 341.7,1245.7 340.7,1245.7 340.7,1258.8 339.7,1258.8 339.7,1258.8 338.7,1258.8 338.7,1258.8 337.7,1258.8 337.7,1272.0 336.7,1272.0 336.7,1265.4 335.7,1265.4 335.7,1265.4 334.7,1265.4 334.7,1252.3 333.7,1252.3 333.7,1265.4 332.7,1265.4 332.7,1245.7 331.7,1245.7 331.7,1245.7 330.7,1245.7 330.7,1278.6 329.7,1278.6 329.7,1278.6 328.7,1278.6 328.7,1265.4 327.7,1265.4 327.7,1265.4 326.7,1265.4 326.7,1278.6 325.7,1278.6 325.7,1258.8 324.7,1258.8 324.7,1258.8 323.7,1258.8 323.7,1272.0 322.7,1272.0 322.7,1298.3 321.7,1298.3 321.7,1285.2 320.7,1285.2 320.7,1304.9 319.7,1304.9 319.7,1304.9 318.7,1304.9 318.7,1291.8 317.7,1291.8 317.7,1265.4 316.7,1265.4 316.7,1298.3 315.7,1298.3 315.7,1291.8 314.7,1291.8 314.7,1285.2 313.7,1285.2 313.7,1285.2 312.7,1285.2 312.7,1285.2 311.7,1285.2 311.7,1265.4 310.7,1265.4 310.7,1278.6 309.7,1278.6 309.7,1265.4 308.7,1265.4 308.7,1265.4 307.7,1265.4 307.7,1291.8 306.7,1291.8 306.7,1291.8 305.7,1291.8 305.7,1265.4 304.7,1265.4 304.7,1265.4 303.7,1265.4 303.7,1265.4 302.7,1265.4 302.7,1272.0 301.7,1272.0 301.7,1272.0 300.7,1272.0 300.7,1304.9 299.7,1304.9 299.7,1304.9 298.7,1304.9 298.7,1272.0 297.7,1272.0 297.7,1285.2 296.7,1285.2 296.7,1285.2 295.7,1285.2 295.7,1252.3 294.7,1252.3 294.7,1252.3 293.7,1252.3 293.7,1245.7 292.7,1245.7 292.7,1278.6 291.7,1278.6 291.7,1285.2 290.7,1285.2 290.7,1265.4 289.7,1265.4 289.7,1285.2 288.7,1285.2 288.7,1272.0 287.7,1272.0 287.7,1265.4 286.7,1265.4 286.7,1232.5 285.7,1232.5 285.7,1225.9 284.7,1225.9 284.7,1252.3 283.7,1252.3 283.7,1265.4 282.7,1265.4 282.7,1265.4 281.7,1265.4 281.7,1265.4 280.7,1265.4 280.7,1245.7 279.7,1245.7 279.7,1232.5 278.7,1232.5 278.7,1232.5 277.7,1232.5 277.7,1258.8 276.7,1258.8 276.7,1272.0 275.7,1272.0 275.7,1265.4 274.7,1265.4 274.7,1245.7 273.7,1245.7 273.7,1245.7 272.7,1245.7 272.7,1232.5 271.7,1232.5 271.7,1258.8 270.7,1258.8 270.7,1258.8 269.7,1258.8 269.7,1278.6 268.7,1278.6 268.7,1239.1 267.7,1239.1 267.7,1225.9 266.7,1225.9 266.7,1245.7 265.7,1245.7 265.7,1225.9 264.7,1225.9 264.7,1245.7 263.7,1245.7 263.7,1258.8 262.7,1258.8 262.7,1258.8 261.7,1258.8 261.7,1258.8 260.7,1258.8 260.7,1225.9 259.7,1225.9 259.7,1225.9 258.7,1225.9 258.7,1225.9 257.7,1225.9 257.7,1206.2 256.7,1206.2 256.7,1232.5 255.7,1232.5 255.7,1225.9 254.7,1225.9 254.7,1278.6 253.7,1278.6 253.7,1212.8 252.7,1212.8 252.7,1272.0 251.7,1272.0 251.7,1272.0 250.7,1272.0 250.7,1278.6 249.7,1278.6 249.7,1272.0 248.7,1272.0 248.7,1337.8 247.7,1337.8 247.7,1265.4 246.7,1265.4 246.7,1265.4 245.7,1265.4 245.7,1239.1 244.7,1239.1 244.7,1258.8 243.7,1258.8 243.7,1272.0 242.7,1272.0 242.7,1304.9 241.7,1304.9 241.7,1258.8 240.7,1258.8 240.7,1285.2 239.7,1285.2 239.7,1245.7 238.7,1245.7 238.7,1272.0 237.7,1272.0 237.7,1278.6 236.7,1278.6 236.7,1258.8 235.7,1258.8 235.7,1258.8 234.7,1258.8 234.7,1245.7 233.7,1245.7 233.7,1291.8 232.7,1291.8 232.7,1252.3 231.7,1252.3 231.7,1265.4 230.7,1265.4 230.7,1265.4 229.7,1265.4 229.7,1285.2 228.7,1285.2 228.7,1318.1 227.7,1318.1 227.7,1258.8 226.7,1258.8 226.7,1278.6 225.7,1278.6 225.7,1311.5 224.7,1311.5 224.7,1258.8 223.7,1258.8 223.7,1304.9 222.7,1304.9 222.7,1272.0 221.7,1272.0 221.7,1291.8 220.7,1291.8 220.7,1278.6 219.7,1278.6 219.7,1252.3 218.7,1252.3 218.7,1239.1 217.7,1239.1 217.7,1252.3 216.7,1252.3 216.7,1239.1 215.7,1239.1 215.7,1239.1 214.7,1239.1 214.7,1285.2 213.7,1285.2 213.7,1272.0 212.7,1272.0 212.7,1252.3 211.7,1252.3 211.7,1258.8 210.7,1258.8 210.7,1272.0 209.7,1272.0 209.7,1239.1 208.7,1239.1 208.7,1232.5 207.7,1232.5 207.7,1265.4 206.7,1265.4 206.7,1252.3 205.7,1252.3 205.7,1304.9 204.7,1304.9 204.7,1239.1 203.7,1239.1 203.7,1252.3 202.7,1252.3 202.7,1265.4 201.7,1265.4 201.7,1265.4 200.7,1265.4 200.7,1258.8 199.7,1258.8 199.7,1272.0 198.7,1272.0 198.7,1265.4 197.7,1265.4 197.7,1245.7 196.7,1245.7 196.7,1272.0 195.7,1272.0 195.7,1265.4 194.7,1265.4 194.7,1258.8 193.7,1258.8 193.7,1252.3 192.7,1252.3 192.7,1265.4 191.7,1265.4 191.7,1252.3 190.7,1252.3 190.7,1258.8 189.7,1258.8 189.7,1252.3 188.7,1252.3 188.7,1258.8 187.7,1258.8 187.7,1245.7 186.7,1245.7 186.7,1258.8 185.7,1258.8 185.7,1258.8 184.7,1258.8 184.7,1278.6 183.7,1278.6 183.7,1278.6 182.7,1278.6 182.7,1272.0 181.7,1272.0 181.7,1291.8 180.7,1291.8 180.7,1239.1 179.7,1239.1 179.7,1245.7 178.7,1245.7 178.7,1225.9 177.7,1225.9 177.7,1239.1 176.7,1239.1 176.7,1252.3 175.7,1252.3 175.7,1252.3 174.7,1252.3 174.7,1258.8 173.7,1258.8 173.7,1232.5 172.7,1232.5 172.7,1225.9 171.7,1225.9 171.7,1225.9 170.7,1225.9 170.7,1252.3 169.7,1252.3 169.7,1252.3 168.7,1252.3 168.7,1239.1 167.7,1239.1 167.7,1285.2 166.7,1285.2 166.7,1239.1 165.7,1239.1 165.7,1239.1 164.7,1239.1 164.7,1239.1 163.7,1239.1 163.7,1245.7 162.7,1245.7 162.7,1272.0 161.7,1272.0 161.7,1219.3 160.7,1219.3 160.7,1232.5 159.7,1232.5"/><polygon fill="#0000f2" stroke="#0000f2" stroke-width="1.0" stroke-linejoin="miter" points="158.8,1965.0 159.8,1965.0 159.8,2040.3 160.8,2040.3 160.8,2028.4 161.8,2028.4 161.8,2080.7 162.8,2080.7 162.8,2092.6 163.8,2092.6 163.8,2026.0 164.8,2026.0 164.8,2030.5 165.8,2030.5 165.8,2079.7 166.8,2079.7 166.8,2042.2 167.8,2042.2 167.8,2042.2 168.8,2042.2 168.8,2037.0 169.8,2037.0 169.8,2020.4 170.8,2020.4 170.8,2060.5 171.8,2060.5 171.8,2044.7 172.8,2044.7 172.8,2044.7 173.8,2044.7 173.8,2086.8 174.8,2086.8 174.8,2075.8 175.8,2075.8 175.8,2081.3 176.8,2081.3 176.8,2105.3 177.8,2105.3 177.8,2100.8 178.8,2100.8 178.8,2077.0 179.8,2077.0 179.8,2077.0 180.8,2077.0 180.8,2080.5 181.8,2080.5 181.8,2110.8 182.8,2110.8 182.8,2093.6 183.8,2093.6 183.8,2074.7 184.8,2074.7 184.8,2071.5 185.8,2071.5 185.8,2058.2 186.8,2058.2 186.8,2099.3 187.8,2099.3 187.8,2111.0 188.8,2111.0 188.8,2092.4 189.8,2092.4 189.8,2082.3 190.8,2082.3 190.8,2072.2 191.8,2072.2 191.8,2070.7 192.8,2070.7 192.8,2073.9 193.8,2073.9 193.8,2044.8 194.8,2044.8 194.8,2054.6 195.8,2054.6 195.8,2063.1 196.8,2063.1 196.8,2060.8 197.8,2060.8 197.8,2041.4 198.8,2041.4 198.8,2046.0 199.8,2046.0 199.8,2032.5 200.8,2032.5 200.8,2032.5 201.8,2032.5 201.8,2054.5 202.8,2054.5 202.8,2044.9 203.8,2044.9 203.8,2073.7 204.8,2073.7 204.8,2082.1 205.8,2082.1 205.8,2065.9 206.8,2065.9 206.8,2051.6 207.8,2051.6 207.8,2070.4 208.8,2070.4 208.8,2046.8 209.8,2046.8 209.8,2042.1 210.8,2042.1 210.8,2042.0 211.8,2042.0 211.8,2042.0 212.8,2042.0 212.8,2089.7 213.8,2089.7 213.8,2073.0 214.8,2073.0 214.8,2075.5 215.8,2075.5 215.8,2066.2 216.8,2066.2 216.8,2061.0 217.8,2061.0 217.8,2071.5 218.8,2071.5 218.8,2071.5 219.8,2071.5 219.8,2053.4 220.8,2053.4 220.8,2053.4 221.8,2053.4 221.8,2101.4 222.8,2101.4 222.8,2123.5 223.8,2123.5 223.8,2105.3 224.8,2105.3 224.8,2088.9 225.8,2088.9 225.8,2094.4 226.8,2094.4 226.8,2076.7 227.8,2076.7 227.8,2076.7 228.8,2076.7 228.8,2099.8 229.8,2099.8 229.8,2101.2 230.8,2101.2 230.8,2062.8 231.8,2062.8 231.8,2125.4 232.8,2125.4 232.8,2125.7 233.8,2125.7 233.8,2125.7 234.8,2125.7 234.8,2118.3 235.8,2118.3 235.8,2142.7 236.8,2142.7 236.8,2100.8 237.8,2100.8 237.8,2118.4 238.8,2118.4 238.8,2090.5 239.8,2090.5 239.8,2138.7 240.8,2138.7 240.8,2081.8 241.8,2081.8 241.8,2091.5 242.8,2091.5 242.8,2065.6 243.8,2065.6 243.8,2094.0 244.8,2094.0 244.8,2109.0 245.8,2109.0 245.8,2102.5 246.8,2102.5 246.8,2079.4 247.8,2079.4 247.8,2079.4 248.8,2079.4 248.8,2094.2 249.8,2094.2 249.8,2090.7 250.8,2090.7 250.8,2097.0 251.8,2097.0 251.8,2129.2 252.8,2129.2 252.8,2127.1 253.8,2127.1 253.8,2129.5 254.8,2129.5 254.8,2119.2 255.8,2119.2 255.8,2109.6 256.8,2109.6 256.8,2155.0 257.8,2155.0 257.8,2135.7 258.8,2135.7 258.8,2107.5 259.8,2107.5 259.8,2127.2 260.8,2127.2 260.8,2129.7 261.8,2129.7 261.8,2123.7 262.8,2123.7 262.8,2096.9 263.8,2096.9 263.8,2097.3 264.8,2097.3 264.8,2090.7 265.8,2090.7 265.8,2092.9 266.8,2092.9 266.8,2102.5 267.8,2102.5 267.8,2078.2 268.8,2078.2 268.8,2078.2 269.8,2078.2 269.8,2076.2 270.8,2076.2 270.8,2076.0 271.8,2076.0 271.8,2075.8 272.8,2075.8 272.8,2067.5 273.8,2067.5 273.8,2068.9 274.8,2068.9 274.8,2050.7 275.8,2050.7 275.8,2091.9 276.8,2091.9 276.8,2082.4 277.8,2082.4 277.8,2078.7 278.8,2078.7 278.8,2092.1 279.8,2092.1 279.8,2064.8 280.8,2064.8 280.8,2095.0 281.8,2095.0 281.8,2096.0 282.8,2096.0 282.8,2074.4 283.8,2074.4 283.8,2101.0 284.8,2101.0 284.8,2092.2 285.8,2092.2 285.8,2093.0 286.8,2093.0 286.8,2074.8 287.8,2074.8 287.8,2075.7 288.8,2075.7 288.8,2106.1 289.8,2106.1 289.8,2076.7 290.8,2076.7 290.8,2076.7 291.8,2076.7 291.8,2080.3 292.8,2080.3 292.8,2104.0 293.8,2104.0 293.8,2105.8 294.8,2105.8 294.8,2107.4 295.8,2107.4 295.8,2110.0 296.8,2110.0 296.8,2093.6 297.8,2093.6 297.8,2082.3 298.8,2082.3 298.8,2082.3 299.8,2082.3 299.8,2086.0 300.8,2086.0 300.8,2086.0 301.8,2086.0 301.8,2058.8 302.8,2058.8 302.8,2049.9 303.8,2049.9 303.8,2058.9 304.8,2058.9 304.8,2067.7 305.8,2067.7 305.8,2062.8 306.8,2062.8 306.8,2051.3 307.8,2051.3 307.8,2043.1 308.8,2043.1 308.8,2057.1 309.8,2057.1 309.8,2034.9 310.8,2034.9 310.8,2034.7 311.8,2034.7 311.8,2061.4 312.8,2061.4 312.8,2040.6 313.8,2040.6 313.8,2052.0 314.8,2052.0 314.8,2052.8 315.8,2052.8 315.8,2047.4 316.8,2047.4 316.8,2065.5 317.8,2065.5 317.8,2081.3 318.8,2081.3 318.8,2058.8 319.8,2058.8 319.8,2078.1 320.8,2078.1 320.8,2052.4 321.8,2052.4 321.8,2052.4 322.8,2052.4 322.8,2030.6 323.8,2030.6 323.8,2015.5 324.8,2015.5 324.8,2015.5 325.8,2015.5 325.8,2022.9 326.8,2022.9 326.8,2021.2 327.8,2021.2 327.8,2027.0 328.8,2027.0 328.8,2052.5 329.8,2052.5 329.8,1970.0 330.8,1970.0 330.8,2061.5 331.8,2061.5 331.8,2061.5 332.8,2061.5 332.8,2031.6 333.8,2031.6 333.8,2031.6 334.8,2031.6 334.8,2049.7 335.8,2049.7 335.8,2027.3 336.8,2027.3 336.8,2033.0 337.8,2033.0 337.8,2027.0 338.8,2027.0 338.8,2010.6 339.8,2010.6 339.8,2020.6 340.8,2020.6 340.8,2011.6 341.8,2011.6 341.8,2011.6 342.8,2011.6 342.8,2006.9 343.8,2006.9 343.8,2004.8 344.8,2004.8 344.8,2020.9 345.8,2020.9 345.8,2035.3 346.8,2035.3 346.8,2033.8 347.8,2033.8 347.8,2048.5 348.8,2048.5 348.8,2015.9 349.8,2015.9 349.8,1990.8 350.8,1990.8 350.8,2042.9 351.8,2042.9 351.8,2045.9 352.8,2045.9 352.8,2053.8 353.8,2053.8 353.8,2033.1 354.8,2033.1 354.8,2033.1 355.8,2033.1 355.8,2038.4 356.8,2038.4 356.8,2043.9 357.8,2043.9 357.8,2024.1 358.8,2024.1 358.8,2024.1 359.8,2024.1 359.8,2031.9 360.8,2031.9 360.8,2034.4 361.8,2034.4 361.8,2016.5 362.8,2016.5 362.8,2014.1 363.8,2014.1 363.8,2011.8 364.8,2011.8 364.8,2031.3 365.8,2031.3 365.8,2009.9 366.8,2009.9 366.8,2059.5 367.8,2059.5 367.8,2063.2 368.8,2063.2 368.8,2013.0 369.8,2013.0 369.8,2005.9 370.8,2005.9 370.8,1998.6 371.8,1998.6 371.8,2037.3 372.8,2037.3 372.8,2008.0 373.8,2008.0 373.8,1992.9 374.8,1992.9 374.8,1993.7 375.8,1993.7 375.8,1995.0 376.8,1995.0 376.8,1999.1 377.8,1999.1 377.8,2032.3 378.8,2032.3 378.8,2043.2 379.8,2043.2 379.8,2053.0 380.8,2053.0 380.8,2038.0 381.8,2038.0 381.8,2065.4 382.8,2065.4 382.8,2084.6 383.8,2084.6 383.8,2058.3 384.8,2058.3 384.8,2061.4 385.8,2061.4 385.8,2061.8 386.8,2061.8 386.8,2061.8 387.8,2061.8 387.8,2058.9 388.8,2058.9 388.8,2050.3 389.8,2050.3 389.8,2061.2 390.8,2061.2 390.8,2093.6 391.8,2093.6 391.8,2068.2 392.8,2068.2 392.8,2021.0 393.8,2021.0 393.8,2045.4 394.8,2045.4 394.8,2057.9 395.8,2057.9 395.8,2074.3 396.8,2074.3 396.8,2060.8 397.8,2060.8 397.8,2051.2 398.8,2051.2 398.8,2042.1 399.8,2042.1 399.8,1968.0 400.8,1968.0 400.8,2033.8 401.8,2033.8 401.8,2033.8 402.8,2033.8 402.8,2027.2 403.8,2027.2 403.8,2008.6 404.8,2008.6 404.8,1994.9 405.8,1994.9 405.8,2017.9 406.8,2017.9 406.8,2002.6 407.8,2002.6 407.8,1992.8 408.8,1992.8 408.8,2035.4 409.8,2035.4 409.8,2037.9 410.8,2037.9 410.8,2041.2 411.8,2041.2 411.8,2041.2 412.8,2041.2 412.8,2054.6 413.8,2054.6 413.8,2067.9 414.8,2067.9 414.8,2057.2 415.8,2057.2 415.8,2039.7 416.8,2039.7 416.8,2055.4 417.8,2055.4 417.8,1996.9 418.8,1996.9 418.8,2049.6 419.8,2049.6 419.8,2039.1 420.8,2039.1 420.8,2042.3 421.8,2042.3 421.8,2024.8 422.8,2024.8 422.8,2050.3 423.8,2050.3 423.8,2052.4 424.8,2052.4 424.8,2052.0 425.8,2052.0 425.8,2060.7 426.8,2060.7 426.8,2077.5 427.8,2077.5 427.8,2062.0 428.8,2062.0 428.8,2049.4 429.8,2049.4 429.8,2046.4 430.8,2046.4 430.8,2014.3 431.8,2014.3 431.8,2024.2 432.8,2024.2 432.8,2034.9 433.8,2034.9 433.8,2023.2 434.8,2023.2 434.8,2008.2 435.8,2008.2 435.8,2007.7 436.8,2007.7 436.8,2021.1 437.8,2021.1 437.8,2016.9 438.8,2016.9 438.8,2029.0 439.8,2029.0 439.8,1966.0 440.8,1966.0 440.8,2027.9 441.8,2027.9 441.8,2035.4 442.8,2035.4 442.8,2017.4 443.8,2017.4 443.8,2017.4 444.8,2017.4 444.8,2039.5 445.8,2039.5 445.8,2064.7 446.8,2064.7 446.8,2065.4 447.8,2065.4 447.8,2108.7 448.8,2108.7 448.8,2099.3 449.8,2099.3 449.8,2086.6 450.8,2086.6 450.8,2086.6 451.8,2086.6 451.8,2081.0 452.8,2081.0 452.8,2102.9 453.8,2102.9 453.8,2044.7 454.8,2044.7 454.8,2037.9 455.8,2037.9 455.8,2086.8 456.8,2086.8 456.8,2043.3 457.8,2043.3 457.8,2073.7 458.8,2073.7 458.8,2072.6 459.8,2072.6 459.8,2076.6 460.8,2076.6 460.8,2073.7 461.8,2073.7 461.8,2066.9 462.8,2066.9 462.8,2060.9 463.8,2060.9 463.8,2040.7 464.8,2040.7 464.8,2059.8 465.8,2059.8 465.8,2090.9 466.8,2090.9 466.8,2047.2 467.8,2047.2 467.8,2047.2 468.8,2047.2 468.8,2099.1 469.8,2099.1 469.8,2130.4 470.8,2130.4 470.8,2133.1 471.8,2133.1 471.8,2123.5 472.8,2123.5 472.8,2111.9 473.8,2111.9 473.8,2106.3 474.8,2106.3 474.8,2109.4 475.8,2109.4 475.8,2096.6 476.8,2096.6 476.8,2107.1 477.8,2107.1 477.8,2100.2 478.8,2100.2 478.8,2083.1 479.8,2083.1 479.8,2091.6 480.8,2091.6 480.8,2084.3 481.8,2084.3 481.8,2070.1 482.8,2070.1 482.8,2075.9 483.8,2075.9 483.8,2104.5 484.8,2104.5 484.8,2079.3 485.8,2079.3 485.8,2085.2 486.8,2085.2 486.8,2085.2 487.8,2085.2 487.8,2065.4 488.8,2065.4 488.8,2040.1 489.8,2040.1 489.8,2040.1 490.8,2040.1 490.8,2037.3 491.8,2037.3 491.8,2056.9 492.8,2056.9 492.8,2056.9 493.8,2056.9 493.8,2044.3 494.8,2044.3 494.8,2069.3 495.8,2069.3 495.8,2067.1 496.8,2067.1 496.8,2044.1 497.8,2044.1 497.8,2049.2 498.8,2049.2 498.8,2071.3 499.8,2071.3 499.8,2066.3 500.8,2066.3 500.8,2079.3 501.8,2079.3 501.8,2066.4 502.8,2066.4 502.8,2071.8 503.8,2071.8 503.8,2090.2 504.8,2090.2 504.8,2104.1 505.8,2104.1 505.8,2095.7 506.8,2095.7 506.8,2082.7 507.8,2082.7 507.8,2082.7 508.8,2082.7 508.8,2053.4 509.8,2053.4 509.8,2053.4 510.8,2053.4 510.8,2073.5 511.8,2073.5 511.8,2084.3 512.8,2084.3 512.8,2070.9 513.8,2070.9 513.8,2087.7 514.8,2087.7 514.8,2091.3 515.8,2091.3 515.8,2060.9 516.8,2060.9 516.8,2086.5 517.8,2086.5 517.8,2114.0 518.8,2114.0 518.8,2072.9 519.8,2072.9 519.8,2104.9 520.8,2104.9 520.8,2068.6 521.8,2068.6 521.8,2057.2 522.8,2057.2 522.8,2065.7 523.8,2065.7 523.8,2065.7 524.8,2065.7 524.8,2068.4 525.8,2068.4 525.8,2070.8 526.8,2070.8 526.8,2047.5 527.8,2047.5 527.8,2056.0 528.8,2056.0 528.8,2065.8 529.8,2065.8 529.8,2039.2 530.8,2039.2 530.8,2051.1 531.8,2051.1 531.8,2057.2 532.8,2057.2 532.8,2040.7 533.8,2040.7 533.8,2022.0 534.8,2022.0 534.8,2026.4 535.8,2026.4 535.8,2042.2 536.8,2042.2 536.8,2071.1 537.8,2071.1 537.8,2059.1 538.8,2059.1 538.8,2036.9 539.8,2036.9 539.8,2036.9 540.8,2036.9 540.8,2076.0 541.8,2076.0 541.8,2046.7 542.8,2046.7 542.8,2041.1 543.8,2041.1 543.8,2045.6 544.8,2045.6 544.8,2022.5 545.8,2022.5 545.8,2002.3 546.8,2002.3 546.8,2015.7 547.8,2015.7 547.8,1984.4 548.8,1984.4 548.8,1984.4 549.8,1984.4 549.8,1985.0 550.8,1985.0 550.8,1966.0 551.8,1966.0 551.8,1970.8 552.8,1970.8 552.8,1990.6 553.8,1990.6 553.8,1949.0 554.8,1949.0 554.8,1954.8 555.8,1954.8 555.8,1954.8 556.8,1954.8 556.8,1985.3 557.8,1985.3 557.8,1965.3 558.8,1965.3 558.8,1985.1 559.8,1985.1 559.8,1985.1 560.8,1985.1 560.8,1989.2 561.8,1989.2 561.8,2023.3 562.8,2023.3 562.8,2035.0 563.8,2035.0 563.8,2021.4 564.8,2021.4 564.8,2021.4 565.8,2021.4 565.8,2037.1 566.8,2037.1 566.8,1986.8 567.8,1986.8 567.8,1995.9 568.8,1995.9 568.8,1985.6 569.8,1985.6 569.8,1968.2 570.8,1968.2 570.8,2014.1 571.8,2014.1 571.8,1985.9 572.8,1985.9 572.8,1999.0 573.8,1999.0 573.8,2017.4 574.8,2017.4 574.8,2029.7 575.8,2029.7 575.8,2029.4 576.8,2029.4 576.8,2026.2 577.8,2026.2 577.8,1967.8 578.8,1967.8 578.8,2005.8 579.8,2005.8 579.8,2005.8 580.8,2005.8 580.8,2001.4 581.8,2001.4 581.8,1998.5 582.8,1998.5 582.8,2012.3 583.8,2012.3 583.8,2006.8 584.8,2006.8 584.8,1979.2 585.8,1979.2 585.8,2012.3 586.8,2012.3 586.8,1956.7 587.8,1956.7 587.8,1996.4 588.8,1996.4 588.8,1956.5 589.8,1956.5 589.8,1956.5 590.8,1956.5 590.8,2008.4 591.8,2008.4 591.8,2008.4 592.8,2008.4 592.8,2023.9 593.8,2023.9 593.8,2034.5 594.8,2034.5 594.8,2008.3 595.8,2008.3 595.8,2052.8 596.8,2052.8 596.8,2031.9 597.8,2031.9 597.8,2022.8 598.8,2022.8 598.8,2028.9 599.8,2028.9 599.8,2027.0 600.8,2027.0 600.8,2060.4 601.8,2060.4 601.8,2054.8 602.8,2054.8 602.8,2051.6 603.8,2051.6 603.8,2051.6 604.8,2051.6 604.8,2014.5 605.8,2014.5 605.8,2021.5 606.8,2021.5 606.8,2021.5 607.8,2021.5 607.8,1987.6 608.8,1987.6 608.8,1987.6 609.8,1987.6 609.8,2022.9 610.8,2022.9 610.8,2005.8 611.8,2005.8 611.8,2007.1 612.8,2007.1 612.8,2007.1 613.8,2007.1 613.8,1984.8 614.8,1984.8 614.8,2032.5 615.8,2032.5 615.8,1993.6 616.8,1993.6 616.8,2031.2 617.8,2031.2 617.8,2031.2 618.8,2031.2 618.8,2062.5 619.8,2062.5 619.8,2053.2 620.8,2053.2 620.8,2043.1 621.8,2043.1 621.8,2043.3 622.8,2043.3 622.8,2024.4 623.8,2024.4 623.8,2014.1 624.8,2014.1 624.8,1996.4 625.8,1996.4 625.8,1997.0 626.8,1997.0 626.8,2015.5 627.8,2015.5 627.8,2024.3 628.8,2024.3 628.8,2019.9 629.8,2019.9 629.8,2019.9 630.8,2019.9 630.8,2022.2 631.8,2022.2 631.8,2031.8 632.8,2031.8 632.8,2015.9 633.8,2015.9 633.8,2020.6 634.8,2020.6 634.8,2004.2 635.8,2004.2 635.8,1997.8 636.8,1997.8 636.8,1997.8 637.8,1997.8 637.8,2001.4 638.8,2001.4 638.8,1976.3 639.8,1976.3 639.8,1976.8 640.8,1976.8 640.8,1987.1 641.8,1987.1 641.8,2015.5 642.8,2015.5 642.8,2029.7 643.8,2029.7 643.8,2029.7 644.8,2029.7 644.8,2041.4 645.8,2041.4 645.8,2046.1 646.8,2046.1 646.8,2016.3 647.8,2016.3 647.8,2013.8 648.8,2013.8 648.8,2028.3 649.8,2028.3 649.8,1988.0 650.8,1988.0 650.8,1993.9 651.8,1993.9 651.8,1997.8 652.8,1997.8 652.8,2022.2 653.8,2022.2 653.8,2022.2 654.8,2022.2 654.8,2047.4 655.8,2047.4 655.8,2036.5 656.8,2036.5 656.8,2011.5 657.8,2011.5 657.8,2005.2 658.8,2005.2 658.8,2028.7 659.8,2028.7 659.8,2045.9 660.8,2045.9 660.8,2017.8 661.8,2017.8 661.8,2001.8 662.8,2001.8 662.8,2016.0 663.8,2016.0 663.8,2012.1 664.8,2012.1 664.8,2019.3 665.8,2019.3 665.8,2022.6 666.8,2022.6 666.8,2033.1 667.8,2033.1 667.8,2013.7 668.8,2013.7 668.8,2023.1 669.8,2023.1 669.8,1975.1 670.8,1975.1 670.8,1992.7 671.8,1992.7 671.8,1951.6 672.8,1951.6 672.8,1976.9 673.8,1976.9 673.8,2024.9 674.8,2024.9 674.8,2032.9 675.8,2032.9 675.8,2029.1 676.8,2029.1 676.8,2010.6 677.8,2010.6 677.8,2010.6 678.8,2010.6 678.8,1988.9 679.8,1988.9 679.8,1988.9 680.8,1988.9 680.8,2028.0 681.8,2028.0 681.8,2020.6 682.8,2020.6 682.8,2002.8 683.8,2002.8 683.8,2028.3 684.8,2028.3 684.8,2015.1 685.8,2015.1 685.8,2000.5 686.8,2000.5 686.8,2020.3 687.8,2020.3 687.8,1990.4 688.8,1990.4 688.8,2008.6 689.8,2008.6 689.8,1987.8 690.8,1987.8 690.8,1987.8 691.8,1987.8 691.8,1988.3 692.8,1988.3 692.8,1988.7 693.8,1988.7 693.8,1989.2 694.8,1989.2 694.8,2003.3 695.8,2003.3 695.8,1990.4 696.8,1990.4 696.8,1990.6 697.8,1990.6 697.8,1991.3 698.8,1991.3 698.8,2020.1 699.8,2020.1 699.8,2011.5 700.8,2011.5 700.8,2035.8 701.8,2035.8 701.8,2035.8 702.8,2035.8 702.8,2023.1 703.8,2023.1 703.8,2049.3 704.8,2049.3 704.8,2010.5 705.8,2010.5 705.8,2041.2 706.8,2041.2 706.8,1999.7 707.8,1999.7 707.8,1992.6 708.8,1992.6 708.8,1992.6 709.8,1992.6 709.8,1994.5 710.8,1994.5 710.8,2030.1 711.8,2030.1 711.8,2030.1 712.8,2030.1 712.8,2025.0 713.8,2025.0 713.8,2026.9 714.8,2026.9 714.8,2021.1 715.8,2021.1 715.8,2034.4 716.8,2034.4 716.8,2043.7 717.8,2043.7 717.8,2059.6 718.8,2059.6 718.8,2045.1 719.8,2045.1 719.8,2019.0 720.8,2019.0 720.8,2008.3 721.8,2008.3 721.8,2001.1 722.8,2001.1 722.8,2025.9 723.8,2025.9 723.8,2033.8 724.8,2033.8 724.8,2043.3 725.8,2043.3 725.8,2028.0 726.8,2028.0 726.8,2020.3 727.8,2020.3 727.8,1992.5 728.8,1992.5 728.8,1987.8 729.8,1987.8 729.8,1996.7 730.8,1996.7 730.8,2029.0 731.8,2029.0 731.8,2048.8 732.8,2048.8 732.8,2039.4 733.8,2039.4 733.8,1995.0 734.8,1995.0 734.8,2027.5 735.8,2027.5 735.8,2012.5 736.8,2012.5 736.8,1990.0 737.8,1990.0 737.8,1990.0 738.8,1990.0 738.8,1953.4 739.8,1953.4 739.8,1938.9 740.8,1938.9 740.8,1994.2 741.8,1994.2 741.8,1998.3 742.8,1998.3 742.8,2009.6 743.8,2009.6 743.8,2004.7 744.8,2004.7 744.8,2036.8 745.8,2036.8 745.8,2016.6 746.8,2016.6 746.8,2025.6 747.8,2025.6 747.8,2050.5 748.8,2050.5 748.8,2056.7 749.8,2056.7 749.8,2007.4 750.8,2007.4 750.8,1995.3 751.8,1995.3 751.8,2029.7 752.8,2029.7 752.8,2050.0 753.8,2050.0 753.8,2046.1 754.8,2046.1 754.8,2048.4 755.8,2048.4 755.8,2063.0 756.8,2063.0 756.8,2032.9 757.8,2032.9 757.8,2011.9 758.8,2011.9 758.8,2004.5 759.8,2004.5 759.8,2026.1 760.8,2026.1 760.8,2029.2 761.8,2029.2 761.8,2046.1 762.8,2046.1 762.8,2028.5 763.8,2028.5 763.8,2048.3 764.8,2048.3 764.8,2066.2 765.8,2066.2 765.8,2039.4 766.8,2039.4 766.8,2029.1 767.8,2029.1 767.8,2029.1 768.8,2029.1 768.8,2019.5 769.8,2019.5 769.8,2042.0 770.8,2042.0 770.8,2042.0 771.8,2042.0 771.8,2052.1 772.8,2052.1 772.8,2062.8 773.8,2062.8 773.8,2036.4 774.8,2036.4 774.8,2032.1 775.8,2032.1 775.8,2037.0 776.8,2037.0 776.8,2039.5 777.8,2039.5 777.8,2039.5 778.8,2039.5 778.8,2052.7 779.8,2052.7 779.8,2064.3 780.8,2064.3 780.8,2057.2 781.8,2057.2 781.8,2070.1 782.8,2070.1 782.8,2066.7 783.8,2066.7 783.8,2075.9 784.8,2075.9 784.8,2026.1 785.8,2026.1 785.8,2022.0 786.8,2022.0 786.8,2021.1 787.8,2021.1 787.8,2022.3 788.8,2022.3 788.8,2026.5 789.8,2026.5 789.8,2033.7 790.8,2033.7 790.8,2027.7 791.8,2027.7 791.8,2036.8 792.8,2036.8 792.8,2005.4 793.8,2005.4 793.8,2002.5 794.8,2002.5 794.8,2020.6 795.8,2020.6 795.8,1997.8 796.8,1997.8 796.8,2000.5 797.8,2000.5 797.8,2016.4 798.8,2016.4 798.8,2016.4 799.8,2016.4 799.8,2060.3 800.8,2060.3 800.8,2050.9 801.8,2050.9 801.8,2039.7 802.8,2039.7 802.8,2054.8 803.8,2054.8 803.8,2032.2 804.8,2032.2 804.8,2005.6 805.8,2005.6 805.8,2055.5 806.8,2055.5 806.8,2028.7 807.8,2028.7 807.8,2028.7 808.8,2028.7 808.8,2049.1 809.8,2049.1 809.8,2051.0 810.8,2051.0 810.8,2050.6 811.8,2050.6 811.8,2083.3 812.8,2083.3 812.8,2066.8 813.8,2066.8 813.8,2089.8 814.8,2089.8 814.8,2089.8 815.8,2089.8 815.8,2069.6 816.8,2069.6 816.8,2041.8 817.8,2041.8 817.8,2055.0 818.8,2055.0 818.8,2058.2 819.8,2058.2 819.8,2057.4 820.8,2057.4 820.8,2055.9 821.8,2055.9 821.8,2045.5 822.8,2045.5 822.8,2057.0 823.8,2057.0 823.8,2069.5 824.8,2069.5 824.8,2052.1 825.8,2052.1 825.8,2009.0 826.8,2009.0 826.8,2012.9 827.8,2012.9 827.8,2012.9 828.8,2012.9 828.8,2034.1 829.8,2034.1 829.8,2022.7 830.8,2022.7 830.8,2022.7 831.8,2022.7 831.8,2069.0 832.8,2069.0 832.8,2078.4 833.8,2078.4 833.8,2067.7 834.8,2067.7 834.8,2067.7 835.8,2067.7 835.8,2081.3 836.8,2081.3 836.8,2100.3 837.8,2100.3 837.8,2051.5 838.8,2051.5 838.8,2054.9 839.8,2054.9 839.8,2070.2 840.8,2070.2 840.8,2025.3 841.8,2025.3 841.8,2082.0 842.8,2082.0 842.8,2049.6 843.8,2049.6 843.8,2029.3 844.8,2029.3 844.8,2011.9 845.8,2011.9 845.8,2001.8 846.8,2001.8 846.8,2001.8 847.8,2001.8 847.8,2020.4 848.8,2020.4 848.8,2009.2 849.8,2009.2 849.8,2007.7 850.8,2007.7 850.8,2046.9 851.8,2046.9 851.8,2044.9 852.8,2044.9 852.8,2033.3 853.8,2033.3 853.8,2035.6 854.8,2035.6 854.8,2018.6 855.8,2018.6 855.8,2018.4 856.8,2018.4 856.8,1995.1 857.8,1995.1 857.8,1995.1 858.8,1995.1 858.8,2005.1 859.8,2005.1 859.8,2019.2 860.8,2019.2 860.8,2009.3 861.8,2009.3 861.8,2029.2 862.8,2029.2 862.8,2000.8 863.8,2000.8 863.8,1996.9 864.8,1996.9 864.8,1987.1 865.8,1987.1 865.8,2010.7 866.8,2010.7 866.8,2005.2 867.8,2005.2 867.8,1988.5 868.8,1988.5 868.8,1980.7 869.8,1980.7 869.8,1980.7 870.8,1980.7 870.8,1981.2 871.8,1981.2 871.8,1981.8 872.8,1981.8 872.8,1995.1 873.8,1995.1 873.8,2014.5 874.8,2014.5 874.8,2014.5 875.8,2014.5 875.8,2001.4 876.8,2001.4 876.8,2001.4 877.8,2001.4 877.8,1984.8 878.8,1984.8 878.8,1995.5 879.8,1995.5 879.8,1982.0 880.8,1982.0 880.8,1982.0 881.8,1982.0 881.8,1976.5 882.8,1976.5 882.8,1974.1 883.8,1974.1 883.8,1971.3 884.8,1971.3 884.8,1971.3 885.8,1971.3 885.8,2003.0 886.8,2003.0 886.8,1992.7 887.8,1992.7 887.8,2016.4 888.8,2016.4 888.8,2036.5 889.8,2036.5 889.8,2010.5 890.8,2010.5 890.8,2002.1 891.8,2002.1 891.8,2002.1 892.8,2002.1 892.8,2005.5 893.8,2005.5 893.8,2032.7 894.8,2032.7 894.8,1998.9 895.8,1998.9 895.8,1998.9 896.8,1998.9 896.8,2037.6 897.8,2037.6 897.8,2037.6 898.8,2037.6 898.8,2037.0 899.8,2037.0 899.8,2027.6 900.8,2027.6 900.8,2020.6 901.8,2020.6 901.8,2011.2 902.8,2011.2 902.8,1989.2 903.8,1989.2 903.8,1988.2 904.8,1988.2 904.8,1982.9 905.8,1982.9 905.8,2026.7 906.8,2026.7 906.8,2030.5 907.8,2030.5 907.8,1997.4 908.8,1997.4 908.8,2054.1 909.8,2054.1 909.8,2077.7 910.8,2077.7 910.8,2034.0 911.8,2034.0 911.8,2046.1 912.8,2046.1 912.8,2036.3 913.8,2036.3 913.8,2021.8 914.8,2021.8 914.8,2001.6 915.8,2001.6 915.8,2042.7 916.8,2042.7 916.8,2030.5 917.8,2030.5 917.8,2017.5 918.8,2017.5 918.8,2008.7 919.8,2008.7 919.8,2008.5 920.8,2008.5 920.8,2008.4 921.8,2008.4 921.8,2008.0 922.8,2008.0 922.8,2007.8 923.8,2007.8 923.8,2031.6 924.8,2031.6 924.8,2031.6 925.8,2031.6 925.8,2034.2 926.8,2034.2 926.8,2034.2 927.8,2034.2 927.8,2064.3 928.8,2064.3 928.8,2061.4 929.8,2061.4 929.8,2080.1 930.8,2080.1 930.8,2074.8 931.8,2074.8 931.8,2100.8 932.8,2100.8 932.8,2071.4 933.8,2071.4 933.8,2048.7 934.8,2048.7 934.8,2025.5 935.8,2025.5 935.8,2023.7 936.8,2023.7 936.8,2010.0 937.8,2010.0 937.8,2048.1 938.8,2048.1 938.8,2038.4 939.8,2038.4 939.8,2053.4 940.8,2053.4 940.8,2039.4 941.8,2039.4 941.8,2035.0 942.8,2035.0 942.8,2025.6 943.8,2025.6 943.8,2025.6 944.8,2025.6 944.8,2033.7 945.8,2033.7 945.8,2030.1 946.8,2030.1 946.8,2044.2 947.8,2044.2 947.8,2046.9 948.8,2046.9 948.8,2016.4 949.8,2016.4 949.8,2016.4 950.8,2016.4 950.8,2078.9 951.8,2078.9 951.8,2023.0 952.8,2023.0 952.8,2038.4 953.8,2038.4 953.8,2038.4 954.8,2038.4 954.8,2035.1 955.8,2035.1 955.8,2015.7 956.8,2015.7 956.8,2015.7 957.8,2015.7 957.8,2049.9 958.8,2049.9 958.8,2021.5 959.8,2021.5 959.8,2042.6 960.8,2042.6 960.8,2057.0 961.8,2057.0 961.8,2052.5 962.8,2052.5 962.8,2086.7 963.8,2086.7 963.8,2096.4 964.8,2096.4 964.8,2067.9 965.8,2067.9 965.8,2067.9 966.8,2067.9 966.8,2080.0 967.8,2080.0 967.8,2104.1 968.8,2104.1 968.8,2118.7 969.8,2118.7 969.8,2095.6 970.8,2095.6 970.8,2118.3 971.8,2118.3 971.8,2119.5 972.8,2119.5 972.8,2085.0 973.8,2085.0 973.8,2098.8 974.8,2098.8 974.8,2087.1 975.8,2087.1 975.8,2088.8 976.8,2088.8 976.8,2110.6 977.8,2110.6 977.8,2086.6 978.8,2086.6 978.8,2077.0 979.8,2077.0 979.8,2078.0 980.8,2078.0 980.8,2106.3 981.8,2106.3 981.8,2074.3 982.8,2074.3 982.8,2093.7 983.8,2093.7 983.8,2073.0 984.8,2073.0 984.8,2077.6 985.8,2077.6 985.8,2107.2 986.8,2107.2 986.8,2107.1 987.8,2107.1 987.8,2091.2 988.8,2091.2 988.8,2090.9 989.8,2090.9 989.8,2056.2 990.8,2056.2 990.8,2060.0 991.8,2060.0 991.8,2060.0 992.8,2060.0 992.8,2060.2 993.8,2060.2 993.8,2041.8 994.8,2041.8 994.8,2041.8 995.8,2041.8 995.8,2068.3 996.8,2068.3 996.8,2067.9 997.8,2067.9 997.8,2038.0 998.8,2038.0 998.8,2038.0 999.8,2038.0 999.8,2070.7 1000.8,2070.7 1000.8,2068.2 1001.8,2068.2 1001.8,2072.6 1002.8,2072.6 1002.8,2062.4 1003.8,2062.4 1003.8,2045.0 1004.8,2045.0 1004.8,2064.1 1005.8,2064.1 1005.8,2060.0 1006.8,2060.0 1006.8,2062.4 1007.8,2062.4 1007.8,2085.3 1008.8,2085.3 1008.8,2040.2 1009.8,2040.2 1009.8,2062.9 1010.8,2062.9 1010.8,2039.5 1011.8,2039.5 1011.8,2060.9 1012.8,2060.9 1012.8,2046.6 1013.8,2046.6 1013.8,2034.6 1014.8,2034.6 1014.8,2026.9 1015.8,2026.9 1015.8,2018.9 1016.8,2018.9 1016.8,2021.2 1017.8,2021.2 1017.8,2021.2 1018.8,2021.2 1018.8,2072.5 1019.8,2072.5 1019.8,2044.7 1020.8,2044.7 1020.8,2047.4 1021.8,2047.4 1021.8,2047.4 1022.8,2047.4 1022.8,2042.6 1023.8,2042.6 1023.8,2075.9 1024.8,2075.9 1024.8,2030.2 1025.8,2030.2 1025.8,2014.8 1026.8,2014.8 1026.8,2015.4 1027.8,2015.4 1027.8,2022.6 1028.8,2022.6 1028.8,2023.4 1029.8,2023.4 1029.8,1996.5 1030.8,1996.5 1030.8,1996.5 1031.8,1996.5 1031.8,2017.1 1032.8,2017.1 1032.8,2017.1 1033.8,2017.1 1033.8,2029.2 1034.8,2029.2 1034.8,2028.5 1035.8,2028.5 1035.8,2028.5 1036.8,2028.5 1036.8,2037.3 1037.8,2037.3 1037.8,2036.3 1038.8,2036.3 1038.8,2062.1 1039.8,2062.1 1039.8,2064.5 1040.8,2064.5 1040.8,2061.8 1041.8,2061.8 1041.8,2067.9 1042.8,2067.9 1042.8,2089.7 1043.8,2089.7 1043.8,2065.9 1044.8,2065.9 1044.8,2048.9 1045.8,2048.9 1045.8,2071.8 1046.8,2071.8 1046.8,2046.8 1047.8,2046.8 1047.8,2092.4 1048.8,2092.4 1048.8,2047.5 1049.8,2047.5 1049.8,2044.0 1050.8,2044.0 1050.8,2063.4 1051.8,2063.4 1051.8,2051.7 1052.8,2051.7 1052.8,2045.6 1053.8,2045.6 1053.8,2046.4 1054.8,2046.4 1054.8,2027.2 1055.8,2027.2 1055.8,2027.2 1056.8,2027.2 1056.8,2001.5 1057.8,2001.5 1057.8,1994.9 1058.8,1994.9 1058.8,1992.3 1059.8,1992.3 1059.8,1992.3 1060.8,1992.3 1060.8,1988.8 1061.8,1988.8 1061.8,1988.8 1062.8,1988.8 1062.8,1997.5 1063.8,1997.5 1063.8,2005.3 1064.8,2005.3 1064.8,2012.5 1065.8,2012.5 1065.8,2028.4 1066.8,2028.4 1066.8,2016.6 1067.8,2016.6 1067.8,1999.3 1068.8,1999.3 1068.8,2031.6 1069.8,2031.6 1069.8,2005.5 1070.8,2005.5 1070.8,1995.6 1071.8,1995.6 1071.8,2004.6 1072.8,2004.6 1072.8,2001.9 1073.8,2001.9 1073.8,1998.2 1074.8,1998.2 1074.8,1994.6 1075.8,1994.6 1075.8,1987.1 1076.8,1987.1 1076.8,2040.0 1077.8,2040.0 1077.8,2028.9 1078.8,2028.9 1078.8,2029.1 1079.8,2029.1 1079.8,2007.2 1080.8,2007.2 1080.8,2046.6 1081.8,2046.6 1081.8,2017.0 1082.8,2017.0 1082.8,2037.0 1083.8,2037.0 1083.8,1986.3 1084.8,1986.3 1084.8,2032.1 1085.8,2032.1 1085.8,2038.2 1086.8,2038.2 1086.8,2027.2 1087.8,2027.2 1087.8,2013.0 1088.8,2013.0 1088.8,2033.1 1089.8,2033.1 1089.8,2033.1 1090.8,2033.1 1090.8,2076.7 1091.8,2076.7 1091.8,2055.5 1092.8,2055.5 1092.8,2024.0 1093.8,2024.0 1093.8,2024.0 1094.8,2024.0 1094.8,2047.6 1095.8,2047.6 1095.8,2052.1 1096.8,2052.1 1096.8,2069.2 1097.8,2069.2 1097.8,2024.7 1098.8,2024.7 1098.8,2035.0 1099.8,2035.0 1099.8,2034.0 1100.8,2034.0 1100.8,2034.0 1101.8,2034.0 1101.8,2025.8 1102.8,2025.8 1102.8,2040.8 1103.8,2040.8 1103.8,2022.0 1104.8,2022.0 1104.8,2027.9 1105.8,2027.9 1105.8,2005.5 1106.8,2005.5 1106.8,2014.5 1107.8,2014.5 1107.8,2062.3 1108.8,2062.3 1108.8,2068.7 1109.8,2068.7 1109.8,2062.4 1110.8,2062.4 1110.8,2038.8 1111.8,2038.8 1111.8,2038.8 1112.8,2038.8 1112.8,2023.6 1113.8,2023.6 1113.8,1988.3 1114.8,1988.3 1114.8,2040.4 1115.8,2040.4 1115.8,1958.4 1116.8,1958.4 1116.8,2042.8 1117.8,2042.8 1117.8,2026.9 1118.8,2026.9 1118.8,2015.3 1119.8,2015.3 1119.8,2008.6 1120.8,2008.6 1120.8,1997.9 1121.8,1997.9 1121.8,2020.2 1122.8,2020.2 1122.8,2008.5 1123.8,2008.5 1123.8,2008.5 1124.8,2008.5 1124.8,2026.0 1125.8,2026.0 1125.8,2042.1 1126.8,2042.1 1126.8,2054.9 1127.8,2054.9 1127.8,2070.3 1128.8,2070.3 1128.8,2044.7 1129.8,2044.7 1129.8,2036.8 1130.8,2036.8 1130.8,2051.8 1131.8,2051.8 1131.8,2050.9 1132.8,2050.9 1132.8,2018.7 1133.8,2018.7 1133.8,2018.7 1134.8,2018.7 1134.8,2049.4 1135.8,2049.4 1135.8,2049.4 1136.8,2049.4 1136.8,2061.5 1137.8,2061.5 1137.8,2034.3 1138.8,2034.3 1138.8,2055.9 1139.8,2055.9 1139.8,2050.1 1140.8,2050.1 1140.8,1998.1 1141.8,1998.1 1141.8,2016.2 1142.8,2016.2 1142.8,2010.7 1143.8,2010.7 1143.8,2009.3 1144.8,2009.3 1144.8,2009.3 1145.8,2009.3 1145.8,1996.5 1146.8,1996.5 1146.8,1996.5 1147.8,1996.5 1147.8,1996.7 1148.8,1996.7 1148.8,1997.0 1149.8,1997.0 1149.8,2000.8 1150.8,2000.8 1150.8,2010.8 1151.8,2010.8 1151.8,2009.8 1152.8,2009.8 1152.8,2030.4 1153.8,2030.4 1153.8,2025.0 1154.8,2025.0 1154.8,1998.3 1155.8,1998.3 1155.8,2008.9 1156.8,2008.9 1156.8,2040.1 1157.8,2040.1 1157.8,2013.8 1158.8,2013.8 1158.8,2024.5 1159.8,2024.5 1159.8,2017.2 1160.8,2017.2 1160.8,2019.7 1161.8,2019.7 1161.8,2023.4 1162.8,2023.4 1162.8,2028.5 1163.8,2028.5 1163.8,2008.4 1164.8,2008.4 1164.8,2018.3 1165.8,2018.3 1165.8,2035.7 1166.8,2035.7 1166.8,2066.6 1167.8,2066.6 1167.8,2078.9 1168.8,2078.9 1168.8,2032.4 1169.8,2032.4 1169.8,2022.8 1170.8,2022.8 1170.8,2046.5 1171.8,2046.5 1171.8,2031.7 1172.8,2031.7 1172.8,2006.4 1173.8,2006.4 1173.8,2006.4 1174.8,2006.4 1174.8,2014.2 1175.8,2014.2 1175.8,2013.5 1176.8,2013.5 1176.8,2019.4 1177.8,2019.4 1177.8,2019.4 1178.8,2019.4 1178.8,2017.0 1179.8,2017.0 1179.8,2010.4 1180.8,2010.4 1180.8,2006.1 1181.8,2006.1 1181.8,1991.2 1182.8,1991.2 1182.8,1980.4 1183.8,1980.4 1183.8,1980.4 1184.8,1980.4 1184.8,2021.7 1185.8,2021.7 1185.8,2040.6 1186.8,2040.6 1186.8,2022.6 1187.8,2022.6 1187.8,2022.3 1188.8,2022.3 1188.8,1990.0 1189.8,1990.0 1189.8,1962.3 1190.8,1962.3 1190.8,1962.3 1191.8,1962.3 1191.8,2017.2 1192.8,2017.2 1192.8,1986.4 1193.8,1986.4 1193.8,1998.8 1194.8,1998.8 1194.8,1998.8 1195.8,1998.8 1195.8,2006.0 1196.8,2006.0 1196.8,2015.8 1197.8,2015.8 1197.8,2014.3 1198.8,2014.3 1198.8,2015.3 1199.8,2015.3 1199.8,2009.1 1200.8,2009.1 1200.8,2026.5 1201.8,2026.5 1201.8,1987.8 1202.8,1987.8 1202.8,2020.4 1203.8,2020.4 1203.8,2020.4 1204.8,2020.4 1204.8,1996.5 1205.8,1996.5 1205.8,2009.6 1206.8,2009.6 1206.8,2009.6 1207.8,2009.6 1207.8,2012.6 1208.8,2012.6 1208.8,2014.3 1209.8,2014.3 1209.8,2011.7 1210.8,2011.7 1210.8,2019.0 1211.8,2019.0 1211.8,2020.3 1212.8,2020.3 1212.8,2018.5 1213.8,2018.5 1213.8,2056.5 1214.8,2056.5 1214.8,2037.6 1215.8,2037.6 1215.8,1996.7 1216.8,1996.7 1216.8,1996.7 1217.8,1996.7 1217.8,2034.0 1218.8,2034.0 1218.8,2045.5 1219.8,2045.5 1219.8,2040.6 1220.8,2040.6 1220.8,2033.5 1221.8,2033.5 1221.8,2025.9 1222.8,2025.9 1222.8,2044.9 1223.8,2044.9 1223.8,2028.2 1224.8,2028.2 1224.8,2012.0 1225.8,2012.0 1225.8,2025.7 1226.8,2025.7 1226.8,2028.1 1227.8,2028.1 1227.8,2032.8 1228.8,2032.8 1228.8,2021.0 1229.8,2021.0 1229.8,2021.0 1230.8,2021.0 1230.8,2041.9 1231.8,2041.9 1231.8,2038.6 1232.8,2038.6 1232.8,2046.8 1233.8,2046.8 1233.8,2053.9 1234.8,2053.9 1234.8,2033.5 1235.8,2033.5 1235.8,2033.5 1236.8,2033.5 1236.8,2055.9 1237.8,2055.9 1237.8,2048.8 1238.8,2048.8 1238.8,2048.0 1239.8,2048.0 1239.8,1958.4 1240.8,1958.4 1240.8,2059.3 1241.8,2059.3 1241.8,1990.4 1242.8,1990.4 1242.8,1990.4 1243.8,1990.4 1243.8,2004.5 1244.8,2004.5 1244.8,2010.2 1245.8,2010.2 1245.8,2045.0 1246.8,2045.0 1246.8,2019.4 1247.8,2019.4 1247.8,2018.4 1248.8,2018.4 1248.8,2045.1 1249.8,2045.1 1249.8,2025.5 1250.8,2025.5 1250.8,2018.4 1251.8,2018.4 1251.8,2036.1 1252.8,2036.1 1252.8,2061.2 1253.8,2061.2 1253.8,2058.9 1254.8,2058.9 1254.8,2039.8 1255.8,2039.8 1255.8,2009.2 1256.8,2009.2 1256.8,2043.0 1257.8,2043.0 1257.8,2046.0 1258.8,2046.0 1258.8,2034.1 1259.8,2034.1 1259.8,2050.2 1260.8,2050.2 1260.8,2068.3 1261.8,2068.3 1261.8,2030.3 1262.8,2030.3 1262.8,2030.3 1263.8,2030.3 1263.8,2014.4 1264.8,2014.4 1264.8,2013.6 1265.8,2013.6 1265.8,2014.0 1266.8,2014.0 1266.8,1988.7 1267.8,1988.7 1267.8,2033.2 1268.8,2033.2 1268.8,2022.8 1269.8,2022.8 1269.8,2012.7 1270.8,2012.7 1270.8,1996.1 1271.8,1996.1 1271.8,1975.3 1272.8,1975.3 1272.8,1972.6 1273.8,1972.6 1273.8,1972.6 1274.8,1972.6 1274.8,1985.1 1275.8,1985.1 1275.8,1981.6 1276.8,1981.6 1276.8,1981.6 1277.8,1981.6 1277.8,1981.6 1278.8,1981.6 1278.8,2015.8 1279.8,2015.8 1279.8,1996.6 1280.8,1996.6 1280.8,1948.1 1281.8,1948.1 1281.8,1948.1 1282.8,1948.1 1282.8,2012.9 1283.8,2012.9 1283.8,1972.8 1284.8,1972.8 1284.8,1972.8 1285.8,1972.8 1285.8,2049.2 1286.8,2049.2 1286.8,2032.5 1287.8,2032.5 1287.8,2045.3 1288.8,2045.3 1288.8,2006.6 1289.8,2006.6 1289.8,2006.6 1290.8,2006.6 1290.8,2048.6 1291.8,2048.6 1291.8,2048.6 1292.8,2048.6 1292.8,2018.8 1293.8,2018.8 1293.8,2065.5 1294.8,2065.5 1294.8,2060.1 1295.8,2060.1 1295.8,2040.9 1296.8,2040.9 1296.8,2045.2 1297.8,2045.2 1297.8,2032.1 1298.8,2032.1 1298.8,2037.9 1299.8,2037.9 1299.8,2002.3 1300.8,2002.3 1300.8,1992.4 1301.8,1992.4 1301.8,2020.9 1302.8,2020.9 1302.8,1979.2 1303.8,1979.2 1303.8,2013.5 1304.8,2013.5 1304.8,1995.5 1305.8,1995.5 1305.8,2004.4 1306.8,2004.4 1306.8,2002.1 1307.8,2002.1 1307.8,2002.8 1308.8,2002.8 1308.8,2043.2 1309.4,2043.2 1309.4,2083.6 1308.8,2083.6 1308.8,2083.6 1307.8,2083.6 1307.8,2102.4 1306.8,2102.4 1306.8,2082.4 1305.8,2082.4 1305.8,2082.4 1304.8,2082.4 1304.8,2094.9 1303.8,2094.9 1303.8,2130.7 1302.8,2130.7 1302.8,2130.7 1301.8,2130.7 1301.8,2090.2 1300.8,2090.2 1300.8,2103.3 1299.8,2103.3 1299.8,2100.7 1298.8,2100.7 1298.8,2115.2 1297.8,2115.2 1297.8,2091.4 1296.8,2091.4 1296.8,2126.1 1295.8,2126.1 1295.8,2126.1 1294.8,2126.1 1294.8,2125.4 1293.8,2125.4 1293.8,2103.3 1292.8,2103.3 1292.8,2108.8 1291.8,2108.8 1291.8,2106.7 1290.8,2106.7 1290.8,2098.1 1289.8,2098.1 1289.8,2093.7 1288.8,2093.7 1288.8,2111.4 1287.8,2111.4 1287.8,2101.7 1286.8,2101.7 1286.8,2093.2 1285.8,2093.2 1285.8,2089.4 1284.8,2089.4 1284.8,2076.8 1283.8,2076.8 1283.8,2093.6 1282.8,2093.6 1282.8,2068.8 1281.8,2068.8 1281.8,2086.7 1280.8,2086.7 1280.8,2075.1 1279.8,2075.1 1279.8,2075.1 1278.8,2075.1 1278.8,2085.4 1277.8,2085.4 1277.8,2077.0 1276.8,2077.0 1276.8,2059.3 1275.8,2059.3 1275.8,2068.9 1274.8,2068.9 1274.8,2050.5 1273.8,2050.5 1273.8,2081.3 1272.8,2081.3 1272.8,2058.5 1271.8,2058.5 1271.8,2070.2 1270.8,2070.2 1270.8,2108.4 1269.8,2108.4 1269.8,2094.4 1268.8,2094.4 1268.8,2074.8 1267.8,2074.8 1267.8,2073.0 1266.8,2073.0 1266.8,2084.2 1265.8,2084.2 1265.8,2069.9 1264.8,2069.9 1264.8,2110.9 1263.8,2110.9 1263.8,2110.0 1262.8,2110.0 1262.8,2103.4 1261.8,2103.4 1261.8,2098.4 1260.8,2098.4 1260.8,2123.0 1259.8,2123.0 1259.8,2112.6 1258.8,2112.6 1258.8,2104.8 1257.8,2104.8 1257.8,2104.8 1256.8,2104.8 1256.8,2094.1 1255.8,2094.1 1255.8,2118.3 1254.8,2118.3 1254.8,2135.6 1253.8,2135.6 1253.8,2126.9 1252.8,2126.9 1252.8,2102.8 1251.8,2102.8 1251.8,2114.1 1250.8,2114.1 1250.8,2088.4 1249.8,2088.4 1249.8,2114.8 1248.8,2114.8 1248.8,2087.4 1247.8,2087.4 1247.8,2082.5 1246.8,2082.5 1246.8,2082.8 1245.8,2082.8 1245.8,2104.4 1244.8,2104.4 1244.8,2063.7 1243.8,2063.7 1243.8,2073.7 1242.8,2073.7 1242.8,2080.7 1241.8,2080.7 1241.8,2123.3 1240.8,2123.3 1240.8,2125.9 1239.8,2125.9 1239.8,2114.4 1238.8,2114.4 1238.8,2127.5 1237.8,2127.5 1237.8,2126.5 1236.8,2126.5 1236.8,2102.5 1235.8,2102.5 1235.8,2105.7 1234.8,2105.7 1234.8,2116.7 1233.8,2116.7 1233.8,2089.6 1232.8,2089.6 1232.8,2097.8 1231.8,2097.8 1231.8,2101.3 1230.8,2101.3 1230.8,2118.4 1229.8,2118.4 1229.8,2096.7 1228.8,2096.7 1228.8,2079.2 1227.8,2079.2 1227.8,2080.5 1226.8,2080.5 1226.8,2093.2 1225.8,2093.2 1225.8,2118.9 1224.8,2118.9 1224.8,2118.9 1223.8,2118.9 1223.8,2093.1 1222.8,2093.1 1222.8,2104.4 1221.8,2104.4 1221.8,2102.2 1220.8,2102.2 1220.8,2091.3 1219.8,2091.3 1219.8,2099.4 1218.8,2099.4 1218.8,2080.0 1217.8,2080.0 1217.8,2064.0 1216.8,2064.0 1216.8,2069.2 1215.8,2069.2 1215.8,2075.6 1214.8,2075.6 1214.8,2116.4 1213.8,2116.4 1213.8,2097.5 1212.8,2097.5 1212.8,2078.3 1211.8,2078.3 1211.8,2075.7 1210.8,2075.7 1210.8,2085.6 1209.8,2085.6 1209.8,2080.0 1208.8,2080.0 1208.8,2092.5 1207.8,2092.5 1207.8,2075.8 1206.8,2075.8 1206.8,2086.9 1205.8,2086.9 1205.8,2066.9 1204.8,2066.9 1204.8,2059.5 1203.8,2059.5 1203.8,2091.1 1202.8,2091.1 1202.8,2083.4 1201.8,2083.4 1201.8,2121.4 1200.8,2121.4 1200.8,2121.4 1199.8,2121.4 1199.8,2070.3 1198.8,2070.3 1198.8,2081.2 1197.8,2081.2 1197.8,2075.7 1196.8,2075.7 1196.8,2087.4 1195.8,2087.4 1195.8,2077.6 1194.8,2077.6 1194.8,2060.4 1193.8,2060.4 1193.8,2095.4 1192.8,2095.4 1192.8,2091.5 1191.8,2091.5 1191.8,2055.9 1190.8,2055.9 1190.8,2064.3 1189.8,2064.3 1189.8,2108.8 1188.8,2108.8 1188.8,2121.4 1187.8,2121.4 1187.8,2066.8 1186.8,2066.8 1186.8,2087.7 1185.8,2087.7 1185.8,2107.7 1184.8,2107.7 1184.8,2116.6 1183.8,2116.6 1183.8,2084.0 1182.8,2084.0 1182.8,2049.1 1181.8,2049.1 1181.8,2081.2 1180.8,2081.2 1180.8,2105.4 1179.8,2105.4 1179.8,2088.6 1178.8,2088.6 1178.8,2103.8 1177.8,2103.8 1177.8,2103.8 1176.8,2103.8 1176.8,2083.9 1175.8,2083.9 1175.8,2083.9 1174.8,2083.9 1174.8,2063.5 1173.8,2063.5 1173.8,2093.2 1172.8,2093.2 1172.8,2101.4 1171.8,2101.4 1171.8,2107.3 1170.8,2107.3 1170.8,2090.9 1169.8,2090.9 1169.8,2094.7 1168.8,2094.7 1168.8,2126.2 1167.8,2126.2 1167.8,2101.6 1166.8,2101.6 1166.8,2100.4 1165.8,2100.4 1165.8,2125.3 1164.8,2125.3 1164.8,2111.6 1163.8,2111.6 1163.8,2111.6 1162.8,2111.6 1162.8,2089.1 1161.8,2089.1 1161.8,2096.6 1160.8,2096.6 1160.8,2063.2 1159.8,2063.2 1159.8,2080.7 1158.8,2080.7 1158.8,2078.6 1157.8,2078.6 1157.8,2078.6 1156.8,2078.6 1156.8,2070.0 1155.8,2070.0 1155.8,2075.0 1154.8,2075.0 1154.8,2082.8 1153.8,2082.8 1153.8,2081.6 1152.8,2081.6 1152.8,2093.6 1151.8,2093.6 1151.8,2051.1 1150.8,2051.1 1150.8,2082.7 1149.8,2082.7 1149.8,2078.3 1148.8,2078.3 1148.8,2028.0 1147.8,2028.0 1147.8,2049.3 1146.8,2049.3 1146.8,2055.7 1145.8,2055.7 1145.8,2093.3 1144.8,2093.3 1144.8,2078.4 1143.8,2078.4 1143.8,2082.4 1142.8,2082.4 1142.8,2086.1 1141.8,2086.1 1141.8,2081.2 1140.8,2081.2 1140.8,2108.5 1139.8,2108.5 1139.8,2108.2 1138.8,2108.2 1138.8,2133.0 1137.8,2133.0 1137.8,2137.2 1136.8,2137.2 1136.8,2137.2 1135.8,2137.2 1135.8,2136.0 1134.8,2136.0 1134.8,2102.2 1133.8,2102.2 1133.8,2098.6 1132.8,2098.6 1132.8,2125.5 1131.8,2125.5 1131.8,2115.7 1130.8,2115.7 1130.8,2095.9 1129.8,2095.9 1129.8,2112.5 1128.8,2112.5 1128.8,2130.9 1127.8,2130.9 1127.8,2113.5 1126.8,2113.5 1126.8,2125.7 1125.8,2125.7 1125.8,2125.5 1124.8,2125.5 1124.8,2075.3 1123.8,2075.3 1123.8,2078.4 1122.8,2078.4 1122.8,2070.6 1121.8,2070.6 1121.8,2080.8 1120.8,2080.8 1120.8,2080.4 1119.8,2080.4 1119.8,2082.5 1118.8,2082.5 1118.8,2082.5 1117.8,2082.5 1117.8,2090.9 1116.8,2090.9 1116.8,2096.0 1115.8,2096.0 1115.8,2092.8 1114.8,2092.8 1114.8,2079.7 1113.8,2079.7 1113.8,2104.0 1112.8,2104.0 1112.8,2104.0 1111.8,2104.0 1111.8,2114.2 1110.8,2114.2 1110.8,2122.1 1109.8,2122.1 1109.8,2124.3 1108.8,2124.3 1108.8,2127.2 1107.8,2127.2 1107.8,2139.9 1106.8,2139.9 1106.8,2069.6 1105.8,2069.6 1105.8,2104.2 1104.8,2104.2 1104.8,2087.4 1103.8,2087.4 1103.8,2085.9 1102.8,2085.9 1102.8,2111.9 1101.8,2111.9 1101.8,2096.8 1100.8,2096.8 1100.8,2134.9 1099.8,2134.9 1099.8,2122.0 1098.8,2122.0 1098.8,2120.7 1097.8,2120.7 1097.8,2145.2 1096.8,2145.2 1096.8,2118.4 1095.8,2118.4 1095.8,2129.7 1094.8,2129.7 1094.8,2119.5 1093.8,2119.5 1093.8,2120.3 1092.8,2120.3 1092.8,2118.5 1091.8,2118.5 1091.8,2134.2 1090.8,2134.2 1090.8,2134.2 1089.8,2134.2 1089.8,2123.0 1088.8,2123.0 1088.8,2105.5 1087.8,2105.5 1087.8,2087.0 1086.8,2087.0 1086.8,2093.1 1085.8,2093.1 1085.8,2095.0 1084.8,2095.0 1084.8,2103.4 1083.8,2103.4 1083.8,2101.4 1082.8,2101.4 1082.8,2078.5 1081.8,2078.5 1081.8,2108.6 1080.8,2108.6 1080.8,2100.7 1079.8,2100.7 1079.8,2070.4 1078.8,2070.4 1078.8,2069.4 1077.8,2069.4 1077.8,2086.5 1076.8,2086.5 1076.8,2071.8 1075.8,2071.8 1075.8,2074.1 1074.8,2074.1 1074.8,2068.2 1073.8,2068.2 1073.8,2068.2 1072.8,2068.2 1072.8,2042.0 1071.8,2042.0 1071.8,2046.0 1070.8,2046.0 1070.8,2092.0 1069.8,2092.0 1069.8,2099.0 1068.8,2099.0 1068.8,2070.3 1067.8,2070.3 1067.8,2081.7 1066.8,2081.7 1066.8,2076.1 1065.8,2076.1 1065.8,2083.8 1064.8,2083.8 1064.8,2083.2 1063.8,2083.2 1063.8,2068.4 1062.8,2068.4 1062.8,2081.6 1061.8,2081.6 1061.8,2052.3 1060.8,2052.3 1060.8,2049.7 1059.8,2049.7 1059.8,2065.1 1058.8,2065.1 1058.8,2073.9 1057.8,2073.9 1057.8,2073.9 1056.8,2073.9 1056.8,2125.7 1055.8,2125.7 1055.8,2109.3 1054.8,2109.3 1054.8,2117.4 1053.8,2117.4 1053.8,2112.2 1052.8,2112.2 1052.8,2113.8 1051.8,2113.8 1051.8,2121.8 1050.8,2121.8 1050.8,2121.1 1049.8,2121.1 1049.8,2129.3 1048.8,2129.3 1048.8,2141.9 1047.8,2141.9 1047.8,2141.9 1046.8,2141.9 1046.8,2120.3 1045.8,2120.3 1045.8,2127.3 1044.8,2127.3 1044.8,2127.3 1043.8,2127.3 1043.8,2125.4 1042.8,2125.4 1042.8,2125.4 1041.8,2125.4 1041.8,2102.0 1040.8,2102.0 1040.8,2113.9 1039.8,2113.9 1039.8,2112.7 1038.8,2112.7 1038.8,2144.9 1037.8,2144.9 1037.8,2144.9 1036.8,2144.9 1036.8,2072.4 1035.8,2072.4 1035.8,2141.6 1034.8,2141.6 1034.8,2113.1 1033.8,2113.1 1033.8,2111.1 1032.8,2111.1 1032.8,2105.6 1031.8,2105.6 1031.8,2085.8 1030.8,2085.8 1030.8,2081.6 1029.8,2081.6 1029.8,2077.9 1028.8,2077.9 1028.8,2082.0 1027.8,2082.0 1027.8,2089.3 1026.8,2089.3 1026.8,2084.0 1025.8,2084.0 1025.8,2095.6 1024.8,2095.6 1024.8,2132.2 1023.8,2132.2 1023.8,2121.0 1022.8,2121.0 1022.8,2132.4 1021.8,2132.4 1021.8,2131.2 1020.8,2131.2 1020.8,2145.0 1019.8,2145.0 1019.8,2122.4 1018.8,2122.4 1018.8,2118.2 1017.8,2118.2 1017.8,2107.2 1016.8,2107.2 1016.8,2112.6 1015.8,2112.6 1015.8,2076.3 1014.8,2076.3 1014.8,2076.7 1013.8,2076.7 1013.8,2121.1 1012.8,2121.1 1012.8,2107.2 1011.8,2107.2 1011.8,2093.1 1010.8,2093.1 1010.8,2109.6 1009.8,2109.6 1009.8,2114.7 1008.8,2114.7 1008.8,2158.9 1007.8,2158.9 1007.8,2158.9 1006.8,2158.9 1006.8,2098.4 1005.8,2098.4 1005.8,2119.3 1004.8,2119.3 1004.8,2119.3 1003.8,2119.3 1003.8,2140.5 1002.8,2140.5 1002.8,2139.1 1001.8,2139.1 1001.8,2151.2 1000.8,2151.2 1000.8,2118.3 999.8,2118.3 999.8,2104.1 998.8,2104.1 998.8,2125.1 997.8,2125.1 997.8,2190.0 996.8,2190.0 996.8,2165.9 995.8,2165.9 995.8,2115.7 994.8,2115.7 994.8,2122.2 993.8,2122.2 993.8,2149.0 992.8,2149.0 992.8,2160.6 991.8,2160.6 991.8,2176.7 990.8,2176.7 990.8,2176.7 989.8,2176.7 989.8,2160.8 988.8,2160.8 988.8,2155.3 987.8,2155.3 987.8,2159.4 986.8,2159.4 986.8,2175.5 985.8,2175.5 985.8,2139.1 984.8,2139.1 984.8,2169.8 983.8,2169.8 983.8,2198.4 982.8,2198.4 982.8,2202.6 981.8,2202.6 981.8,2202.6 980.8,2202.6 980.8,2151.8 979.8,2151.8 979.8,2170.6 978.8,2170.6 978.8,2172.3 977.8,2172.3 977.8,2188.0 976.8,2188.0 976.8,2174.6 975.8,2174.6 975.8,2158.3 974.8,2158.3 974.8,2132.2 973.8,2132.2 973.8,2189.2 972.8,2189.2 972.8,2189.2 971.8,2189.2 971.8,2185.6 970.8,2185.6 970.8,2185.6 969.8,2185.6 969.8,2183.2 968.8,2183.2 968.8,2180.2 967.8,2180.2 967.8,2172.9 966.8,2172.9 966.8,2160.2 965.8,2160.2 965.8,2160.2 964.8,2160.2 964.8,2162.7 963.8,2162.7 963.8,2125.9 962.8,2125.9 962.8,2104.3 961.8,2104.3 961.8,2129.7 960.8,2129.7 960.8,2134.5 959.8,2134.5 959.8,2110.7 958.8,2110.7 958.8,2085.8 957.8,2085.8 957.8,2099.4 956.8,2099.4 956.8,2100.2 955.8,2100.2 955.8,2090.6 954.8,2090.6 954.8,2092.2 953.8,2092.2 953.8,2118.4 952.8,2118.4 952.8,2107.2 951.8,2107.2 951.8,2114.9 950.8,2114.9 950.8,2110.3 949.8,2110.3 949.8,2122.6 948.8,2122.6 948.8,2109.5 947.8,2109.5 947.8,2143.6 946.8,2143.6 946.8,2095.4 945.8,2095.4 945.8,2099.7 944.8,2099.7 944.8,2093.0 943.8,2093.0 943.8,2117.6 942.8,2117.6 942.8,2118.4 941.8,2118.4 941.8,2123.3 940.8,2123.3 940.8,2110.0 939.8,2110.0 939.8,2110.0 938.8,2110.0 938.8,2151.1 937.8,2151.1 937.8,2090.9 936.8,2090.9 936.8,2083.4 935.8,2083.4 935.8,2111.2 934.8,2111.2 934.8,2135.0 933.8,2135.0 933.8,2137.1 932.8,2137.1 932.8,2155.9 931.8,2155.9 931.8,2154.9 930.8,2154.9 930.8,2127.1 929.8,2127.1 929.8,2112.1 928.8,2112.1 928.8,2118.8 927.8,2118.8 927.8,2118.1 926.8,2118.1 926.8,2104.2 925.8,2104.2 925.8,2133.1 924.8,2133.1 924.8,2107.0 923.8,2107.0 923.8,2068.4 922.8,2068.4 922.8,2071.1 921.8,2071.1 921.8,2086.3 920.8,2086.3 920.8,2054.8 919.8,2054.8 919.8,2071.1 918.8,2071.1 918.8,2136.6 917.8,2136.6 917.8,2135.5 916.8,2135.5 916.8,2135.5 915.8,2135.5 915.8,2096.8 914.8,2096.8 914.8,2096.8 913.8,2096.8 913.8,2120.9 912.8,2120.9 912.8,2109.8 911.8,2109.8 911.8,2144.4 910.8,2144.4 910.8,2154.8 909.8,2154.8 909.8,2153.2 908.8,2153.2 908.8,2109.4 907.8,2109.4 907.8,2109.4 906.8,2109.4 906.8,2092.0 905.8,2092.0 905.8,2086.1 904.8,2086.1 904.8,2086.1 903.8,2086.1 903.8,2118.5 902.8,2118.5 902.8,2118.5 901.8,2118.5 901.8,2108.2 900.8,2108.2 900.8,2086.8 899.8,2086.8 899.8,2126.2 898.8,2126.2 898.8,2135.6 897.8,2135.6 897.8,2124.3 896.8,2124.3 896.8,2124.3 895.8,2124.3 895.8,2103.7 894.8,2103.7 894.8,2091.0 893.8,2091.0 893.8,2088.8 892.8,2088.8 892.8,2081.2 891.8,2081.2 891.8,2088.4 890.8,2088.4 890.8,2110.3 889.8,2110.3 889.8,2122.5 888.8,2122.5 888.8,2080.6 887.8,2080.6 887.8,2080.0 886.8,2080.0 886.8,2086.9 885.8,2086.9 885.8,2101.9 884.8,2101.9 884.8,2041.7 883.8,2041.7 883.8,2046.4 882.8,2046.4 882.8,2028.7 881.8,2028.7 881.8,2064.6 880.8,2064.6 880.8,2042.7 879.8,2042.7 879.8,2051.8 878.8,2051.8 878.8,2051.8 877.8,2051.8 877.8,2045.5 876.8,2045.5 876.8,2047.5 875.8,2047.5 875.8,2055.8 874.8,2055.8 874.8,2064.8 873.8,2064.8 873.8,2097.0 872.8,2097.0 872.8,2024.1 871.8,2024.1 871.8,2035.3 870.8,2035.3 870.8,2031.6 869.8,2031.6 869.8,2049.1 868.8,2049.1 868.8,2047.7 867.8,2047.7 867.8,2074.2 866.8,2074.2 866.8,2098.4 865.8,2098.4 865.8,2043.5 864.8,2043.5 864.8,2043.6 863.8,2043.6 863.8,2070.2 862.8,2070.2 862.8,2110.2 861.8,2110.2 861.8,2073.5 860.8,2073.5 860.8,2096.2 859.8,2096.2 859.8,2096.2 858.8,2096.2 858.8,2115.7 857.8,2115.7 857.8,2085.7 856.8,2085.7 856.8,2117.4 855.8,2117.4 855.8,2095.5 854.8,2095.5 854.8,2107.8 853.8,2107.8 853.8,2107.4 852.8,2107.4 852.8,2119.2 851.8,2119.2 851.8,2093.5 850.8,2093.5 850.8,2107.9 849.8,2107.9 849.8,2135.9 848.8,2135.9 848.8,2112.9 847.8,2112.9 847.8,2112.9 846.8,2112.9 846.8,2095.0 845.8,2095.0 845.8,2121.4 844.8,2121.4 844.8,2138.6 843.8,2138.6 843.8,2151.4 842.8,2151.4 842.8,2160.7 841.8,2160.7 841.8,2157.1 840.8,2157.1 840.8,2157.1 839.8,2157.1 839.8,2118.7 838.8,2118.7 838.8,2165.2 837.8,2165.2 837.8,2158.0 836.8,2158.0 836.8,2133.3 835.8,2133.3 835.8,2168.2 834.8,2168.2 834.8,2169.3 833.8,2169.3 833.8,2155.7 832.8,2155.7 832.8,2141.9 831.8,2141.9 831.8,2154.6 830.8,2154.6 830.8,2160.5 829.8,2160.5 829.8,2117.6 828.8,2117.6 828.8,2108.2 827.8,2108.2 827.8,2101.0 826.8,2101.0 826.8,2079.2 825.8,2079.2 825.8,2107.9 824.8,2107.9 824.8,2107.9 823.8,2107.9 823.8,2131.3 822.8,2131.3 822.8,2107.5 821.8,2107.5 821.8,2124.0 820.8,2124.0 820.8,2148.5 819.8,2148.5 819.8,2159.6 818.8,2159.6 818.8,2141.2 817.8,2141.2 817.8,2139.3 816.8,2139.3 816.8,2163.5 815.8,2163.5 815.8,2173.0 814.8,2173.0 814.8,2127.9 813.8,2127.9 813.8,2149.6 812.8,2149.6 812.8,2161.7 811.8,2161.7 811.8,2169.4 810.8,2169.4 810.8,2160.1 809.8,2160.1 809.8,2121.3 808.8,2121.3 808.8,2121.3 807.8,2121.3 807.8,2124.6 806.8,2124.6 806.8,2096.1 805.8,2096.1 805.8,2112.8 804.8,2112.8 804.8,2115.2 803.8,2115.2 803.8,2124.0 802.8,2124.0 802.8,2116.1 801.8,2116.1 801.8,2116.1 800.8,2116.1 800.8,2157.7 799.8,2157.7 799.8,2096.9 798.8,2096.9 798.8,2092.4 797.8,2092.4 797.8,2074.4 796.8,2074.4 796.8,2107.9 795.8,2107.9 795.8,2107.9 794.8,2107.9 794.8,2067.2 793.8,2067.2 793.8,2066.5 792.8,2066.5 792.8,2108.6 791.8,2108.6 791.8,2107.6 790.8,2107.6 790.8,2081.4 789.8,2081.4 789.8,2088.6 788.8,2088.6 788.8,2090.4 787.8,2090.4 787.8,2082.7 786.8,2082.7 786.8,2080.4 785.8,2080.4 785.8,2105.5 784.8,2105.5 784.8,2135.3 783.8,2135.3 783.8,2163.8 782.8,2163.8 782.8,2144.9 781.8,2144.9 781.8,2129.1 780.8,2129.1 780.8,2134.6 779.8,2134.6 779.8,2116.5 778.8,2116.5 778.8,2113.9 777.8,2113.9 777.8,2113.7 776.8,2113.7 776.8,2106.0 775.8,2106.0 775.8,2113.2 774.8,2113.2 774.8,2146.8 773.8,2146.8 773.8,2120.7 772.8,2120.7 772.8,2142.0 771.8,2142.0 771.8,2127.1 770.8,2127.1 770.8,2101.6 769.8,2101.6 769.8,2095.5 768.8,2095.5 768.8,2118.9 767.8,2118.9 767.8,2152.5 766.8,2152.5 766.8,2126.1 765.8,2126.1 765.8,2143.7 764.8,2143.7 764.8,2148.2 763.8,2148.2 763.8,2149.7 762.8,2149.7 762.8,2121.5 761.8,2121.5 761.8,2100.5 760.8,2100.5 760.8,2140.8 759.8,2140.8 759.8,2076.2 758.8,2076.2 758.8,2082.4 757.8,2082.4 757.8,2130.2 756.8,2130.2 756.8,2132.6 755.8,2132.6 755.8,2125.7 754.8,2125.7 754.8,2096.3 753.8,2096.3 753.8,2092.0 752.8,2092.0 752.8,2116.9 751.8,2116.9 751.8,2096.4 750.8,2096.4 750.8,2096.0 749.8,2096.0 749.8,2109.0 748.8,2109.0 748.8,2107.1 747.8,2107.1 747.8,2104.8 746.8,2104.8 746.8,2101.7 745.8,2101.7 745.8,2095.3 744.8,2095.3 744.8,2096.2 743.8,2096.2 743.8,2086.4 742.8,2086.4 742.8,2090.9 741.8,2090.9 741.8,2046.7 740.8,2046.7 740.8,2044.1 739.8,2044.1 739.8,2076.1 738.8,2076.1 738.8,2097.9 737.8,2097.9 737.8,2085.2 736.8,2085.2 736.8,2079.9 735.8,2079.9 735.8,2099.1 734.8,2099.1 734.8,2072.2 733.8,2072.2 733.8,2099.6 732.8,2099.6 732.8,2108.3 731.8,2108.3 731.8,2100.0 730.8,2100.0 730.8,2087.9 729.8,2087.9 729.8,2064.1 728.8,2064.1 728.8,2087.2 727.8,2087.2 727.8,2086.2 726.8,2086.2 726.8,2101.5 725.8,2101.5 725.8,2095.6 724.8,2095.6 724.8,2098.2 723.8,2098.2 723.8,2083.4 722.8,2083.4 722.8,2078.6 721.8,2078.6 721.8,2083.6 720.8,2083.6 720.8,2105.4 719.8,2105.4 719.8,2125.7 718.8,2125.7 718.8,2125.7 717.8,2125.7 717.8,2124.8 716.8,2124.8 716.8,2124.8 715.8,2124.8 715.8,2093.2 714.8,2093.2 714.8,2079.0 713.8,2079.0 713.8,2097.4 712.8,2097.4 712.8,2109.1 711.8,2109.1 711.8,2105.9 710.8,2105.9 710.8,2061.9 709.8,2061.9 709.8,2080.1 708.8,2080.1 708.8,2096.4 707.8,2096.4 707.8,2113.3 706.8,2113.3 706.8,2105.2 705.8,2105.2 705.8,2112.0 704.8,2112.0 704.8,2097.6 703.8,2097.6 703.8,2137.0 702.8,2137.0 702.8,2095.3 701.8,2095.3 701.8,2127.6 700.8,2127.6 700.8,2073.3 699.8,2073.3 699.8,2060.0 698.8,2060.0 698.8,2050.1 697.8,2050.1 697.8,2048.9 696.8,2048.9 696.8,2032.5 695.8,2032.5 695.8,2032.5 694.8,2032.5 694.8,2036.9 693.8,2036.9 693.8,2040.0 692.8,2040.0 692.8,2020.7 691.8,2020.7 691.8,2039.7 690.8,2039.7 690.8,2065.2 689.8,2065.2 689.8,2053.8 688.8,2053.8 688.8,2079.0 687.8,2079.0 687.8,2077.5 686.8,2077.5 686.8,2069.1 685.8,2069.1 685.8,2069.1 684.8,2069.1 684.8,2090.2 683.8,2090.2 683.8,2102.1 682.8,2102.1 682.8,2096.3 681.8,2096.3 681.8,2096.3 680.8,2096.3 680.8,2096.9 679.8,2096.9 679.8,2081.2 678.8,2081.2 678.8,2081.2 677.8,2081.2 677.8,2084.5 676.8,2084.5 676.8,2110.1 675.8,2110.1 675.8,2085.2 674.8,2085.2 674.8,2068.1 673.8,2068.1 673.8,2063.1 672.8,2063.1 672.8,2047.9 671.8,2047.9 671.8,2052.7 670.8,2052.7 670.8,2046.8 669.8,2046.8 669.8,2077.9 668.8,2077.9 668.8,2094.1 667.8,2094.1 667.8,2097.1 666.8,2097.1 666.8,2102.7 665.8,2102.7 665.8,2072.9 664.8,2072.9 664.8,2072.9 663.8,2072.9 663.8,2098.8 662.8,2098.8 662.8,2064.5 661.8,2064.5 661.8,2103.3 660.8,2103.3 660.8,2103.4 659.8,2103.4 659.8,2094.6 658.8,2094.6 658.8,2044.9 657.8,2044.9 657.8,2103.8 656.8,2103.8 656.8,2103.8 655.8,2103.8 655.8,2103.9 654.8,2103.9 654.8,2081.8 653.8,2081.8 653.8,2104.1 652.8,2104.1 652.8,2052.9 651.8,2052.9 651.8,2048.9 650.8,2048.9 650.8,2048.9 649.8,2048.9 649.8,2083.0 648.8,2083.0 648.8,2083.0 647.8,2083.0 647.8,2105.0 646.8,2105.0 646.8,2099.3 645.8,2099.3 645.8,2085.4 644.8,2085.4 644.8,2098.6 643.8,2098.6 643.8,2105.7 642.8,2105.7 642.8,2099.1 641.8,2099.1 641.8,2056.1 640.8,2056.1 640.8,2046.6 639.8,2046.6 639.8,2038.3 638.8,2038.3 638.8,2103.5 637.8,2103.5 637.8,2070.6 636.8,2070.6 636.8,2076.2 635.8,2076.2 635.8,2082.4 634.8,2082.4 634.8,2080.1 633.8,2080.1 633.8,2089.3 632.8,2089.3 632.8,2094.8 631.8,2094.8 631.8,2096.1 630.8,2096.1 630.8,2086.1 629.8,2086.1 629.8,2093.1 628.8,2093.1 628.8,2097.2 627.8,2097.2 627.8,2097.2 626.8,2097.2 626.8,2070.0 625.8,2070.0 625.8,2065.1 624.8,2065.1 624.8,2074.1 623.8,2074.1 623.8,2087.6 622.8,2087.6 622.8,2105.6 621.8,2105.6 621.8,2105.6 620.8,2105.6 620.8,2131.2 619.8,2131.2 619.8,2130.9 618.8,2130.9 618.8,2112.1 617.8,2112.1 617.8,2112.1 616.8,2112.1 616.8,2061.0 615.8,2061.0 615.8,2114.8 614.8,2114.8 614.8,2114.8 613.8,2114.8 613.8,2085.7 612.8,2085.7 612.8,2108.1 611.8,2108.1 611.8,2091.8 610.8,2091.8 610.8,2118.6 609.8,2118.6 609.8,2076.4 608.8,2076.4 608.8,2089.1 607.8,2089.1 607.8,2102.6 606.8,2102.6 606.8,2117.2 605.8,2117.2 605.8,2083.8 604.8,2083.8 604.8,2118.6 603.8,2118.6 603.8,2103.0 602.8,2103.0 602.8,2115.3 601.8,2115.3 601.8,2115.3 600.8,2115.3 600.8,2096.5 599.8,2096.5 599.8,2083.8 598.8,2083.8 598.8,2076.5 597.8,2076.5 597.8,2101.9 596.8,2101.9 596.8,2107.0 595.8,2107.0 595.8,2095.0 594.8,2095.0 594.8,2080.2 593.8,2080.2 593.8,2089.5 592.8,2089.5 592.8,2089.5 591.8,2089.5 591.8,2088.8 590.8,2088.8 590.8,2097.8 589.8,2097.8 589.8,2067.3 588.8,2067.3 588.8,2078.4 587.8,2078.4 587.8,2069.0 586.8,2069.0 586.8,2075.2 585.8,2075.2 585.8,2064.4 584.8,2064.4 584.8,2090.5 583.8,2090.5 583.8,2060.9 582.8,2060.9 582.8,2057.0 581.8,2057.0 581.8,2042.9 580.8,2042.9 580.8,2078.2 579.8,2078.2 579.8,2096.5 578.8,2096.5 578.8,2096.4 577.8,2096.4 577.8,2095.4 576.8,2095.4 576.8,2087.5 575.8,2087.5 575.8,2096.0 574.8,2096.0 574.8,2077.1 573.8,2077.1 573.8,2077.1 572.8,2077.1 572.8,2063.2 571.8,2063.2 571.8,2074.5 570.8,2074.5 570.8,2047.1 569.8,2047.1 569.8,2074.6 568.8,2074.6 568.8,2096.7 567.8,2096.7 567.8,2096.7 566.8,2096.7 566.8,2096.9 565.8,2096.9 565.8,2097.0 564.8,2097.0 564.8,2097.1 563.8,2097.1 563.8,2081.1 562.8,2081.1 562.8,2080.3 561.8,2080.3 561.8,2080.3 560.8,2080.3 560.8,2052.9 559.8,2052.9 559.8,2062.1 558.8,2062.1 558.8,2066.8 557.8,2066.8 557.8,2053.7 556.8,2053.7 556.8,2065.1 555.8,2065.1 555.8,2052.5 554.8,2052.5 554.8,2034.4 553.8,2034.4 553.8,2071.2 552.8,2071.2 552.8,2037.2 551.8,2037.2 551.8,2055.8 550.8,2055.8 550.8,2054.2 549.8,2054.2 549.8,2056.7 548.8,2056.7 548.8,2080.8 547.8,2080.8 547.8,2063.8 546.8,2063.8 546.8,2067.8 545.8,2067.8 545.8,2076.4 544.8,2076.4 544.8,2121.9 543.8,2121.9 543.8,2110.2 542.8,2110.2 542.8,2127.6 541.8,2127.6 541.8,2102.0 540.8,2102.0 540.8,2106.9 539.8,2106.9 539.8,2148.4 538.8,2148.4 538.8,2153.3 537.8,2153.3 537.8,2131.0 536.8,2131.0 536.8,2097.8 535.8,2097.8 535.8,2076.6 534.8,2076.6 534.8,2087.5 533.8,2087.5 533.8,2103.5 532.8,2103.5 532.8,2127.2 531.8,2127.2 531.8,2122.8 530.8,2122.8 530.8,2119.2 529.8,2119.2 529.8,2124.3 528.8,2124.3 528.8,2122.2 527.8,2122.2 527.8,2117.4 526.8,2117.4 526.8,2145.4 525.8,2145.4 525.8,2124.0 524.8,2124.0 524.8,2109.4 523.8,2109.4 523.8,2094.7 522.8,2094.7 522.8,2118.9 521.8,2118.9 521.8,2165.1 520.8,2165.1 520.8,2165.1 519.8,2165.1 519.8,2165.8 518.8,2165.8 518.8,2160.0 517.8,2160.0 517.8,2150.9 516.8,2150.9 516.8,2167.6 515.8,2167.6 515.8,2167.6 514.8,2167.6 514.8,2138.5 513.8,2138.5 513.8,2127.4 512.8,2127.4 512.8,2114.4 511.8,2114.4 511.8,2127.1 510.8,2127.1 510.8,2127.1 509.8,2127.1 509.8,2162.2 508.8,2162.2 508.8,2162.2 507.8,2162.2 507.8,2164.5 506.8,2164.5 506.8,2167.7 505.8,2167.7 505.8,2162.8 504.8,2162.8 504.8,2173.0 503.8,2173.0 503.8,2132.5 502.8,2132.5 502.8,2132.5 501.8,2132.5 501.8,2140.9 500.8,2140.9 500.8,2130.4 499.8,2130.4 499.8,2126.1 498.8,2126.1 498.8,2126.1 497.8,2126.1 497.8,2107.4 496.8,2107.4 496.8,2122.6 495.8,2122.6 495.8,2142.4 494.8,2142.4 494.8,2173.7 493.8,2173.7 493.8,2107.4 492.8,2107.4 492.8,2120.3 491.8,2120.3 491.8,2107.8 490.8,2107.8 490.8,2092.1 489.8,2092.1 489.8,2097.8 488.8,2097.8 488.8,2154.0 487.8,2154.0 487.8,2139.6 486.8,2139.6 486.8,2151.9 485.8,2151.9 485.8,2140.9 484.8,2140.9 484.8,2140.9 483.8,2140.9 483.8,2130.0 482.8,2130.0 482.8,2122.8 481.8,2122.8 481.8,2151.1 480.8,2151.1 480.8,2164.0 479.8,2164.0 479.8,2167.2 478.8,2167.2 478.8,2168.4 477.8,2168.4 477.8,2178.8 476.8,2178.8 476.8,2149.5 475.8,2149.5 475.8,2168.6 474.8,2168.6 474.8,2171.4 473.8,2171.4 473.8,2180.3 472.8,2180.3 472.8,2176.2 471.8,2176.2 471.8,2181.1 470.8,2181.1 470.8,2169.5 469.8,2169.5 469.8,2162.4 468.8,2162.4 468.8,2161.9 467.8,2161.9 467.8,2175.9 466.8,2175.9 466.8,2168.3 465.8,2168.3 465.8,2161.6 464.8,2161.6 464.8,2126.6 463.8,2126.6 463.8,2138.5 462.8,2138.5 462.8,2164.1 461.8,2164.1 461.8,2153.4 460.8,2153.4 460.8,2163.6 459.8,2163.6 459.8,2163.6 458.8,2163.6 458.8,2126.4 457.8,2126.4 457.8,2134.6 456.8,2134.6 456.8,2134.6 455.8,2134.6 455.8,2122.4 454.8,2122.4 454.8,2122.6 453.8,2122.6 453.8,2143.5 452.8,2143.5 452.8,2162.5 451.8,2162.5 451.8,2185.2 450.8,2185.2 450.8,2174.1 449.8,2174.1 449.8,2176.9 448.8,2176.9 448.8,2176.9 447.8,2176.9 447.8,2143.2 446.8,2143.2 446.8,2136.1 445.8,2136.1 445.8,2119.8 444.8,2119.8 444.8,2128.6 443.8,2128.6 443.8,2119.9 442.8,2119.9 442.8,2107.0 441.8,2107.0 441.8,2107.0 440.8,2107.0 440.8,2124.5 439.8,2124.5 439.8,2137.4 438.8,2137.4 438.8,2071.6 437.8,2071.6 437.8,2080.3 436.8,2080.3 436.8,2081.5 435.8,2081.5 435.8,2061.1 434.8,2061.1 434.8,2094.1 433.8,2094.1 433.8,2090.2 432.8,2090.2 432.8,2088.2 431.8,2088.2 431.8,2084.2 430.8,2084.2 430.8,2115.7 429.8,2115.7 429.8,2097.5 428.8,2097.5 428.8,2133.0 427.8,2133.0 427.8,2131.0 426.8,2131.0 426.8,2115.2 425.8,2115.2 425.8,2096.1 424.8,2096.1 424.8,2100.1 423.8,2100.1 423.8,2085.3 422.8,2085.3 422.8,2102.3 421.8,2102.3 421.8,2102.3 420.8,2102.3 420.8,2072.3 419.8,2072.3 419.8,2098.4 418.8,2098.4 418.8,2080.0 417.8,2080.0 417.8,2102.5 416.8,2102.5 416.8,2117.3 415.8,2117.3 415.8,2116.9 414.8,2116.9 414.8,2116.9 413.8,2116.9 413.8,2110.0 412.8,2110.0 412.8,2110.0 411.8,2110.0 411.8,2084.0 410.8,2084.0 410.8,2094.2 409.8,2094.2 409.8,2076.6 408.8,2076.6 408.8,2065.5 407.8,2065.5 407.8,2092.0 406.8,2092.0 406.8,2096.5 405.8,2096.5 405.8,2094.3 404.8,2094.3 404.8,2073.4 403.8,2073.4 403.8,2078.8 402.8,2078.8 402.8,2097.5 401.8,2097.5 401.8,2112.9 400.8,2112.9 400.8,2112.9 399.8,2112.9 399.8,2112.2 398.8,2112.2 398.8,2096.3 397.8,2096.3 397.8,2123.2 396.8,2123.2 396.8,2134.6 395.8,2134.6 395.8,2133.1 394.8,2133.1 394.8,2131.6 393.8,2131.6 393.8,2113.5 392.8,2113.5 392.8,2147.8 391.8,2147.8 391.8,2148.8 390.8,2148.8 390.8,2150.1 389.8,2150.1 389.8,2150.1 388.8,2150.1 388.8,2151.4 387.8,2151.4 387.8,2136.0 386.8,2136.0 386.8,2136.0 385.8,2136.0 385.8,2143.6 384.8,2143.6 384.8,2149.6 383.8,2149.6 383.8,2155.2 382.8,2155.2 382.8,2155.2 381.8,2155.2 381.8,2102.9 380.8,2102.9 380.8,2123.5 379.8,2123.5 379.8,2123.5 378.8,2123.5 378.8,2110.9 377.8,2110.9 377.8,2088.7 376.8,2088.7 376.8,2065.8 375.8,2065.8 375.8,2046.4 374.8,2046.4 374.8,2077.6 373.8,2077.6 373.8,2090.4 372.8,2090.4 372.8,2090.4 371.8,2090.4 371.8,2092.5 370.8,2092.5 370.8,2098.0 369.8,2098.0 369.8,2094.1 368.8,2094.1 368.8,2118.3 367.8,2118.3 367.8,2118.3 366.8,2118.3 366.8,2075.9 365.8,2075.9 365.8,2097.9 364.8,2097.9 364.8,2097.9 363.8,2097.9 363.8,2123.4 362.8,2123.4 362.8,2107.3 361.8,2107.3 361.8,2102.0 360.8,2102.0 360.8,2106.1 359.8,2106.1 359.8,2106.1 358.8,2106.1 358.8,2127.5 357.8,2127.5 357.8,2104.5 356.8,2104.5 356.8,2090.9 355.8,2090.9 355.8,2129.7 354.8,2129.7 354.8,2123.9 353.8,2123.9 353.8,2111.7 352.8,2111.7 352.8,2115.2 351.8,2115.2 351.8,2098.6 350.8,2098.6 350.8,2085.4 349.8,2085.4 349.8,2089.1 348.8,2089.1 348.8,2103.2 347.8,2103.2 347.8,2111.2 346.8,2111.2 346.8,2114.9 345.8,2114.9 345.8,2094.9 344.8,2094.9 344.8,2077.9 343.8,2077.9 343.8,2073.1 342.8,2073.1 342.8,2073.1 341.8,2073.1 341.8,2089.1 340.8,2089.1 340.8,2089.1 339.8,2089.1 339.8,2114.2 338.8,2114.2 338.8,2116.0 337.8,2116.0 337.8,2122.1 336.8,2122.1 336.8,2105.2 335.8,2105.2 335.8,2116.9 334.8,2116.9 334.8,2106.8 333.8,2106.8 333.8,2132.2 332.8,2132.2 332.8,2132.2 331.8,2132.2 331.8,2116.9 330.8,2116.9 330.8,2126.8 329.8,2126.8 329.8,2126.8 328.8,2126.8 328.8,2123.2 327.8,2123.2 327.8,2090.3 326.8,2090.3 326.8,2099.7 325.8,2099.7 325.8,2099.7 324.8,2099.7 324.8,2092.5 323.8,2092.5 323.8,2127.9 322.8,2127.9 322.8,2112.0 321.8,2112.0 321.8,2146.7 320.8,2146.7 320.8,2148.3 319.8,2148.3 319.8,2137.8 318.8,2137.8 318.8,2137.8 317.8,2137.8 317.8,2152.8 316.8,2152.8 316.8,2142.7 315.8,2142.7 315.8,2118.5 314.8,2118.5 314.8,2122.8 313.8,2122.8 313.8,2110.3 312.8,2110.3 312.8,2091.0 311.8,2091.0 311.8,2096.9 310.8,2096.9 310.8,2137.4 309.8,2137.4 309.8,2115.7 308.8,2115.7 308.8,2101.9 307.8,2101.9 307.8,2119.2 306.8,2119.2 306.8,2161.5 305.8,2161.5 305.8,2139.8 304.8,2139.8 304.8,2115.7 303.8,2115.7 303.8,2136.2 302.8,2136.2 302.8,2136.2 301.8,2136.2 301.8,2122.7 300.8,2122.7 300.8,2156.8 299.8,2156.8 299.8,2140.2 298.8,2140.2 298.8,2149.6 297.8,2149.6 297.8,2208.2 296.8,2208.2 296.8,2208.2 295.8,2208.2 295.8,2215.0 294.8,2215.0 294.8,2179.8 293.8,2179.8 293.8,2146.5 292.8,2146.5 292.8,2158.6 291.8,2158.6 291.8,2155.8 290.8,2155.8 290.8,2169.9 289.8,2169.9 289.8,2169.9 288.8,2169.9 288.8,2157.3 287.8,2157.3 287.8,2164.0 286.8,2164.0 286.8,2164.0 285.8,2164.0 285.8,2148.1 284.8,2148.1 284.8,2142.6 283.8,2142.6 283.8,2145.7 282.8,2145.7 282.8,2181.0 281.8,2181.0 281.8,2181.0 280.8,2181.0 280.8,2146.3 279.8,2146.3 279.8,2146.3 278.8,2146.3 278.8,2131.4 277.8,2131.4 277.8,2145.3 276.8,2145.3 276.8,2149.4 275.8,2149.4 275.8,2133.7 274.8,2133.7 274.8,2122.9 273.8,2122.9 273.8,2112.7 272.8,2112.7 272.8,2146.3 271.8,2146.3 271.8,2128.2 270.8,2128.2 270.8,2167.0 269.8,2167.0 269.8,2159.5 268.8,2159.5 268.8,2113.2 267.8,2113.2 267.8,2150.9 266.8,2150.9 266.8,2156.9 265.8,2156.9 265.8,2159.1 264.8,2159.1 264.8,2159.6 263.8,2159.6 263.8,2161.2 262.8,2161.2 262.8,2176.4 261.8,2176.4 261.8,2180.7 260.8,2180.7 260.8,2180.0 259.8,2180.0 259.8,2180.2 258.8,2180.2 258.8,2199.9 257.8,2199.9 257.8,2202.9 256.8,2202.9 256.8,2192.3 255.8,2192.3 255.8,2187.5 254.8,2187.5 254.8,2231.3 253.8,2231.3 253.8,2231.3 252.8,2231.3 252.8,2174.6 251.8,2174.6 251.8,2164.8 250.8,2164.8 250.8,2153.3 249.8,2153.3 249.8,2171.6 248.8,2171.6 248.8,2144.2 247.8,2144.2 247.8,2163.6 246.8,2163.6 246.8,2177.7 245.8,2177.7 245.8,2178.8 244.8,2178.8 244.8,2178.8 243.8,2178.8 243.8,2131.6 242.8,2131.6 242.8,2159.7 241.8,2159.7 241.8,2200.1 240.8,2200.1 240.8,2200.1 239.8,2200.1 239.8,2185.1 238.8,2185.1 238.8,2188.1 237.8,2188.1 237.8,2153.9 236.8,2153.9 236.8,2185.1 235.8,2185.1 235.8,2179.1 234.8,2179.1 234.8,2182.0 233.8,2182.0 233.8,2190.4 232.8,2190.4 232.8,2171.7 231.8,2171.7 231.8,2178.6 230.8,2178.6 230.8,2156.3 229.8,2156.3 229.8,2173.3 228.8,2173.3 228.8,2147.8 227.8,2147.8 227.8,2153.6 226.8,2153.6 226.8,2156.2 225.8,2156.2 225.8,2156.2 224.8,2156.2 224.8,2159.0 223.8,2159.0 223.8,2159.0 222.8,2159.0 222.8,2175.6 221.8,2175.6 221.8,2151.2 220.8,2151.2 220.8,2163.4 219.8,2163.4 219.8,2163.4 218.8,2163.4 218.8,2159.0 217.8,2159.0 217.8,2145.2 216.8,2145.2 216.8,2168.4 215.8,2168.4 215.8,2164.5 214.8,2164.5 214.8,2136.2 213.8,2136.2 213.8,2166.2 212.8,2166.2 212.8,2130.2 211.8,2130.2 211.8,2092.9 210.8,2092.9 210.8,2129.6 209.8,2129.6 209.8,2141.2 208.8,2141.2 208.8,2133.4 207.8,2133.4 207.8,2133.4 206.8,2133.4 206.8,2124.7 205.8,2124.7 205.8,2130.4 204.8,2130.4 204.8,2157.9 203.8,2157.9 203.8,2146.4 202.8,2146.4 202.8,2114.5 201.8,2114.5 201.8,2103.0 200.8,2103.0 200.8,2110.1 199.8,2110.1 199.8,2129.4 198.8,2129.4 198.8,2152.2 197.8,2152.2 197.8,2131.5 196.8,2131.5 196.8,2140.1 195.8,2140.1 195.8,2118.8 194.8,2118.8 194.8,2138.8 193.8,2138.8 193.8,2138.8 192.8,2138.8 192.8,2136.3 191.8,2136.3 191.8,2137.6 190.8,2137.6 190.8,2178.1 189.8,2178.1 189.8,2141.4 188.8,2141.4 188.8,2181.4 187.8,2181.4 187.8,2178.7 186.8,2178.7 186.8,2178.7 185.8,2178.7 185.8,2137.6 184.8,2137.6 184.8,2159.4 183.8,2159.4 183.8,2171.6 182.8,2171.6 182.8,2179.3 181.8,2179.3 181.8,2179.3 180.8,2179.3 180.8,2151.4 179.8,2151.4 179.8,2195.3 178.8,2195.3 178.8,2195.3 177.8,2195.3 177.8,2196.0 176.8,2196.0 176.8,2160.4 175.8,2160.4 175.8,2168.2 174.8,2168.2 174.8,2134.0 173.8,2134.0 173.8,2214.0 172.8,2214.0 172.8,2137.3 171.8,2137.3 171.8,2133.4 170.8,2133.4 170.8,2128.0 169.8,2128.0 169.8,2085.3 168.8,2085.3 168.8,2126.3 167.8,2126.3 167.8,2140.4 166.8,2140.4 166.8,2155.4 165.8,2155.4 165.8,2131.6 164.8,2131.6 164.8,2105.6 163.8,2105.6 163.8,2142.2 162.8,2142.2 162.8,2153.3 161.8,2153.3 161.8,2140.6 160.8,2140.6 160.8,2140.6 159.8,2140.6 159.8,2103.8 158.8,2103.8"/><path d="M152.80,573.36h14.00M1328.70,573.36h-14.00M152.80,511.32h28.20M1328.70,511.32h-28.20M152.80,449.28h14.00M1328.70,449.28h-14.00M152.80,387.24h28.20M1328.70,387.24h-28.20M152.80,325.20h14.00M1328.70,325.20h-14.00M152.80,263.16h28.20M1328.70,263.16h-28.20M152.80,201.12h14.00M1328.70,201.12h-14.00M152.80,139.08h28.20M1328.70,139.08h-28.20M152.80,77.04h14.00M1328.70,77.04h-14.00M270.39,635.40v-11.00M270.39,15.00v11.00M387.98,635.40v-21.70M387.98,15.00v21.70M505.57,635.40v-11.00M505.57,15.00v11.00M623.16,635.40v-21.70M623.16,15.00v21.70M740.75,635.40v-11.00M740.75,15.00v11.00M858.34,635.40v-21.70M858.34,15.00v21.70M975.93,635.40v-11.00M975.93,15.00v11.00M1093.52,635.40v-21.70M1093.52,15.00v21.70M1211.11,635.40v-11.00M1211.11,15.00v11.00" stroke="#000" stroke-width="1.9" fill="none"/><rect x="152.80" y="15.00" width="1175.90" height="620.40" fill="none" stroke="#000" stroke-width="2.3"/><path d="M159.70,1403.67h13.70M1308.10,1403.67h-13.70M159.70,1337.84h26.40M1308.10,1337.84h-26.40M159.70,1272.01h13.70M1308.10,1272.01h-13.70M159.70,1206.18h26.40M1308.10,1206.18h-26.40M159.70,1140.35h13.70M1308.10,1140.35h-13.70M159.70,1074.52h26.40M1308.10,1074.52h-26.40M159.70,1008.69h13.70M1308.10,1008.69h-13.70M159.70,942.86h26.40M1308.10,942.86h-26.40M159.70,877.03h13.70M1308.10,877.03h-13.70M274.54,1469.50v-10.70M274.54,811.20v10.70M389.38,1469.50v-20.60M389.38,811.20v20.60M504.22,1469.50v-10.70M504.22,811.20v10.70M619.06,1469.50v-20.60M619.06,811.20v20.60M733.90,1469.50v-10.70M733.90,811.20v10.70M848.74,1469.50v-20.60M848.74,811.20v20.60M963.58,1469.50v-10.70M963.58,811.20v10.70M1078.42,1469.50v-20.60M1078.42,811.20v20.60M1193.26,1469.50v-10.70M1193.26,811.20v10.70" stroke="#000" stroke-width="1.8" fill="none"/><rect x="159.70" y="811.20" width="1148.40" height="658.30" fill="none" stroke="#000" stroke-width="2.0"/><path d="M158.80,2282.16h15.30M1309.40,2282.16h-15.30M158.80,2239.82h29.70M1309.40,2239.82h-29.70M158.80,2197.49h15.30M1309.40,2197.49h-15.30M158.80,2155.15h29.70M1309.40,2155.15h-29.70M158.80,2112.81h15.30M1309.40,2112.81h-15.30M158.80,2070.47h29.70M1309.40,2070.47h-29.70M158.80,2028.14h15.30M1309.40,2028.14h-15.30M158.80,1985.80h29.70M1309.40,1985.80h-29.70M158.80,1943.46h15.30M1309.40,1943.46h-15.30M158.80,1901.12h29.70M1309.40,1901.12h-29.70M158.80,1858.79h15.30M1309.40,1858.79h-15.30M158.80,1816.45h29.70M1309.40,1816.45h-29.70M158.80,1774.11h15.30M1309.40,1774.11h-15.30M158.80,1731.77h29.70M1309.40,1731.77h-29.70M158.80,1689.44h15.30M1309.40,1689.44h-15.30M273.86,2324.50v-10.90M273.86,1647.10v10.90M388.92,2324.50v-21.80M388.92,1647.10v21.80M503.98,2324.50v-10.90M503.98,1647.10v10.90M619.04,2324.50v-21.80M619.04,1647.10v21.80M734.10,2324.50v-10.90M734.10,1647.10v10.90M849.16,2324.50v-21.80M849.16,1647.10v21.80M964.22,2324.50v-10.90M964.22,1647.10v10.90M1079.28,2324.50v-21.80M1079.28,1647.10v21.80M1194.34,2324.50v-10.90M1194.34,1647.10v10.90" stroke="#000" stroke-width="1.8" fill="none"/><rect x="158.80" y="1647.10" width="1150.60" height="677.40" fill="none" stroke="#000" stroke-width="2.1"/><path d="M1071.7,90.4H1102.1" stroke="#1212a8" stroke-width="1.7"/><path d="M1006.9,883.2H1035.1" stroke="#1212a8" stroke-width="1.7"/><path d="M1013.4,1721.5H1045.4" stroke="#1212a8" stroke-width="1.7"/><g fill="#000" stroke="#000" stroke-width="0.15" style="font-kerning:none"><text transform="translate(91.65,25.26) scale(1.2490,1)" font-family="&quot;Liberation Serif&quot;, &quot;Times New Roman&quot;, serif" font-size="30.80" font-weight="normal">1.8</text><text transform="translate(72.42,149.49) scale(1.2490,1)" font-family="&quot;Liberation Serif&quot;, &quot;Times New Roman&quot;, serif" font-size="30.80" font-weight="normal">1.75</text><text transform="translate(91.27,273.57) scale(1.2490,1)" font-family="&quot;Liberation Serif&quot;, &quot;Times New Roman&quot;, serif" font-size="30.80" font-weight="normal">1.7</text><text transform="translate(72.42,397.50) scale(1.2490,1)" font-family="&quot;Liberation Serif&quot;, &quot;Times New Roman&quot;, serif" font-size="30.80" font-weight="normal">1.65</text><text transform="translate(91.27,521.58) scale(1.2490,1)" font-family="&quot;Liberation Serif&quot;, &quot;Times New Roman&quot;, serif" font-size="30.80" font-weight="normal">1.6</text><text transform="translate(72.42,645.81) scale(1.2490,1)" font-family="&quot;Liberation Serif&quot;, &quot;Times New Roman&quot;, serif" font-size="30.80" font-weight="normal">1.55</text><text transform="translate(143.68,666.22) scale(1.2490,1)" font-family="&quot;Liberation Serif&quot;, &quot;Times New Roman&quot;, serif" font-size="30.80" font-weight="normal">0</text><text transform="translate(340.39,666.22) scale(1.2490,1)" font-family="&quot;Liberation Serif&quot;, &quot;Times New Roman&quot;, serif" font-size="30.80" font-weight="normal">20000</text><text transform="translate(575.96,666.22) scale(1.2490,1)" font-family="&quot;Liberation Serif&quot;, &quot;Times New Roman&quot;, serif" font-size="30.80" font-weight="normal">40000</text><text transform="translate(810.75,666.22) scale(1.2490,1)" font-family="&quot;Liberation Serif&quot;, &quot;Times New Roman&quot;, serif" font-size="30.80" font-weight="normal">60000</text><text transform="translate(1045.93,666.22) scale(1.2490,1)" font-family="&quot;Liberation Serif&quot;, &quot;Times New Roman&quot;, serif" font-size="30.80" font-weight="normal">80000</text><text transform="translate(1279.96,666.53) scale(1.2490,1)" font-family="&quot;Liberation Serif&quot;, &quot;Times New Roman&quot;, serif" font-size="30.80" font-weight="normal">1e+05</text><text transform="translate(665.54,696.71) scale(1.3340,1)" font-family="&quot;Liberation Serif&quot;, &quot;Times New Roman&quot;, serif" font-size="29.20" font-weight="normal">Time (ps)</text><text transform="translate(1129.40,97.41) scale(1.3340,1)" font-family="&quot;Liberation Serif&quot;, &quot;Times New Roman&quot;, serif" font-size="29.20" font-weight="normal">Rg_RhlI</text><text transform="translate(50.04,374.83) scale(1.3000,1) rotate(-90)" font-family="&quot;Liberation Serif&quot;, &quot;Times New Roman&quot;, serif" font-size="29.60">Rg (nm)</text><text transform="translate(94.38,820.98) scale(1.1810,1)" font-family="&quot;Liberation Serif&quot;, &quot;Times New Roman&quot;, serif" font-size="30.40" font-weight="normal">200</text><text transform="translate(94.38,952.79) scale(1.1810,1)" font-family="&quot;Liberation Serif&quot;, &quot;Times New Roman&quot;, serif" font-size="30.40" font-weight="normal">180</text><text transform="translate(94.38,1084.45) scale(1.1810,1)" font-family="&quot;Liberation Serif&quot;, &quot;Times New Roman&quot;, serif" font-size="30.40" font-weight="normal">160</text><text transform="translate(94.38,1216.11) scale(1.1810,1)" font-family="&quot;Liberation Serif&quot;, &quot;Times New Roman&quot;, serif" font-size="30.40" font-weight="normal">140</text><text transform="translate(94.38,1347.77) scale(1.1810,1)" font-family="&quot;Liberation Serif&quot;, &quot;Times New Roman&quot;, serif" font-size="30.40" font-weight="normal">120</text><text transform="translate(94.38,1479.43) scale(1.1810,1)" font-family="&quot;Liberation Serif&quot;, &quot;Times New Roman&quot;, serif" font-size="30.40" font-weight="normal">100</text><text transform="translate(151.22,1499.76) scale(1.1810,1)" font-family="&quot;Liberation Serif&quot;, &quot;Times New Roman&quot;, serif" font-size="30.40" font-weight="normal">0</text><text transform="translate(345.00,1499.76) scale(1.1810,1)" font-family="&quot;Liberation Serif&quot;, &quot;Times New Roman&quot;, serif" font-size="30.40" font-weight="normal">20000</text><text transform="translate(575.04,1499.76) scale(1.1810,1)" font-family="&quot;Liberation Serif&quot;, &quot;Times New Roman&quot;, serif" font-size="30.40" font-weight="normal">40000</text><text transform="translate(804.36,1499.76) scale(1.1810,1)" font-family="&quot;Liberation Serif&quot;, &quot;Times New Roman&quot;, serif" font-size="30.40" font-weight="normal">60000</text><text transform="translate(1034.04,1499.76) scale(1.1810,1)" font-family="&quot;Liberation Serif&quot;, &quot;Times New Roman&quot;, serif" font-size="30.40" font-weight="normal">80000</text><text transform="translate(1262.64,1500.06) scale(1.1810,1)" font-family="&quot;Liberation Serif&quot;, &quot;Times New Roman&quot;, serif" font-size="30.40" font-weight="normal">1e+05</text><text transform="translate(664.45,1529.76) scale(1.2470,1)" font-family="&quot;Liberation Serif&quot;, &quot;Times New Roman&quot;, serif" font-size="28.80" font-weight="normal">Time (ps)</text><text transform="translate(1060.76,892.27) scale(1.2470,1)" font-family="&quot;Liberation Serif&quot;, &quot;Times New Roman&quot;, serif" font-size="28.80" font-weight="normal">H_Bonds_RhlI</text><text transform="translate(80.91,1188.38) scale(1.2300,1) rotate(-90)" font-family="&quot;Liberation Serif&quot;, &quot;Times New Roman&quot;, serif" font-size="29.20">Number</text><text transform="translate(85.64,1657.21) scale(1.3000,1)" font-family="&quot;Liberation Serif&quot;, &quot;Times New Roman&quot;, serif" font-size="30.80" font-weight="normal">135</text><text transform="translate(85.64,1741.73) scale(1.3000,1)" font-family="&quot;Liberation Serif&quot;, &quot;Times New Roman&quot;, serif" font-size="30.80" font-weight="normal">130</text><text transform="translate(85.64,1826.56) scale(1.3000,1)" font-family="&quot;Liberation Serif&quot;, &quot;Times New Roman&quot;, serif" font-size="30.80" font-weight="normal">125</text><text transform="translate(85.64,1911.08) scale(1.3000,1)" font-family="&quot;Liberation Serif&quot;, &quot;Times New Roman&quot;, serif" font-size="30.80" font-weight="normal">120</text><text transform="translate(85.64,1995.91) scale(1.3000,1)" font-family="&quot;Liberation Serif&quot;, &quot;Times New Roman&quot;, serif" font-size="30.80" font-weight="normal">115</text><text transform="translate(85.64,2080.43) scale(1.3000,1)" font-family="&quot;Liberation Serif&quot;, &quot;Times New Roman&quot;, serif" font-size="30.80" font-weight="normal">110</text><text transform="translate(85.64,2165.11) scale(1.3000,1)" font-family="&quot;Liberation Serif&quot;, &quot;Times New Roman&quot;, serif" font-size="30.80" font-weight="normal">105</text><text transform="translate(85.64,2249.78) scale(1.3000,1)" font-family="&quot;Liberation Serif&quot;, &quot;Times New Roman&quot;, serif" font-size="30.80" font-weight="normal">100</text><text transform="translate(105.66,2334.46) scale(1.3000,1)" font-family="&quot;Liberation Serif&quot;, &quot;Times New Roman&quot;, serif" font-size="30.80" font-weight="normal">95</text><text transform="translate(149.29,2356.22) scale(1.3000,1)" font-family="&quot;Liberation Serif&quot;, &quot;Times New Roman&quot;, serif" font-size="30.80" font-weight="normal">0</text><text transform="translate(339.37,2356.22) scale(1.3000,1)" font-family="&quot;Liberation Serif&quot;, &quot;Times New Roman&quot;, serif" font-size="30.80" font-weight="normal">20000</text><text transform="translate(569.89,2356.22) scale(1.3000,1)" font-family="&quot;Liberation Serif&quot;, &quot;Times New Roman&quot;, serif" font-size="30.80" font-weight="normal">40000</text><text transform="translate(799.61,2356.22) scale(1.3000,1)" font-family="&quot;Liberation Serif&quot;, &quot;Times New Roman&quot;, serif" font-size="30.80" font-weight="normal">60000</text><text transform="translate(1029.73,2356.22) scale(1.3000,1)" font-family="&quot;Liberation Serif&quot;, &quot;Times New Roman&quot;, serif" font-size="30.80" font-weight="normal">80000</text><text transform="translate(1260.15,2356.53) scale(1.3000,1)" font-family="&quot;Liberation Serif&quot;, &quot;Times New Roman&quot;, serif" font-size="30.80" font-weight="normal">1e+05</text><text transform="translate(656.12,2386.16) scale(1.3750,1)" font-family="&quot;Liberation Serif&quot;, &quot;Times New Roman&quot;, serif" font-size="29.40" font-weight="normal">Time (ps)</text><text transform="translate(1075.10,1730.15) scale(1.3600,1)" font-family="&quot;Liberation Serif&quot;, &quot;Times New Roman&quot;, serif" font-size="29.20" font-weight="normal">SASA_RhlI</text><text transform="translate(61.92,2050.94) scale(1.3400,1) rotate(-90)" font-family="&quot;Liberation Serif&quot;, &quot;Times New Roman&quot;, serif" font-size="29.60">Area (nm</text><text transform="translate(38.40,1940.20) scale(1.3400,1) rotate(-90)" font-family="&quot;Liberation Serif&quot;, &quot;Times New Roman&quot;, serif" font-size="22.50">2</text><text transform="translate(61.82,1929.54) scale(1.3400,1) rotate(-90)" font-family="&quot;Liberation Serif&quot;, &quot;Times New Roman&quot;, serif" font-size="29.60">)</text><text transform="translate(1.38,32.94) scale(1.0129,1)" font-family="&quot;Liberation Sans&quot;, Arial, sans-serif" font-size="43.53" font-weight="bold">A</text><text transform="translate(2.43,809.40) scale(0.9426,1)" font-family="&quot;Liberation Sans&quot;, Arial, sans-serif" font-size="43.48" font-weight="bold">B</text><text transform="translate(0.92,1633.97) scale(0.9138,1)" font-family="&quot;Liberation Sans&quot;, Arial, sans-serif" font-size="43.10" font-weight="bold">C</text></g></svg></body></html>
